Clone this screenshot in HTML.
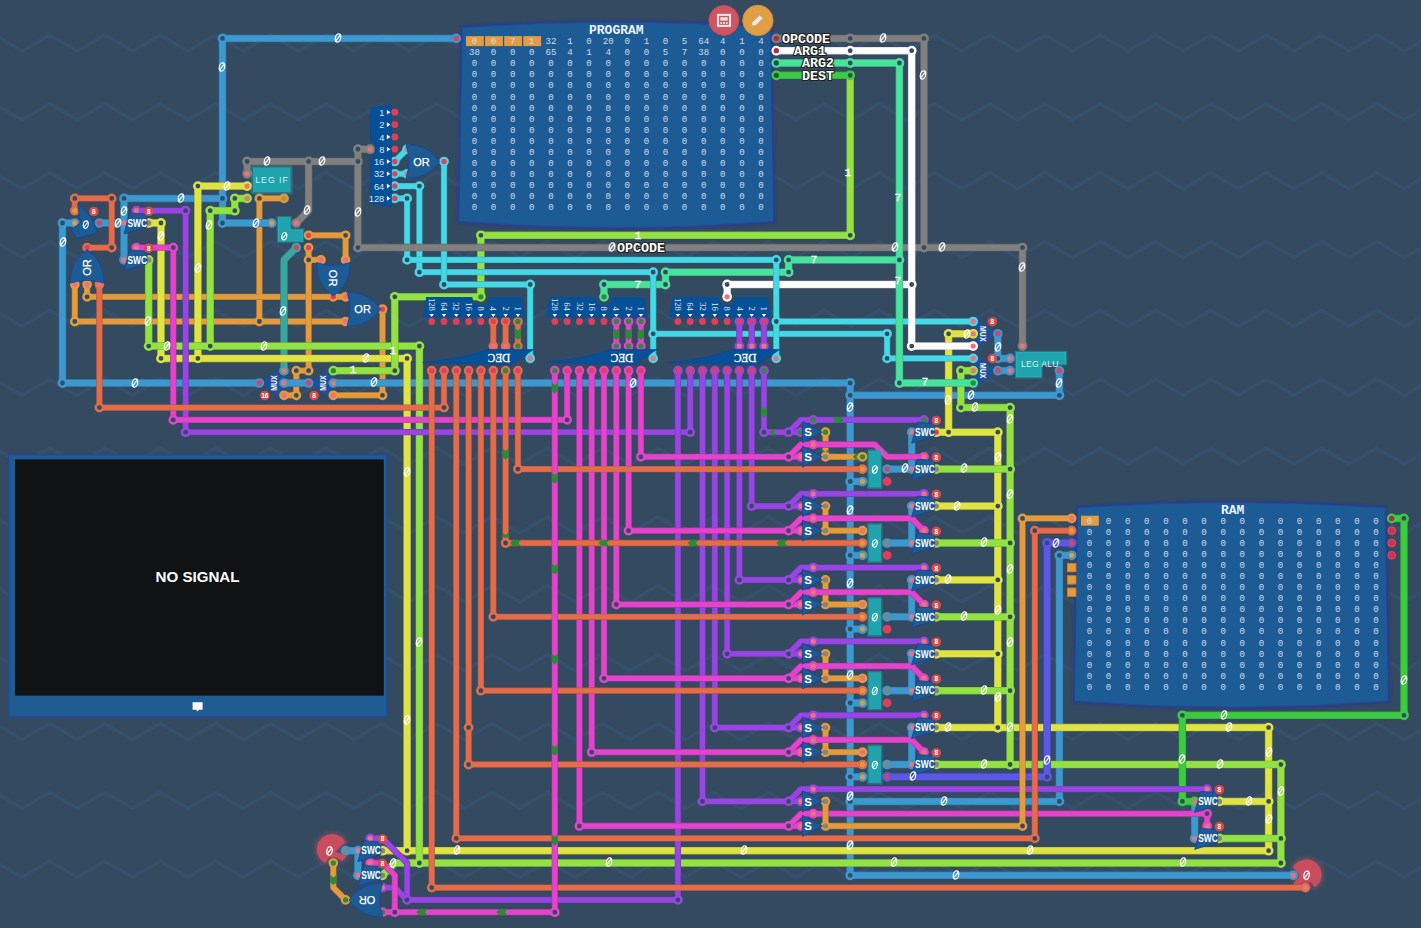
<!DOCTYPE html><html><head><meta charset="utf-8"><title>Turing Complete</title><style>html,body{margin:0;padding:0;background:#344a61;overflow:hidden}svg{display:block}</style></head><body>
<svg font-family="Liberation Sans, sans-serif" width="1421" height="928" viewBox="0 0 1421 928">
<defs><filter id="bl" x="-30%" y="-30%" width="160%" height="160%"><feGaussianBlur stdDeviation="2"/></filter><filter id="bl1" x="-5%" y="-5%" width="110%" height="110%"><feGaussianBlur stdDeviation="1.3"/></filter></defs>
<rect width="1421" height="928" fill="#344a61"/>
<polyline points="-61.0,35.0 -33.3,51.0 -5.7,35.0 22.0,51.0 49.6,35.0 77.2,51.0 104.9,35.0 132.6,51.0 160.2,35.0 187.8,51.0 215.5,35.0 243.2,51.0 270.8,35.0 298.4,51.0 326.1,35.0 353.8,51.0 381.4,35.0 409.1,51.0 436.7,35.0 464.4,51.0 492.0,35.0 519.7,51.0 547.3,35.0 575.0,51.0 602.6,35.0 630.2,51.0 657.9,35.0 685.5,51.0 713.2,35.0 740.8,51.0 768.5,35.0 796.1,51.0 823.8,35.0 851.4,51.0 879.1,35.0 906.7,51.0 934.4,35.0 962.0,51.0 989.7,35.0 1017.3,51.0 1045.0,35.0 1072.6,51.0 1100.3,35.0 1127.9,51.0 1155.6,35.0 1183.2,51.0 1210.9,35.0 1238.5,51.0 1266.2,35.0 1293.8,51.0 1321.5,35.0 1349.1,51.0 1376.8,35.0 1404.4,51.0 1432.1,35.0 1459.7,51.0" fill="none" stroke="#36506c" stroke-width="3.6" stroke-linejoin="miter"/>
<polyline points="-61.0,103.8 -33.3,119.8 -5.7,103.8 22.0,119.8 49.6,103.8 77.2,119.8 104.9,103.8 132.6,119.8 160.2,103.8 187.8,119.8 215.5,103.8 243.2,119.8 270.8,103.8 298.4,119.8 326.1,103.8 353.8,119.8 381.4,103.8 409.1,119.8 436.7,103.8 464.4,119.8 492.0,103.8 519.7,119.8 547.3,103.8 575.0,119.8 602.6,103.8 630.2,119.8 657.9,103.8 685.5,119.8 713.2,103.8 740.8,119.8 768.5,103.8 796.1,119.8 823.8,103.8 851.4,119.8 879.1,103.8 906.7,119.8 934.4,103.8 962.0,119.8 989.7,103.8 1017.3,119.8 1045.0,103.8 1072.6,119.8 1100.3,103.8 1127.9,119.8 1155.6,103.8 1183.2,119.8 1210.9,103.8 1238.5,119.8 1266.2,103.8 1293.8,119.8 1321.5,103.8 1349.1,119.8 1376.8,103.8 1404.4,119.8 1432.1,103.8 1459.7,119.8" fill="none" stroke="#36506c" stroke-width="3.6" stroke-linejoin="miter"/>
<polyline points="-61.0,172.7 -33.3,188.7 -5.7,172.7 22.0,188.7 49.6,172.7 77.2,188.7 104.9,172.7 132.6,188.7 160.2,172.7 187.8,188.7 215.5,172.7 243.2,188.7 270.8,172.7 298.4,188.7 326.1,172.7 353.8,188.7 381.4,172.7 409.1,188.7 436.7,172.7 464.4,188.7 492.0,172.7 519.7,188.7 547.3,172.7 575.0,188.7 602.6,172.7 630.2,188.7 657.9,172.7 685.5,188.7 713.2,172.7 740.8,188.7 768.5,172.7 796.1,188.7 823.8,172.7 851.4,188.7 879.1,172.7 906.7,188.7 934.4,172.7 962.0,188.7 989.7,172.7 1017.3,188.7 1045.0,172.7 1072.6,188.7 1100.3,172.7 1127.9,188.7 1155.6,172.7 1183.2,188.7 1210.9,172.7 1238.5,188.7 1266.2,172.7 1293.8,188.7 1321.5,172.7 1349.1,188.7 1376.8,172.7 1404.4,188.7 1432.1,172.7 1459.7,188.7" fill="none" stroke="#36506c" stroke-width="3.6" stroke-linejoin="miter"/>
<polyline points="-61.0,241.5 -33.3,257.5 -5.7,241.5 22.0,257.5 49.6,241.5 77.2,257.5 104.9,241.5 132.6,257.5 160.2,241.5 187.8,257.5 215.5,241.5 243.2,257.5 270.8,241.5 298.4,257.5 326.1,241.5 353.8,257.5 381.4,241.5 409.1,257.5 436.7,241.5 464.4,257.5 492.0,241.5 519.7,257.5 547.3,241.5 575.0,257.5 602.6,241.5 630.2,257.5 657.9,241.5 685.5,257.5 713.2,241.5 740.8,257.5 768.5,241.5 796.1,257.5 823.8,241.5 851.4,257.5 879.1,241.5 906.7,257.5 934.4,241.5 962.0,257.5 989.7,241.5 1017.3,257.5 1045.0,241.5 1072.6,257.5 1100.3,241.5 1127.9,257.5 1155.6,241.5 1183.2,257.5 1210.9,241.5 1238.5,257.5 1266.2,241.5 1293.8,257.5 1321.5,241.5 1349.1,257.5 1376.8,241.5 1404.4,257.5 1432.1,241.5 1459.7,257.5" fill="none" stroke="#36506c" stroke-width="3.6" stroke-linejoin="miter"/>
<polyline points="-61.0,310.4 -33.3,326.4 -5.7,310.4 22.0,326.4 49.6,310.4 77.2,326.4 104.9,310.4 132.6,326.4 160.2,310.4 187.8,326.4 215.5,310.4 243.2,326.4 270.8,310.4 298.4,326.4 326.1,310.4 353.8,326.4 381.4,310.4 409.1,326.4 436.7,310.4 464.4,326.4 492.0,310.4 519.7,326.4 547.3,310.4 575.0,326.4 602.6,310.4 630.2,326.4 657.9,310.4 685.5,326.4 713.2,310.4 740.8,326.4 768.5,310.4 796.1,326.4 823.8,310.4 851.4,326.4 879.1,310.4 906.7,326.4 934.4,310.4 962.0,326.4 989.7,310.4 1017.3,326.4 1045.0,310.4 1072.6,326.4 1100.3,310.4 1127.9,326.4 1155.6,310.4 1183.2,326.4 1210.9,310.4 1238.5,326.4 1266.2,310.4 1293.8,326.4 1321.5,310.4 1349.1,326.4 1376.8,310.4 1404.4,326.4 1432.1,310.4 1459.7,326.4" fill="none" stroke="#36506c" stroke-width="3.6" stroke-linejoin="miter"/>
<polyline points="-61.0,379.2 -33.3,395.2 -5.7,379.2 22.0,395.2 49.6,379.2 77.2,395.2 104.9,379.2 132.6,395.2 160.2,379.2 187.8,395.2 215.5,379.2 243.2,395.2 270.8,379.2 298.4,395.2 326.1,379.2 353.8,395.2 381.4,379.2 409.1,395.2 436.7,379.2 464.4,395.2 492.0,379.2 519.7,395.2 547.3,379.2 575.0,395.2 602.6,379.2 630.2,395.2 657.9,379.2 685.5,395.2 713.2,379.2 740.8,395.2 768.5,379.2 796.1,395.2 823.8,379.2 851.4,395.2 879.1,379.2 906.7,395.2 934.4,379.2 962.0,395.2 989.7,379.2 1017.3,395.2 1045.0,379.2 1072.6,395.2 1100.3,379.2 1127.9,395.2 1155.6,379.2 1183.2,395.2 1210.9,379.2 1238.5,395.2 1266.2,379.2 1293.8,395.2 1321.5,379.2 1349.1,395.2 1376.8,379.2 1404.4,395.2 1432.1,379.2 1459.7,395.2" fill="none" stroke="#36506c" stroke-width="3.6" stroke-linejoin="miter"/>
<polyline points="-61.0,448.1 -33.3,464.1 -5.7,448.1 22.0,464.1 49.6,448.1 77.2,464.1 104.9,448.1 132.6,464.1 160.2,448.1 187.8,464.1 215.5,448.1 243.2,464.1 270.8,448.1 298.4,464.1 326.1,448.1 353.8,464.1 381.4,448.1 409.1,464.1 436.7,448.1 464.4,464.1 492.0,448.1 519.7,464.1 547.3,448.1 575.0,464.1 602.6,448.1 630.2,464.1 657.9,448.1 685.5,464.1 713.2,448.1 740.8,464.1 768.5,448.1 796.1,464.1 823.8,448.1 851.4,464.1 879.1,448.1 906.7,464.1 934.4,448.1 962.0,464.1 989.7,448.1 1017.3,464.1 1045.0,448.1 1072.6,464.1 1100.3,448.1 1127.9,464.1 1155.6,448.1 1183.2,464.1 1210.9,448.1 1238.5,464.1 1266.2,448.1 1293.8,464.1 1321.5,448.1 1349.1,464.1 1376.8,448.1 1404.4,464.1 1432.1,448.1 1459.7,464.1" fill="none" stroke="#36506c" stroke-width="3.6" stroke-linejoin="miter"/>
<polyline points="-61.0,516.9 -33.3,532.9 -5.7,516.9 22.0,532.9 49.6,516.9 77.2,532.9 104.9,516.9 132.6,532.9 160.2,516.9 187.8,532.9 215.5,516.9 243.2,532.9 270.8,516.9 298.4,532.9 326.1,516.9 353.8,532.9 381.4,516.9 409.1,532.9 436.7,516.9 464.4,532.9 492.0,516.9 519.7,532.9 547.3,516.9 575.0,532.9 602.6,516.9 630.2,532.9 657.9,516.9 685.5,532.9 713.2,516.9 740.8,532.9 768.5,516.9 796.1,532.9 823.8,516.9 851.4,532.9 879.1,516.9 906.7,532.9 934.4,516.9 962.0,532.9 989.7,516.9 1017.3,532.9 1045.0,516.9 1072.6,532.9 1100.3,516.9 1127.9,532.9 1155.6,516.9 1183.2,532.9 1210.9,516.9 1238.5,532.9 1266.2,516.9 1293.8,532.9 1321.5,516.9 1349.1,532.9 1376.8,516.9 1404.4,532.9 1432.1,516.9 1459.7,532.9" fill="none" stroke="#36506c" stroke-width="3.6" stroke-linejoin="miter"/>
<polyline points="-61.0,585.8 -33.3,601.8 -5.7,585.8 22.0,601.8 49.6,585.8 77.2,601.8 104.9,585.8 132.6,601.8 160.2,585.8 187.8,601.8 215.5,585.8 243.2,601.8 270.8,585.8 298.4,601.8 326.1,585.8 353.8,601.8 381.4,585.8 409.1,601.8 436.7,585.8 464.4,601.8 492.0,585.8 519.7,601.8 547.3,585.8 575.0,601.8 602.6,585.8 630.2,601.8 657.9,585.8 685.5,601.8 713.2,585.8 740.8,601.8 768.5,585.8 796.1,601.8 823.8,585.8 851.4,601.8 879.1,585.8 906.7,601.8 934.4,585.8 962.0,601.8 989.7,585.8 1017.3,601.8 1045.0,585.8 1072.6,601.8 1100.3,585.8 1127.9,601.8 1155.6,585.8 1183.2,601.8 1210.9,585.8 1238.5,601.8 1266.2,585.8 1293.8,601.8 1321.5,585.8 1349.1,601.8 1376.8,585.8 1404.4,601.8 1432.1,585.8 1459.7,601.8" fill="none" stroke="#36506c" stroke-width="3.6" stroke-linejoin="miter"/>
<polyline points="-61.0,654.6 -33.3,670.6 -5.7,654.6 22.0,670.6 49.6,654.6 77.2,670.6 104.9,654.6 132.6,670.6 160.2,654.6 187.8,670.6 215.5,654.6 243.2,670.6 270.8,654.6 298.4,670.6 326.1,654.6 353.8,670.6 381.4,654.6 409.1,670.6 436.7,654.6 464.4,670.6 492.0,654.6 519.7,670.6 547.3,654.6 575.0,670.6 602.6,654.6 630.2,670.6 657.9,654.6 685.5,670.6 713.2,654.6 740.8,670.6 768.5,654.6 796.1,670.6 823.8,654.6 851.4,670.6 879.1,654.6 906.7,670.6 934.4,654.6 962.0,670.6 989.7,654.6 1017.3,670.6 1045.0,654.6 1072.6,670.6 1100.3,654.6 1127.9,670.6 1155.6,654.6 1183.2,670.6 1210.9,654.6 1238.5,670.6 1266.2,654.6 1293.8,670.6 1321.5,654.6 1349.1,670.6 1376.8,654.6 1404.4,670.6 1432.1,654.6 1459.7,670.6" fill="none" stroke="#36506c" stroke-width="3.6" stroke-linejoin="miter"/>
<polyline points="-61.0,723.5 -33.3,739.5 -5.7,723.5 22.0,739.5 49.6,723.5 77.2,739.5 104.9,723.5 132.6,739.5 160.2,723.5 187.8,739.5 215.5,723.5 243.2,739.5 270.8,723.5 298.4,739.5 326.1,723.5 353.8,739.5 381.4,723.5 409.1,739.5 436.7,723.5 464.4,739.5 492.0,723.5 519.7,739.5 547.3,723.5 575.0,739.5 602.6,723.5 630.2,739.5 657.9,723.5 685.5,739.5 713.2,723.5 740.8,739.5 768.5,723.5 796.1,739.5 823.8,723.5 851.4,739.5 879.1,723.5 906.7,739.5 934.4,723.5 962.0,739.5 989.7,723.5 1017.3,739.5 1045.0,723.5 1072.6,739.5 1100.3,723.5 1127.9,739.5 1155.6,723.5 1183.2,739.5 1210.9,723.5 1238.5,739.5 1266.2,723.5 1293.8,739.5 1321.5,723.5 1349.1,739.5 1376.8,723.5 1404.4,739.5 1432.1,723.5 1459.7,739.5" fill="none" stroke="#36506c" stroke-width="3.6" stroke-linejoin="miter"/>
<polyline points="-61.0,792.3 -33.3,808.3 -5.7,792.3 22.0,808.3 49.6,792.3 77.2,808.3 104.9,792.3 132.6,808.3 160.2,792.3 187.8,808.3 215.5,792.3 243.2,808.3 270.8,792.3 298.4,808.3 326.1,792.3 353.8,808.3 381.4,792.3 409.1,808.3 436.7,792.3 464.4,808.3 492.0,792.3 519.7,808.3 547.3,792.3 575.0,808.3 602.6,792.3 630.2,808.3 657.9,792.3 685.5,808.3 713.2,792.3 740.8,808.3 768.5,792.3 796.1,808.3 823.8,792.3 851.4,808.3 879.1,792.3 906.7,808.3 934.4,792.3 962.0,808.3 989.7,792.3 1017.3,808.3 1045.0,792.3 1072.6,808.3 1100.3,792.3 1127.9,808.3 1155.6,792.3 1183.2,808.3 1210.9,792.3 1238.5,808.3 1266.2,792.3 1293.8,808.3 1321.5,792.3 1349.1,808.3 1376.8,792.3 1404.4,808.3 1432.1,792.3 1459.7,808.3" fill="none" stroke="#36506c" stroke-width="3.6" stroke-linejoin="miter"/>
<polyline points="-61.0,861.2 -33.3,877.2 -5.7,861.2 22.0,877.2 49.6,861.2 77.2,877.2 104.9,861.2 132.6,877.2 160.2,861.2 187.8,877.2 215.5,861.2 243.2,877.2 270.8,861.2 298.4,877.2 326.1,861.2 353.8,877.2 381.4,861.2 409.1,877.2 436.7,861.2 464.4,877.2 492.0,861.2 519.7,877.2 547.3,861.2 575.0,877.2 602.6,861.2 630.2,877.2 657.9,861.2 685.5,877.2 713.2,861.2 740.8,877.2 768.5,861.2 796.1,877.2 823.8,861.2 851.4,877.2 879.1,861.2 906.7,877.2 934.4,861.2 962.0,877.2 989.7,861.2 1017.3,877.2 1045.0,861.2 1072.6,877.2 1100.3,861.2 1127.9,877.2 1155.6,861.2 1183.2,877.2 1210.9,861.2 1238.5,877.2 1266.2,861.2 1293.8,877.2 1321.5,861.2 1349.1,877.2 1376.8,861.2 1404.4,877.2 1432.1,861.2 1459.7,877.2" fill="none" stroke="#36506c" stroke-width="3.6" stroke-linejoin="miter"/>
<polyline points="-61.0,930.0 -33.3,946.0 -5.7,930.0 22.0,946.0 49.6,930.0 77.2,946.0 104.9,930.0 132.6,946.0 160.2,930.0 187.8,946.0 215.5,930.0 243.2,946.0 270.8,930.0 298.4,946.0 326.1,930.0 353.8,946.0 381.4,930.0 409.1,946.0 436.7,930.0 464.4,946.0 492.0,930.0 519.7,946.0 547.3,930.0 575.0,946.0 602.6,930.0 630.2,946.0 657.9,930.0 685.5,946.0 713.2,930.0 740.8,946.0 768.5,930.0 796.1,946.0 823.8,930.0 851.4,946.0 879.1,930.0 906.7,946.0 934.4,930.0 962.0,946.0 989.7,930.0 1017.3,946.0 1045.0,930.0 1072.6,946.0 1100.3,930.0 1127.9,946.0 1155.6,930.0 1183.2,946.0 1210.9,930.0 1238.5,946.0 1266.2,930.0 1293.8,946.0 1321.5,930.0 1349.1,946.0 1376.8,930.0 1404.4,946.0 1432.1,930.0 1459.7,946.0" fill="none" stroke="#36506c" stroke-width="3.6" stroke-linejoin="miter"/>
<path d="M335.1,851.4 L345.3,842.0 A15.2,15.2 0 1 0 325.1,862.9 L329.1,857.4 L336.1,857.4 L342.1,860.7 L346.7,856.4 Z" fill="#e8546a" opacity="0.35" stroke="#e8546a" stroke-width="4" stroke-linejoin="round" filter="url(#bl)"/><path d="M335.1,851.4 L345.3,842.0 A15.2,15.2 0 1 0 325.1,862.9 L329.1,857.4 L336.1,857.4 L342.1,860.7 L346.7,856.4 Z" fill="#c94d5e"/><g transform="translate(329.5,851.0) skewX(-8) scale(1.05)" fill="none" stroke="#fff" stroke-width="1.2"><ellipse rx="2.6" ry="3.9"/><path d="M-1.8,2.8 L1.8,-2.8"/></g>
<path d="M1299.9,875.2 L1293.0,867.5 A15.2,15.2 0 1 1 1314.9,887.3 L1310.9,882.3 L1302.9,882.7 L1296.8,887.5 L1293.4,883.7 Z" fill="#e8546a" opacity="0.35" stroke="#e8546a" stroke-width="4" stroke-linejoin="round" filter="url(#bl)"/><path d="M1299.9,875.2 L1293.0,867.5 A15.2,15.2 0 1 1 1314.9,887.3 L1310.9,882.3 L1302.9,882.7 L1296.8,887.5 L1293.4,883.7 Z" fill="#c94d5e"/><g transform="translate(1306.6,875.3) skewX(-8) scale(1.05)" fill="none" stroke="#fff" stroke-width="1.2"><ellipse rx="2.6" ry="3.9"/><path d="M-1.8,2.8 L1.8,-2.8"/></g>
<path d="M462.2,27.5 Q616.3,17.0 770.4,27.5 L773.6,221.5 Q616.3,234.0 459.0,221.5 Z" fill="#2a3d86" stroke="#2a3d86" stroke-width="4.5" stroke-linejoin="round" filter="url(#bl1)" opacity="0.9"/><path d="M462.2,27.5 Q616.3,17.0 770.4,27.5 L773.6,221.5 Q616.3,234.0 459.0,221.5 Z" fill="#1d5b94" stroke="#24459c" stroke-width="0.8" stroke-linejoin="round"/><text x="616.3" y="34.2" font-family="Liberation Mono" font-size="13" font-weight="bold" fill="#eef3fa" text-anchor="middle" >PROGRAM</text><rect x="466.0" y="36.1" width="17.8" height="10" fill="#e39c41"/><rect x="485.1" y="36.1" width="17.8" height="10" fill="#e39c41"/><rect x="504.2" y="36.1" width="17.8" height="10" fill="#e39c41"/><rect x="523.3" y="36.1" width="17.8" height="10" fill="#e39c41"/><text transform="translate(474.5,44.1) scale(1.1,1)" font-family="Liberation Mono" font-size="8.3" fill="#cfdcee" text-anchor="middle">0</text><text transform="translate(493.6,44.1) scale(1.1,1)" font-family="Liberation Mono" font-size="8.3" fill="#cfdcee" text-anchor="middle">0</text><text transform="translate(512.7,44.1) scale(1.1,1)" font-family="Liberation Mono" font-size="8.3" fill="#cfdcee" text-anchor="middle">7</text><text transform="translate(531.8,44.1) scale(1.1,1)" font-family="Liberation Mono" font-size="8.3" fill="#cfdcee" text-anchor="middle">1</text><text transform="translate(550.9,44.1) scale(1.1,1)" font-family="Liberation Mono" font-size="8.3" fill="#cfdcee" text-anchor="middle">32</text><text transform="translate(570.0,44.1) scale(1.1,1)" font-family="Liberation Mono" font-size="8.3" fill="#cfdcee" text-anchor="middle">1</text><text transform="translate(589.1,44.1) scale(1.1,1)" font-family="Liberation Mono" font-size="8.3" fill="#cfdcee" text-anchor="middle">0</text><text transform="translate(608.2,44.1) scale(1.1,1)" font-family="Liberation Mono" font-size="8.3" fill="#cfdcee" text-anchor="middle">20</text><text transform="translate(627.3,44.1) scale(1.1,1)" font-family="Liberation Mono" font-size="8.3" fill="#cfdcee" text-anchor="middle">0</text><text transform="translate(646.4,44.1) scale(1.1,1)" font-family="Liberation Mono" font-size="8.3" fill="#cfdcee" text-anchor="middle">1</text><text transform="translate(665.5,44.1) scale(1.1,1)" font-family="Liberation Mono" font-size="8.3" fill="#cfdcee" text-anchor="middle">0</text><text transform="translate(684.6,44.1) scale(1.1,1)" font-family="Liberation Mono" font-size="8.3" fill="#cfdcee" text-anchor="middle">5</text><text transform="translate(703.7,44.1) scale(1.1,1)" font-family="Liberation Mono" font-size="8.3" fill="#cfdcee" text-anchor="middle">64</text><text transform="translate(722.8,44.1) scale(1.1,1)" font-family="Liberation Mono" font-size="8.3" fill="#cfdcee" text-anchor="middle">4</text><text transform="translate(741.9,44.1) scale(1.1,1)" font-family="Liberation Mono" font-size="8.3" fill="#cfdcee" text-anchor="middle">1</text><text transform="translate(761.0,44.1) scale(1.1,1)" font-family="Liberation Mono" font-size="8.3" fill="#cfdcee" text-anchor="middle">4</text><text transform="translate(474.5,55.2) scale(1.1,1)" font-family="Liberation Mono" font-size="8.3" fill="#cfdcee" text-anchor="middle">38</text><text transform="translate(493.6,55.2) scale(1.1,1)" font-family="Liberation Mono" font-size="8.3" fill="#cfdcee" text-anchor="middle">0</text><text transform="translate(512.7,55.2) scale(1.1,1)" font-family="Liberation Mono" font-size="8.3" fill="#cfdcee" text-anchor="middle">0</text><text transform="translate(531.8,55.2) scale(1.1,1)" font-family="Liberation Mono" font-size="8.3" fill="#cfdcee" text-anchor="middle">0</text><text transform="translate(550.9,55.2) scale(1.1,1)" font-family="Liberation Mono" font-size="8.3" fill="#cfdcee" text-anchor="middle">65</text><text transform="translate(570.0,55.2) scale(1.1,1)" font-family="Liberation Mono" font-size="8.3" fill="#cfdcee" text-anchor="middle">4</text><text transform="translate(589.1,55.2) scale(1.1,1)" font-family="Liberation Mono" font-size="8.3" fill="#cfdcee" text-anchor="middle">1</text><text transform="translate(608.2,55.2) scale(1.1,1)" font-family="Liberation Mono" font-size="8.3" fill="#cfdcee" text-anchor="middle">4</text><text transform="translate(627.3,55.2) scale(1.1,1)" font-family="Liberation Mono" font-size="8.3" fill="#cfdcee" text-anchor="middle">0</text><text transform="translate(646.4,55.2) scale(1.1,1)" font-family="Liberation Mono" font-size="8.3" fill="#cfdcee" text-anchor="middle">0</text><text transform="translate(665.5,55.2) scale(1.1,1)" font-family="Liberation Mono" font-size="8.3" fill="#cfdcee" text-anchor="middle">5</text><text transform="translate(684.6,55.2) scale(1.1,1)" font-family="Liberation Mono" font-size="8.3" fill="#cfdcee" text-anchor="middle">7</text><text transform="translate(703.7,55.2) scale(1.1,1)" font-family="Liberation Mono" font-size="8.3" fill="#cfdcee" text-anchor="middle">38</text><text transform="translate(722.8,55.2) scale(1.1,1)" font-family="Liberation Mono" font-size="8.3" fill="#cfdcee" text-anchor="middle">0</text><text transform="translate(741.9,55.2) scale(1.1,1)" font-family="Liberation Mono" font-size="8.3" fill="#cfdcee" text-anchor="middle">0</text><text transform="translate(761.0,55.2) scale(1.1,1)" font-family="Liberation Mono" font-size="8.3" fill="#cfdcee" text-anchor="middle">0</text><text transform="translate(474.5,66.2) scale(1.1,1)" font-family="Liberation Mono" font-size="8.3" fill="#cfdcee" text-anchor="middle">0</text><text transform="translate(493.6,66.2) scale(1.1,1)" font-family="Liberation Mono" font-size="8.3" fill="#cfdcee" text-anchor="middle">0</text><text transform="translate(512.7,66.2) scale(1.1,1)" font-family="Liberation Mono" font-size="8.3" fill="#cfdcee" text-anchor="middle">0</text><text transform="translate(531.8,66.2) scale(1.1,1)" font-family="Liberation Mono" font-size="8.3" fill="#cfdcee" text-anchor="middle">0</text><text transform="translate(550.9,66.2) scale(1.1,1)" font-family="Liberation Mono" font-size="8.3" fill="#cfdcee" text-anchor="middle">0</text><text transform="translate(570.0,66.2) scale(1.1,1)" font-family="Liberation Mono" font-size="8.3" fill="#cfdcee" text-anchor="middle">0</text><text transform="translate(589.1,66.2) scale(1.1,1)" font-family="Liberation Mono" font-size="8.3" fill="#cfdcee" text-anchor="middle">0</text><text transform="translate(608.2,66.2) scale(1.1,1)" font-family="Liberation Mono" font-size="8.3" fill="#cfdcee" text-anchor="middle">0</text><text transform="translate(627.3,66.2) scale(1.1,1)" font-family="Liberation Mono" font-size="8.3" fill="#cfdcee" text-anchor="middle">0</text><text transform="translate(646.4,66.2) scale(1.1,1)" font-family="Liberation Mono" font-size="8.3" fill="#cfdcee" text-anchor="middle">0</text><text transform="translate(665.5,66.2) scale(1.1,1)" font-family="Liberation Mono" font-size="8.3" fill="#cfdcee" text-anchor="middle">0</text><text transform="translate(684.6,66.2) scale(1.1,1)" font-family="Liberation Mono" font-size="8.3" fill="#cfdcee" text-anchor="middle">0</text><text transform="translate(703.7,66.2) scale(1.1,1)" font-family="Liberation Mono" font-size="8.3" fill="#cfdcee" text-anchor="middle">0</text><text transform="translate(722.8,66.2) scale(1.1,1)" font-family="Liberation Mono" font-size="8.3" fill="#cfdcee" text-anchor="middle">0</text><text transform="translate(741.9,66.2) scale(1.1,1)" font-family="Liberation Mono" font-size="8.3" fill="#cfdcee" text-anchor="middle">0</text><text transform="translate(761.0,66.2) scale(1.1,1)" font-family="Liberation Mono" font-size="8.3" fill="#cfdcee" text-anchor="middle">0</text><text transform="translate(474.5,77.3) scale(1.1,1)" font-family="Liberation Mono" font-size="8.3" fill="#cfdcee" text-anchor="middle">0</text><text transform="translate(493.6,77.3) scale(1.1,1)" font-family="Liberation Mono" font-size="8.3" fill="#cfdcee" text-anchor="middle">0</text><text transform="translate(512.7,77.3) scale(1.1,1)" font-family="Liberation Mono" font-size="8.3" fill="#cfdcee" text-anchor="middle">0</text><text transform="translate(531.8,77.3) scale(1.1,1)" font-family="Liberation Mono" font-size="8.3" fill="#cfdcee" text-anchor="middle">0</text><text transform="translate(550.9,77.3) scale(1.1,1)" font-family="Liberation Mono" font-size="8.3" fill="#cfdcee" text-anchor="middle">0</text><text transform="translate(570.0,77.3) scale(1.1,1)" font-family="Liberation Mono" font-size="8.3" fill="#cfdcee" text-anchor="middle">0</text><text transform="translate(589.1,77.3) scale(1.1,1)" font-family="Liberation Mono" font-size="8.3" fill="#cfdcee" text-anchor="middle">0</text><text transform="translate(608.2,77.3) scale(1.1,1)" font-family="Liberation Mono" font-size="8.3" fill="#cfdcee" text-anchor="middle">0</text><text transform="translate(627.3,77.3) scale(1.1,1)" font-family="Liberation Mono" font-size="8.3" fill="#cfdcee" text-anchor="middle">0</text><text transform="translate(646.4,77.3) scale(1.1,1)" font-family="Liberation Mono" font-size="8.3" fill="#cfdcee" text-anchor="middle">0</text><text transform="translate(665.5,77.3) scale(1.1,1)" font-family="Liberation Mono" font-size="8.3" fill="#cfdcee" text-anchor="middle">0</text><text transform="translate(684.6,77.3) scale(1.1,1)" font-family="Liberation Mono" font-size="8.3" fill="#cfdcee" text-anchor="middle">0</text><text transform="translate(703.7,77.3) scale(1.1,1)" font-family="Liberation Mono" font-size="8.3" fill="#cfdcee" text-anchor="middle">0</text><text transform="translate(722.8,77.3) scale(1.1,1)" font-family="Liberation Mono" font-size="8.3" fill="#cfdcee" text-anchor="middle">0</text><text transform="translate(741.9,77.3) scale(1.1,1)" font-family="Liberation Mono" font-size="8.3" fill="#cfdcee" text-anchor="middle">0</text><text transform="translate(761.0,77.3) scale(1.1,1)" font-family="Liberation Mono" font-size="8.3" fill="#cfdcee" text-anchor="middle">0</text><text transform="translate(474.5,88.4) scale(1.1,1)" font-family="Liberation Mono" font-size="8.3" fill="#cfdcee" text-anchor="middle">0</text><text transform="translate(493.6,88.4) scale(1.1,1)" font-family="Liberation Mono" font-size="8.3" fill="#cfdcee" text-anchor="middle">0</text><text transform="translate(512.7,88.4) scale(1.1,1)" font-family="Liberation Mono" font-size="8.3" fill="#cfdcee" text-anchor="middle">0</text><text transform="translate(531.8,88.4) scale(1.1,1)" font-family="Liberation Mono" font-size="8.3" fill="#cfdcee" text-anchor="middle">0</text><text transform="translate(550.9,88.4) scale(1.1,1)" font-family="Liberation Mono" font-size="8.3" fill="#cfdcee" text-anchor="middle">0</text><text transform="translate(570.0,88.4) scale(1.1,1)" font-family="Liberation Mono" font-size="8.3" fill="#cfdcee" text-anchor="middle">0</text><text transform="translate(589.1,88.4) scale(1.1,1)" font-family="Liberation Mono" font-size="8.3" fill="#cfdcee" text-anchor="middle">0</text><text transform="translate(608.2,88.4) scale(1.1,1)" font-family="Liberation Mono" font-size="8.3" fill="#cfdcee" text-anchor="middle">0</text><text transform="translate(627.3,88.4) scale(1.1,1)" font-family="Liberation Mono" font-size="8.3" fill="#cfdcee" text-anchor="middle">0</text><text transform="translate(646.4,88.4) scale(1.1,1)" font-family="Liberation Mono" font-size="8.3" fill="#cfdcee" text-anchor="middle">0</text><text transform="translate(665.5,88.4) scale(1.1,1)" font-family="Liberation Mono" font-size="8.3" fill="#cfdcee" text-anchor="middle">0</text><text transform="translate(684.6,88.4) scale(1.1,1)" font-family="Liberation Mono" font-size="8.3" fill="#cfdcee" text-anchor="middle">0</text><text transform="translate(703.7,88.4) scale(1.1,1)" font-family="Liberation Mono" font-size="8.3" fill="#cfdcee" text-anchor="middle">0</text><text transform="translate(722.8,88.4) scale(1.1,1)" font-family="Liberation Mono" font-size="8.3" fill="#cfdcee" text-anchor="middle">0</text><text transform="translate(741.9,88.4) scale(1.1,1)" font-family="Liberation Mono" font-size="8.3" fill="#cfdcee" text-anchor="middle">0</text><text transform="translate(761.0,88.4) scale(1.1,1)" font-family="Liberation Mono" font-size="8.3" fill="#cfdcee" text-anchor="middle">0</text><text transform="translate(474.5,99.5) scale(1.1,1)" font-family="Liberation Mono" font-size="8.3" fill="#cfdcee" text-anchor="middle">0</text><text transform="translate(493.6,99.5) scale(1.1,1)" font-family="Liberation Mono" font-size="8.3" fill="#cfdcee" text-anchor="middle">0</text><text transform="translate(512.7,99.5) scale(1.1,1)" font-family="Liberation Mono" font-size="8.3" fill="#cfdcee" text-anchor="middle">0</text><text transform="translate(531.8,99.5) scale(1.1,1)" font-family="Liberation Mono" font-size="8.3" fill="#cfdcee" text-anchor="middle">0</text><text transform="translate(550.9,99.5) scale(1.1,1)" font-family="Liberation Mono" font-size="8.3" fill="#cfdcee" text-anchor="middle">0</text><text transform="translate(570.0,99.5) scale(1.1,1)" font-family="Liberation Mono" font-size="8.3" fill="#cfdcee" text-anchor="middle">0</text><text transform="translate(589.1,99.5) scale(1.1,1)" font-family="Liberation Mono" font-size="8.3" fill="#cfdcee" text-anchor="middle">0</text><text transform="translate(608.2,99.5) scale(1.1,1)" font-family="Liberation Mono" font-size="8.3" fill="#cfdcee" text-anchor="middle">0</text><text transform="translate(627.3,99.5) scale(1.1,1)" font-family="Liberation Mono" font-size="8.3" fill="#cfdcee" text-anchor="middle">0</text><text transform="translate(646.4,99.5) scale(1.1,1)" font-family="Liberation Mono" font-size="8.3" fill="#cfdcee" text-anchor="middle">0</text><text transform="translate(665.5,99.5) scale(1.1,1)" font-family="Liberation Mono" font-size="8.3" fill="#cfdcee" text-anchor="middle">0</text><text transform="translate(684.6,99.5) scale(1.1,1)" font-family="Liberation Mono" font-size="8.3" fill="#cfdcee" text-anchor="middle">0</text><text transform="translate(703.7,99.5) scale(1.1,1)" font-family="Liberation Mono" font-size="8.3" fill="#cfdcee" text-anchor="middle">0</text><text transform="translate(722.8,99.5) scale(1.1,1)" font-family="Liberation Mono" font-size="8.3" fill="#cfdcee" text-anchor="middle">0</text><text transform="translate(741.9,99.5) scale(1.1,1)" font-family="Liberation Mono" font-size="8.3" fill="#cfdcee" text-anchor="middle">0</text><text transform="translate(761.0,99.5) scale(1.1,1)" font-family="Liberation Mono" font-size="8.3" fill="#cfdcee" text-anchor="middle">0</text><text transform="translate(474.5,110.5) scale(1.1,1)" font-family="Liberation Mono" font-size="8.3" fill="#cfdcee" text-anchor="middle">0</text><text transform="translate(493.6,110.5) scale(1.1,1)" font-family="Liberation Mono" font-size="8.3" fill="#cfdcee" text-anchor="middle">0</text><text transform="translate(512.7,110.5) scale(1.1,1)" font-family="Liberation Mono" font-size="8.3" fill="#cfdcee" text-anchor="middle">0</text><text transform="translate(531.8,110.5) scale(1.1,1)" font-family="Liberation Mono" font-size="8.3" fill="#cfdcee" text-anchor="middle">0</text><text transform="translate(550.9,110.5) scale(1.1,1)" font-family="Liberation Mono" font-size="8.3" fill="#cfdcee" text-anchor="middle">0</text><text transform="translate(570.0,110.5) scale(1.1,1)" font-family="Liberation Mono" font-size="8.3" fill="#cfdcee" text-anchor="middle">0</text><text transform="translate(589.1,110.5) scale(1.1,1)" font-family="Liberation Mono" font-size="8.3" fill="#cfdcee" text-anchor="middle">0</text><text transform="translate(608.2,110.5) scale(1.1,1)" font-family="Liberation Mono" font-size="8.3" fill="#cfdcee" text-anchor="middle">0</text><text transform="translate(627.3,110.5) scale(1.1,1)" font-family="Liberation Mono" font-size="8.3" fill="#cfdcee" text-anchor="middle">0</text><text transform="translate(646.4,110.5) scale(1.1,1)" font-family="Liberation Mono" font-size="8.3" fill="#cfdcee" text-anchor="middle">0</text><text transform="translate(665.5,110.5) scale(1.1,1)" font-family="Liberation Mono" font-size="8.3" fill="#cfdcee" text-anchor="middle">0</text><text transform="translate(684.6,110.5) scale(1.1,1)" font-family="Liberation Mono" font-size="8.3" fill="#cfdcee" text-anchor="middle">0</text><text transform="translate(703.7,110.5) scale(1.1,1)" font-family="Liberation Mono" font-size="8.3" fill="#cfdcee" text-anchor="middle">0</text><text transform="translate(722.8,110.5) scale(1.1,1)" font-family="Liberation Mono" font-size="8.3" fill="#cfdcee" text-anchor="middle">0</text><text transform="translate(741.9,110.5) scale(1.1,1)" font-family="Liberation Mono" font-size="8.3" fill="#cfdcee" text-anchor="middle">0</text><text transform="translate(761.0,110.5) scale(1.1,1)" font-family="Liberation Mono" font-size="8.3" fill="#cfdcee" text-anchor="middle">0</text><text transform="translate(474.5,121.6) scale(1.1,1)" font-family="Liberation Mono" font-size="8.3" fill="#cfdcee" text-anchor="middle">0</text><text transform="translate(493.6,121.6) scale(1.1,1)" font-family="Liberation Mono" font-size="8.3" fill="#cfdcee" text-anchor="middle">0</text><text transform="translate(512.7,121.6) scale(1.1,1)" font-family="Liberation Mono" font-size="8.3" fill="#cfdcee" text-anchor="middle">0</text><text transform="translate(531.8,121.6) scale(1.1,1)" font-family="Liberation Mono" font-size="8.3" fill="#cfdcee" text-anchor="middle">0</text><text transform="translate(550.9,121.6) scale(1.1,1)" font-family="Liberation Mono" font-size="8.3" fill="#cfdcee" text-anchor="middle">0</text><text transform="translate(570.0,121.6) scale(1.1,1)" font-family="Liberation Mono" font-size="8.3" fill="#cfdcee" text-anchor="middle">0</text><text transform="translate(589.1,121.6) scale(1.1,1)" font-family="Liberation Mono" font-size="8.3" fill="#cfdcee" text-anchor="middle">0</text><text transform="translate(608.2,121.6) scale(1.1,1)" font-family="Liberation Mono" font-size="8.3" fill="#cfdcee" text-anchor="middle">0</text><text transform="translate(627.3,121.6) scale(1.1,1)" font-family="Liberation Mono" font-size="8.3" fill="#cfdcee" text-anchor="middle">0</text><text transform="translate(646.4,121.6) scale(1.1,1)" font-family="Liberation Mono" font-size="8.3" fill="#cfdcee" text-anchor="middle">0</text><text transform="translate(665.5,121.6) scale(1.1,1)" font-family="Liberation Mono" font-size="8.3" fill="#cfdcee" text-anchor="middle">0</text><text transform="translate(684.6,121.6) scale(1.1,1)" font-family="Liberation Mono" font-size="8.3" fill="#cfdcee" text-anchor="middle">0</text><text transform="translate(703.7,121.6) scale(1.1,1)" font-family="Liberation Mono" font-size="8.3" fill="#cfdcee" text-anchor="middle">0</text><text transform="translate(722.8,121.6) scale(1.1,1)" font-family="Liberation Mono" font-size="8.3" fill="#cfdcee" text-anchor="middle">0</text><text transform="translate(741.9,121.6) scale(1.1,1)" font-family="Liberation Mono" font-size="8.3" fill="#cfdcee" text-anchor="middle">0</text><text transform="translate(761.0,121.6) scale(1.1,1)" font-family="Liberation Mono" font-size="8.3" fill="#cfdcee" text-anchor="middle">0</text><text transform="translate(474.5,132.7) scale(1.1,1)" font-family="Liberation Mono" font-size="8.3" fill="#cfdcee" text-anchor="middle">0</text><text transform="translate(493.6,132.7) scale(1.1,1)" font-family="Liberation Mono" font-size="8.3" fill="#cfdcee" text-anchor="middle">0</text><text transform="translate(512.7,132.7) scale(1.1,1)" font-family="Liberation Mono" font-size="8.3" fill="#cfdcee" text-anchor="middle">0</text><text transform="translate(531.8,132.7) scale(1.1,1)" font-family="Liberation Mono" font-size="8.3" fill="#cfdcee" text-anchor="middle">0</text><text transform="translate(550.9,132.7) scale(1.1,1)" font-family="Liberation Mono" font-size="8.3" fill="#cfdcee" text-anchor="middle">0</text><text transform="translate(570.0,132.7) scale(1.1,1)" font-family="Liberation Mono" font-size="8.3" fill="#cfdcee" text-anchor="middle">0</text><text transform="translate(589.1,132.7) scale(1.1,1)" font-family="Liberation Mono" font-size="8.3" fill="#cfdcee" text-anchor="middle">0</text><text transform="translate(608.2,132.7) scale(1.1,1)" font-family="Liberation Mono" font-size="8.3" fill="#cfdcee" text-anchor="middle">0</text><text transform="translate(627.3,132.7) scale(1.1,1)" font-family="Liberation Mono" font-size="8.3" fill="#cfdcee" text-anchor="middle">0</text><text transform="translate(646.4,132.7) scale(1.1,1)" font-family="Liberation Mono" font-size="8.3" fill="#cfdcee" text-anchor="middle">0</text><text transform="translate(665.5,132.7) scale(1.1,1)" font-family="Liberation Mono" font-size="8.3" fill="#cfdcee" text-anchor="middle">0</text><text transform="translate(684.6,132.7) scale(1.1,1)" font-family="Liberation Mono" font-size="8.3" fill="#cfdcee" text-anchor="middle">0</text><text transform="translate(703.7,132.7) scale(1.1,1)" font-family="Liberation Mono" font-size="8.3" fill="#cfdcee" text-anchor="middle">0</text><text transform="translate(722.8,132.7) scale(1.1,1)" font-family="Liberation Mono" font-size="8.3" fill="#cfdcee" text-anchor="middle">0</text><text transform="translate(741.9,132.7) scale(1.1,1)" font-family="Liberation Mono" font-size="8.3" fill="#cfdcee" text-anchor="middle">0</text><text transform="translate(761.0,132.7) scale(1.1,1)" font-family="Liberation Mono" font-size="8.3" fill="#cfdcee" text-anchor="middle">0</text><text transform="translate(474.5,143.7) scale(1.1,1)" font-family="Liberation Mono" font-size="8.3" fill="#cfdcee" text-anchor="middle">0</text><text transform="translate(493.6,143.7) scale(1.1,1)" font-family="Liberation Mono" font-size="8.3" fill="#cfdcee" text-anchor="middle">0</text><text transform="translate(512.7,143.7) scale(1.1,1)" font-family="Liberation Mono" font-size="8.3" fill="#cfdcee" text-anchor="middle">0</text><text transform="translate(531.8,143.7) scale(1.1,1)" font-family="Liberation Mono" font-size="8.3" fill="#cfdcee" text-anchor="middle">0</text><text transform="translate(550.9,143.7) scale(1.1,1)" font-family="Liberation Mono" font-size="8.3" fill="#cfdcee" text-anchor="middle">0</text><text transform="translate(570.0,143.7) scale(1.1,1)" font-family="Liberation Mono" font-size="8.3" fill="#cfdcee" text-anchor="middle">0</text><text transform="translate(589.1,143.7) scale(1.1,1)" font-family="Liberation Mono" font-size="8.3" fill="#cfdcee" text-anchor="middle">0</text><text transform="translate(608.2,143.7) scale(1.1,1)" font-family="Liberation Mono" font-size="8.3" fill="#cfdcee" text-anchor="middle">0</text><text transform="translate(627.3,143.7) scale(1.1,1)" font-family="Liberation Mono" font-size="8.3" fill="#cfdcee" text-anchor="middle">0</text><text transform="translate(646.4,143.7) scale(1.1,1)" font-family="Liberation Mono" font-size="8.3" fill="#cfdcee" text-anchor="middle">0</text><text transform="translate(665.5,143.7) scale(1.1,1)" font-family="Liberation Mono" font-size="8.3" fill="#cfdcee" text-anchor="middle">0</text><text transform="translate(684.6,143.7) scale(1.1,1)" font-family="Liberation Mono" font-size="8.3" fill="#cfdcee" text-anchor="middle">0</text><text transform="translate(703.7,143.7) scale(1.1,1)" font-family="Liberation Mono" font-size="8.3" fill="#cfdcee" text-anchor="middle">0</text><text transform="translate(722.8,143.7) scale(1.1,1)" font-family="Liberation Mono" font-size="8.3" fill="#cfdcee" text-anchor="middle">0</text><text transform="translate(741.9,143.7) scale(1.1,1)" font-family="Liberation Mono" font-size="8.3" fill="#cfdcee" text-anchor="middle">0</text><text transform="translate(761.0,143.7) scale(1.1,1)" font-family="Liberation Mono" font-size="8.3" fill="#cfdcee" text-anchor="middle">0</text><text transform="translate(474.5,154.8) scale(1.1,1)" font-family="Liberation Mono" font-size="8.3" fill="#cfdcee" text-anchor="middle">0</text><text transform="translate(493.6,154.8) scale(1.1,1)" font-family="Liberation Mono" font-size="8.3" fill="#cfdcee" text-anchor="middle">0</text><text transform="translate(512.7,154.8) scale(1.1,1)" font-family="Liberation Mono" font-size="8.3" fill="#cfdcee" text-anchor="middle">0</text><text transform="translate(531.8,154.8) scale(1.1,1)" font-family="Liberation Mono" font-size="8.3" fill="#cfdcee" text-anchor="middle">0</text><text transform="translate(550.9,154.8) scale(1.1,1)" font-family="Liberation Mono" font-size="8.3" fill="#cfdcee" text-anchor="middle">0</text><text transform="translate(570.0,154.8) scale(1.1,1)" font-family="Liberation Mono" font-size="8.3" fill="#cfdcee" text-anchor="middle">0</text><text transform="translate(589.1,154.8) scale(1.1,1)" font-family="Liberation Mono" font-size="8.3" fill="#cfdcee" text-anchor="middle">0</text><text transform="translate(608.2,154.8) scale(1.1,1)" font-family="Liberation Mono" font-size="8.3" fill="#cfdcee" text-anchor="middle">0</text><text transform="translate(627.3,154.8) scale(1.1,1)" font-family="Liberation Mono" font-size="8.3" fill="#cfdcee" text-anchor="middle">0</text><text transform="translate(646.4,154.8) scale(1.1,1)" font-family="Liberation Mono" font-size="8.3" fill="#cfdcee" text-anchor="middle">0</text><text transform="translate(665.5,154.8) scale(1.1,1)" font-family="Liberation Mono" font-size="8.3" fill="#cfdcee" text-anchor="middle">0</text><text transform="translate(684.6,154.8) scale(1.1,1)" font-family="Liberation Mono" font-size="8.3" fill="#cfdcee" text-anchor="middle">0</text><text transform="translate(703.7,154.8) scale(1.1,1)" font-family="Liberation Mono" font-size="8.3" fill="#cfdcee" text-anchor="middle">0</text><text transform="translate(722.8,154.8) scale(1.1,1)" font-family="Liberation Mono" font-size="8.3" fill="#cfdcee" text-anchor="middle">0</text><text transform="translate(741.9,154.8) scale(1.1,1)" font-family="Liberation Mono" font-size="8.3" fill="#cfdcee" text-anchor="middle">0</text><text transform="translate(761.0,154.8) scale(1.1,1)" font-family="Liberation Mono" font-size="8.3" fill="#cfdcee" text-anchor="middle">0</text><text transform="translate(474.5,165.9) scale(1.1,1)" font-family="Liberation Mono" font-size="8.3" fill="#cfdcee" text-anchor="middle">0</text><text transform="translate(493.6,165.9) scale(1.1,1)" font-family="Liberation Mono" font-size="8.3" fill="#cfdcee" text-anchor="middle">0</text><text transform="translate(512.7,165.9) scale(1.1,1)" font-family="Liberation Mono" font-size="8.3" fill="#cfdcee" text-anchor="middle">0</text><text transform="translate(531.8,165.9) scale(1.1,1)" font-family="Liberation Mono" font-size="8.3" fill="#cfdcee" text-anchor="middle">0</text><text transform="translate(550.9,165.9) scale(1.1,1)" font-family="Liberation Mono" font-size="8.3" fill="#cfdcee" text-anchor="middle">0</text><text transform="translate(570.0,165.9) scale(1.1,1)" font-family="Liberation Mono" font-size="8.3" fill="#cfdcee" text-anchor="middle">0</text><text transform="translate(589.1,165.9) scale(1.1,1)" font-family="Liberation Mono" font-size="8.3" fill="#cfdcee" text-anchor="middle">0</text><text transform="translate(608.2,165.9) scale(1.1,1)" font-family="Liberation Mono" font-size="8.3" fill="#cfdcee" text-anchor="middle">0</text><text transform="translate(627.3,165.9) scale(1.1,1)" font-family="Liberation Mono" font-size="8.3" fill="#cfdcee" text-anchor="middle">0</text><text transform="translate(646.4,165.9) scale(1.1,1)" font-family="Liberation Mono" font-size="8.3" fill="#cfdcee" text-anchor="middle">0</text><text transform="translate(665.5,165.9) scale(1.1,1)" font-family="Liberation Mono" font-size="8.3" fill="#cfdcee" text-anchor="middle">0</text><text transform="translate(684.6,165.9) scale(1.1,1)" font-family="Liberation Mono" font-size="8.3" fill="#cfdcee" text-anchor="middle">0</text><text transform="translate(703.7,165.9) scale(1.1,1)" font-family="Liberation Mono" font-size="8.3" fill="#cfdcee" text-anchor="middle">0</text><text transform="translate(722.8,165.9) scale(1.1,1)" font-family="Liberation Mono" font-size="8.3" fill="#cfdcee" text-anchor="middle">0</text><text transform="translate(741.9,165.9) scale(1.1,1)" font-family="Liberation Mono" font-size="8.3" fill="#cfdcee" text-anchor="middle">0</text><text transform="translate(761.0,165.9) scale(1.1,1)" font-family="Liberation Mono" font-size="8.3" fill="#cfdcee" text-anchor="middle">0</text><text transform="translate(474.5,176.9) scale(1.1,1)" font-family="Liberation Mono" font-size="8.3" fill="#cfdcee" text-anchor="middle">0</text><text transform="translate(493.6,176.9) scale(1.1,1)" font-family="Liberation Mono" font-size="8.3" fill="#cfdcee" text-anchor="middle">0</text><text transform="translate(512.7,176.9) scale(1.1,1)" font-family="Liberation Mono" font-size="8.3" fill="#cfdcee" text-anchor="middle">0</text><text transform="translate(531.8,176.9) scale(1.1,1)" font-family="Liberation Mono" font-size="8.3" fill="#cfdcee" text-anchor="middle">0</text><text transform="translate(550.9,176.9) scale(1.1,1)" font-family="Liberation Mono" font-size="8.3" fill="#cfdcee" text-anchor="middle">0</text><text transform="translate(570.0,176.9) scale(1.1,1)" font-family="Liberation Mono" font-size="8.3" fill="#cfdcee" text-anchor="middle">0</text><text transform="translate(589.1,176.9) scale(1.1,1)" font-family="Liberation Mono" font-size="8.3" fill="#cfdcee" text-anchor="middle">0</text><text transform="translate(608.2,176.9) scale(1.1,1)" font-family="Liberation Mono" font-size="8.3" fill="#cfdcee" text-anchor="middle">0</text><text transform="translate(627.3,176.9) scale(1.1,1)" font-family="Liberation Mono" font-size="8.3" fill="#cfdcee" text-anchor="middle">0</text><text transform="translate(646.4,176.9) scale(1.1,1)" font-family="Liberation Mono" font-size="8.3" fill="#cfdcee" text-anchor="middle">0</text><text transform="translate(665.5,176.9) scale(1.1,1)" font-family="Liberation Mono" font-size="8.3" fill="#cfdcee" text-anchor="middle">0</text><text transform="translate(684.6,176.9) scale(1.1,1)" font-family="Liberation Mono" font-size="8.3" fill="#cfdcee" text-anchor="middle">0</text><text transform="translate(703.7,176.9) scale(1.1,1)" font-family="Liberation Mono" font-size="8.3" fill="#cfdcee" text-anchor="middle">0</text><text transform="translate(722.8,176.9) scale(1.1,1)" font-family="Liberation Mono" font-size="8.3" fill="#cfdcee" text-anchor="middle">0</text><text transform="translate(741.9,176.9) scale(1.1,1)" font-family="Liberation Mono" font-size="8.3" fill="#cfdcee" text-anchor="middle">0</text><text transform="translate(761.0,176.9) scale(1.1,1)" font-family="Liberation Mono" font-size="8.3" fill="#cfdcee" text-anchor="middle">0</text><text transform="translate(474.5,188.0) scale(1.1,1)" font-family="Liberation Mono" font-size="8.3" fill="#cfdcee" text-anchor="middle">0</text><text transform="translate(493.6,188.0) scale(1.1,1)" font-family="Liberation Mono" font-size="8.3" fill="#cfdcee" text-anchor="middle">0</text><text transform="translate(512.7,188.0) scale(1.1,1)" font-family="Liberation Mono" font-size="8.3" fill="#cfdcee" text-anchor="middle">0</text><text transform="translate(531.8,188.0) scale(1.1,1)" font-family="Liberation Mono" font-size="8.3" fill="#cfdcee" text-anchor="middle">0</text><text transform="translate(550.9,188.0) scale(1.1,1)" font-family="Liberation Mono" font-size="8.3" fill="#cfdcee" text-anchor="middle">0</text><text transform="translate(570.0,188.0) scale(1.1,1)" font-family="Liberation Mono" font-size="8.3" fill="#cfdcee" text-anchor="middle">0</text><text transform="translate(589.1,188.0) scale(1.1,1)" font-family="Liberation Mono" font-size="8.3" fill="#cfdcee" text-anchor="middle">0</text><text transform="translate(608.2,188.0) scale(1.1,1)" font-family="Liberation Mono" font-size="8.3" fill="#cfdcee" text-anchor="middle">0</text><text transform="translate(627.3,188.0) scale(1.1,1)" font-family="Liberation Mono" font-size="8.3" fill="#cfdcee" text-anchor="middle">0</text><text transform="translate(646.4,188.0) scale(1.1,1)" font-family="Liberation Mono" font-size="8.3" fill="#cfdcee" text-anchor="middle">0</text><text transform="translate(665.5,188.0) scale(1.1,1)" font-family="Liberation Mono" font-size="8.3" fill="#cfdcee" text-anchor="middle">0</text><text transform="translate(684.6,188.0) scale(1.1,1)" font-family="Liberation Mono" font-size="8.3" fill="#cfdcee" text-anchor="middle">0</text><text transform="translate(703.7,188.0) scale(1.1,1)" font-family="Liberation Mono" font-size="8.3" fill="#cfdcee" text-anchor="middle">0</text><text transform="translate(722.8,188.0) scale(1.1,1)" font-family="Liberation Mono" font-size="8.3" fill="#cfdcee" text-anchor="middle">0</text><text transform="translate(741.9,188.0) scale(1.1,1)" font-family="Liberation Mono" font-size="8.3" fill="#cfdcee" text-anchor="middle">0</text><text transform="translate(761.0,188.0) scale(1.1,1)" font-family="Liberation Mono" font-size="8.3" fill="#cfdcee" text-anchor="middle">0</text><text transform="translate(474.5,199.1) scale(1.1,1)" font-family="Liberation Mono" font-size="8.3" fill="#cfdcee" text-anchor="middle">0</text><text transform="translate(493.6,199.1) scale(1.1,1)" font-family="Liberation Mono" font-size="8.3" fill="#cfdcee" text-anchor="middle">0</text><text transform="translate(512.7,199.1) scale(1.1,1)" font-family="Liberation Mono" font-size="8.3" fill="#cfdcee" text-anchor="middle">0</text><text transform="translate(531.8,199.1) scale(1.1,1)" font-family="Liberation Mono" font-size="8.3" fill="#cfdcee" text-anchor="middle">0</text><text transform="translate(550.9,199.1) scale(1.1,1)" font-family="Liberation Mono" font-size="8.3" fill="#cfdcee" text-anchor="middle">0</text><text transform="translate(570.0,199.1) scale(1.1,1)" font-family="Liberation Mono" font-size="8.3" fill="#cfdcee" text-anchor="middle">0</text><text transform="translate(589.1,199.1) scale(1.1,1)" font-family="Liberation Mono" font-size="8.3" fill="#cfdcee" text-anchor="middle">0</text><text transform="translate(608.2,199.1) scale(1.1,1)" font-family="Liberation Mono" font-size="8.3" fill="#cfdcee" text-anchor="middle">0</text><text transform="translate(627.3,199.1) scale(1.1,1)" font-family="Liberation Mono" font-size="8.3" fill="#cfdcee" text-anchor="middle">0</text><text transform="translate(646.4,199.1) scale(1.1,1)" font-family="Liberation Mono" font-size="8.3" fill="#cfdcee" text-anchor="middle">0</text><text transform="translate(665.5,199.1) scale(1.1,1)" font-family="Liberation Mono" font-size="8.3" fill="#cfdcee" text-anchor="middle">0</text><text transform="translate(684.6,199.1) scale(1.1,1)" font-family="Liberation Mono" font-size="8.3" fill="#cfdcee" text-anchor="middle">0</text><text transform="translate(703.7,199.1) scale(1.1,1)" font-family="Liberation Mono" font-size="8.3" fill="#cfdcee" text-anchor="middle">0</text><text transform="translate(722.8,199.1) scale(1.1,1)" font-family="Liberation Mono" font-size="8.3" fill="#cfdcee" text-anchor="middle">0</text><text transform="translate(741.9,199.1) scale(1.1,1)" font-family="Liberation Mono" font-size="8.3" fill="#cfdcee" text-anchor="middle">0</text><text transform="translate(761.0,199.1) scale(1.1,1)" font-family="Liberation Mono" font-size="8.3" fill="#cfdcee" text-anchor="middle">0</text><text transform="translate(474.5,210.2) scale(1.1,1)" font-family="Liberation Mono" font-size="8.3" fill="#cfdcee" text-anchor="middle">0</text><text transform="translate(493.6,210.2) scale(1.1,1)" font-family="Liberation Mono" font-size="8.3" fill="#cfdcee" text-anchor="middle">0</text><text transform="translate(512.7,210.2) scale(1.1,1)" font-family="Liberation Mono" font-size="8.3" fill="#cfdcee" text-anchor="middle">0</text><text transform="translate(531.8,210.2) scale(1.1,1)" font-family="Liberation Mono" font-size="8.3" fill="#cfdcee" text-anchor="middle">0</text><text transform="translate(550.9,210.2) scale(1.1,1)" font-family="Liberation Mono" font-size="8.3" fill="#cfdcee" text-anchor="middle">0</text><text transform="translate(570.0,210.2) scale(1.1,1)" font-family="Liberation Mono" font-size="8.3" fill="#cfdcee" text-anchor="middle">0</text><text transform="translate(589.1,210.2) scale(1.1,1)" font-family="Liberation Mono" font-size="8.3" fill="#cfdcee" text-anchor="middle">0</text><text transform="translate(608.2,210.2) scale(1.1,1)" font-family="Liberation Mono" font-size="8.3" fill="#cfdcee" text-anchor="middle">0</text><text transform="translate(627.3,210.2) scale(1.1,1)" font-family="Liberation Mono" font-size="8.3" fill="#cfdcee" text-anchor="middle">0</text><text transform="translate(646.4,210.2) scale(1.1,1)" font-family="Liberation Mono" font-size="8.3" fill="#cfdcee" text-anchor="middle">0</text><text transform="translate(665.5,210.2) scale(1.1,1)" font-family="Liberation Mono" font-size="8.3" fill="#cfdcee" text-anchor="middle">0</text><text transform="translate(684.6,210.2) scale(1.1,1)" font-family="Liberation Mono" font-size="8.3" fill="#cfdcee" text-anchor="middle">0</text><text transform="translate(703.7,210.2) scale(1.1,1)" font-family="Liberation Mono" font-size="8.3" fill="#cfdcee" text-anchor="middle">0</text><text transform="translate(722.8,210.2) scale(1.1,1)" font-family="Liberation Mono" font-size="8.3" fill="#cfdcee" text-anchor="middle">0</text><text transform="translate(741.9,210.2) scale(1.1,1)" font-family="Liberation Mono" font-size="8.3" fill="#cfdcee" text-anchor="middle">0</text><text transform="translate(761.0,210.2) scale(1.1,1)" font-family="Liberation Mono" font-size="8.3" fill="#cfdcee" text-anchor="middle">0</text>
<path d="M1077.6,507.8 Q1231.4,497.3 1385.2,507.8 L1388.4,701.0 Q1231.4,713.5 1074.4,701.0 Z" fill="#2a3d86" stroke="#2a3d86" stroke-width="4.5" stroke-linejoin="round" filter="url(#bl1)" opacity="0.9"/><path d="M1077.6,507.8 Q1231.4,497.3 1385.2,507.8 L1388.4,701.0 Q1231.4,713.5 1074.4,701.0 Z" fill="#1d5b94" stroke="#24459c" stroke-width="0.8" stroke-linejoin="round"/><text x="1232.6" y="514.2" font-family="Liberation Mono" font-size="13" font-weight="bold" fill="#eef3fa" text-anchor="middle" >RAM</text><rect x="1081.0" y="515.7" width="17.8" height="10" fill="#e39c41"/><text transform="translate(1089.5,523.7) scale(1.1,1)" font-family="Liberation Mono" font-size="8.3" fill="#cfdcee" text-anchor="middle">0</text><text transform="translate(1108.6,523.7) scale(1.1,1)" font-family="Liberation Mono" font-size="8.3" fill="#cfdcee" text-anchor="middle">0</text><text transform="translate(1127.7,523.7) scale(1.1,1)" font-family="Liberation Mono" font-size="8.3" fill="#cfdcee" text-anchor="middle">0</text><text transform="translate(1146.8,523.7) scale(1.1,1)" font-family="Liberation Mono" font-size="8.3" fill="#cfdcee" text-anchor="middle">0</text><text transform="translate(1165.9,523.7) scale(1.1,1)" font-family="Liberation Mono" font-size="8.3" fill="#cfdcee" text-anchor="middle">0</text><text transform="translate(1185.0,523.7) scale(1.1,1)" font-family="Liberation Mono" font-size="8.3" fill="#cfdcee" text-anchor="middle">0</text><text transform="translate(1204.1,523.7) scale(1.1,1)" font-family="Liberation Mono" font-size="8.3" fill="#cfdcee" text-anchor="middle">0</text><text transform="translate(1223.2,523.7) scale(1.1,1)" font-family="Liberation Mono" font-size="8.3" fill="#cfdcee" text-anchor="middle">0</text><text transform="translate(1242.3,523.7) scale(1.1,1)" font-family="Liberation Mono" font-size="8.3" fill="#cfdcee" text-anchor="middle">0</text><text transform="translate(1261.4,523.7) scale(1.1,1)" font-family="Liberation Mono" font-size="8.3" fill="#cfdcee" text-anchor="middle">0</text><text transform="translate(1280.5,523.7) scale(1.1,1)" font-family="Liberation Mono" font-size="8.3" fill="#cfdcee" text-anchor="middle">0</text><text transform="translate(1299.6,523.7) scale(1.1,1)" font-family="Liberation Mono" font-size="8.3" fill="#cfdcee" text-anchor="middle">0</text><text transform="translate(1318.7,523.7) scale(1.1,1)" font-family="Liberation Mono" font-size="8.3" fill="#cfdcee" text-anchor="middle">0</text><text transform="translate(1337.8,523.7) scale(1.1,1)" font-family="Liberation Mono" font-size="8.3" fill="#cfdcee" text-anchor="middle">0</text><text transform="translate(1356.9,523.7) scale(1.1,1)" font-family="Liberation Mono" font-size="8.3" fill="#cfdcee" text-anchor="middle">0</text><text transform="translate(1376.0,523.7) scale(1.1,1)" font-family="Liberation Mono" font-size="8.3" fill="#cfdcee" text-anchor="middle">0</text><text transform="translate(1089.5,534.8) scale(1.1,1)" font-family="Liberation Mono" font-size="8.3" fill="#cfdcee" text-anchor="middle">0</text><text transform="translate(1108.6,534.8) scale(1.1,1)" font-family="Liberation Mono" font-size="8.3" fill="#cfdcee" text-anchor="middle">0</text><text transform="translate(1127.7,534.8) scale(1.1,1)" font-family="Liberation Mono" font-size="8.3" fill="#cfdcee" text-anchor="middle">0</text><text transform="translate(1146.8,534.8) scale(1.1,1)" font-family="Liberation Mono" font-size="8.3" fill="#cfdcee" text-anchor="middle">0</text><text transform="translate(1165.9,534.8) scale(1.1,1)" font-family="Liberation Mono" font-size="8.3" fill="#cfdcee" text-anchor="middle">0</text><text transform="translate(1185.0,534.8) scale(1.1,1)" font-family="Liberation Mono" font-size="8.3" fill="#cfdcee" text-anchor="middle">0</text><text transform="translate(1204.1,534.8) scale(1.1,1)" font-family="Liberation Mono" font-size="8.3" fill="#cfdcee" text-anchor="middle">0</text><text transform="translate(1223.2,534.8) scale(1.1,1)" font-family="Liberation Mono" font-size="8.3" fill="#cfdcee" text-anchor="middle">0</text><text transform="translate(1242.3,534.8) scale(1.1,1)" font-family="Liberation Mono" font-size="8.3" fill="#cfdcee" text-anchor="middle">0</text><text transform="translate(1261.4,534.8) scale(1.1,1)" font-family="Liberation Mono" font-size="8.3" fill="#cfdcee" text-anchor="middle">0</text><text transform="translate(1280.5,534.8) scale(1.1,1)" font-family="Liberation Mono" font-size="8.3" fill="#cfdcee" text-anchor="middle">0</text><text transform="translate(1299.6,534.8) scale(1.1,1)" font-family="Liberation Mono" font-size="8.3" fill="#cfdcee" text-anchor="middle">0</text><text transform="translate(1318.7,534.8) scale(1.1,1)" font-family="Liberation Mono" font-size="8.3" fill="#cfdcee" text-anchor="middle">0</text><text transform="translate(1337.8,534.8) scale(1.1,1)" font-family="Liberation Mono" font-size="8.3" fill="#cfdcee" text-anchor="middle">0</text><text transform="translate(1356.9,534.8) scale(1.1,1)" font-family="Liberation Mono" font-size="8.3" fill="#cfdcee" text-anchor="middle">0</text><text transform="translate(1376.0,534.8) scale(1.1,1)" font-family="Liberation Mono" font-size="8.3" fill="#cfdcee" text-anchor="middle">0</text><text transform="translate(1089.5,545.8) scale(1.1,1)" font-family="Liberation Mono" font-size="8.3" fill="#cfdcee" text-anchor="middle">0</text><text transform="translate(1108.6,545.8) scale(1.1,1)" font-family="Liberation Mono" font-size="8.3" fill="#cfdcee" text-anchor="middle">0</text><text transform="translate(1127.7,545.8) scale(1.1,1)" font-family="Liberation Mono" font-size="8.3" fill="#cfdcee" text-anchor="middle">0</text><text transform="translate(1146.8,545.8) scale(1.1,1)" font-family="Liberation Mono" font-size="8.3" fill="#cfdcee" text-anchor="middle">0</text><text transform="translate(1165.9,545.8) scale(1.1,1)" font-family="Liberation Mono" font-size="8.3" fill="#cfdcee" text-anchor="middle">0</text><text transform="translate(1185.0,545.8) scale(1.1,1)" font-family="Liberation Mono" font-size="8.3" fill="#cfdcee" text-anchor="middle">0</text><text transform="translate(1204.1,545.8) scale(1.1,1)" font-family="Liberation Mono" font-size="8.3" fill="#cfdcee" text-anchor="middle">0</text><text transform="translate(1223.2,545.8) scale(1.1,1)" font-family="Liberation Mono" font-size="8.3" fill="#cfdcee" text-anchor="middle">0</text><text transform="translate(1242.3,545.8) scale(1.1,1)" font-family="Liberation Mono" font-size="8.3" fill="#cfdcee" text-anchor="middle">0</text><text transform="translate(1261.4,545.8) scale(1.1,1)" font-family="Liberation Mono" font-size="8.3" fill="#cfdcee" text-anchor="middle">0</text><text transform="translate(1280.5,545.8) scale(1.1,1)" font-family="Liberation Mono" font-size="8.3" fill="#cfdcee" text-anchor="middle">0</text><text transform="translate(1299.6,545.8) scale(1.1,1)" font-family="Liberation Mono" font-size="8.3" fill="#cfdcee" text-anchor="middle">0</text><text transform="translate(1318.7,545.8) scale(1.1,1)" font-family="Liberation Mono" font-size="8.3" fill="#cfdcee" text-anchor="middle">0</text><text transform="translate(1337.8,545.8) scale(1.1,1)" font-family="Liberation Mono" font-size="8.3" fill="#cfdcee" text-anchor="middle">0</text><text transform="translate(1356.9,545.8) scale(1.1,1)" font-family="Liberation Mono" font-size="8.3" fill="#cfdcee" text-anchor="middle">0</text><text transform="translate(1376.0,545.8) scale(1.1,1)" font-family="Liberation Mono" font-size="8.3" fill="#cfdcee" text-anchor="middle">0</text><text transform="translate(1089.5,556.9) scale(1.1,1)" font-family="Liberation Mono" font-size="8.3" fill="#cfdcee" text-anchor="middle">0</text><text transform="translate(1108.6,556.9) scale(1.1,1)" font-family="Liberation Mono" font-size="8.3" fill="#cfdcee" text-anchor="middle">0</text><text transform="translate(1127.7,556.9) scale(1.1,1)" font-family="Liberation Mono" font-size="8.3" fill="#cfdcee" text-anchor="middle">0</text><text transform="translate(1146.8,556.9) scale(1.1,1)" font-family="Liberation Mono" font-size="8.3" fill="#cfdcee" text-anchor="middle">0</text><text transform="translate(1165.9,556.9) scale(1.1,1)" font-family="Liberation Mono" font-size="8.3" fill="#cfdcee" text-anchor="middle">0</text><text transform="translate(1185.0,556.9) scale(1.1,1)" font-family="Liberation Mono" font-size="8.3" fill="#cfdcee" text-anchor="middle">0</text><text transform="translate(1204.1,556.9) scale(1.1,1)" font-family="Liberation Mono" font-size="8.3" fill="#cfdcee" text-anchor="middle">0</text><text transform="translate(1223.2,556.9) scale(1.1,1)" font-family="Liberation Mono" font-size="8.3" fill="#cfdcee" text-anchor="middle">0</text><text transform="translate(1242.3,556.9) scale(1.1,1)" font-family="Liberation Mono" font-size="8.3" fill="#cfdcee" text-anchor="middle">0</text><text transform="translate(1261.4,556.9) scale(1.1,1)" font-family="Liberation Mono" font-size="8.3" fill="#cfdcee" text-anchor="middle">0</text><text transform="translate(1280.5,556.9) scale(1.1,1)" font-family="Liberation Mono" font-size="8.3" fill="#cfdcee" text-anchor="middle">0</text><text transform="translate(1299.6,556.9) scale(1.1,1)" font-family="Liberation Mono" font-size="8.3" fill="#cfdcee" text-anchor="middle">0</text><text transform="translate(1318.7,556.9) scale(1.1,1)" font-family="Liberation Mono" font-size="8.3" fill="#cfdcee" text-anchor="middle">0</text><text transform="translate(1337.8,556.9) scale(1.1,1)" font-family="Liberation Mono" font-size="8.3" fill="#cfdcee" text-anchor="middle">0</text><text transform="translate(1356.9,556.9) scale(1.1,1)" font-family="Liberation Mono" font-size="8.3" fill="#cfdcee" text-anchor="middle">0</text><text transform="translate(1376.0,556.9) scale(1.1,1)" font-family="Liberation Mono" font-size="8.3" fill="#cfdcee" text-anchor="middle">0</text><text transform="translate(1089.5,568.0) scale(1.1,1)" font-family="Liberation Mono" font-size="8.3" fill="#cfdcee" text-anchor="middle">0</text><text transform="translate(1108.6,568.0) scale(1.1,1)" font-family="Liberation Mono" font-size="8.3" fill="#cfdcee" text-anchor="middle">0</text><text transform="translate(1127.7,568.0) scale(1.1,1)" font-family="Liberation Mono" font-size="8.3" fill="#cfdcee" text-anchor="middle">0</text><text transform="translate(1146.8,568.0) scale(1.1,1)" font-family="Liberation Mono" font-size="8.3" fill="#cfdcee" text-anchor="middle">0</text><text transform="translate(1165.9,568.0) scale(1.1,1)" font-family="Liberation Mono" font-size="8.3" fill="#cfdcee" text-anchor="middle">0</text><text transform="translate(1185.0,568.0) scale(1.1,1)" font-family="Liberation Mono" font-size="8.3" fill="#cfdcee" text-anchor="middle">0</text><text transform="translate(1204.1,568.0) scale(1.1,1)" font-family="Liberation Mono" font-size="8.3" fill="#cfdcee" text-anchor="middle">0</text><text transform="translate(1223.2,568.0) scale(1.1,1)" font-family="Liberation Mono" font-size="8.3" fill="#cfdcee" text-anchor="middle">0</text><text transform="translate(1242.3,568.0) scale(1.1,1)" font-family="Liberation Mono" font-size="8.3" fill="#cfdcee" text-anchor="middle">0</text><text transform="translate(1261.4,568.0) scale(1.1,1)" font-family="Liberation Mono" font-size="8.3" fill="#cfdcee" text-anchor="middle">0</text><text transform="translate(1280.5,568.0) scale(1.1,1)" font-family="Liberation Mono" font-size="8.3" fill="#cfdcee" text-anchor="middle">0</text><text transform="translate(1299.6,568.0) scale(1.1,1)" font-family="Liberation Mono" font-size="8.3" fill="#cfdcee" text-anchor="middle">0</text><text transform="translate(1318.7,568.0) scale(1.1,1)" font-family="Liberation Mono" font-size="8.3" fill="#cfdcee" text-anchor="middle">0</text><text transform="translate(1337.8,568.0) scale(1.1,1)" font-family="Liberation Mono" font-size="8.3" fill="#cfdcee" text-anchor="middle">0</text><text transform="translate(1356.9,568.0) scale(1.1,1)" font-family="Liberation Mono" font-size="8.3" fill="#cfdcee" text-anchor="middle">0</text><text transform="translate(1376.0,568.0) scale(1.1,1)" font-family="Liberation Mono" font-size="8.3" fill="#cfdcee" text-anchor="middle">0</text><text transform="translate(1089.5,579.0) scale(1.1,1)" font-family="Liberation Mono" font-size="8.3" fill="#cfdcee" text-anchor="middle">0</text><text transform="translate(1108.6,579.0) scale(1.1,1)" font-family="Liberation Mono" font-size="8.3" fill="#cfdcee" text-anchor="middle">0</text><text transform="translate(1127.7,579.0) scale(1.1,1)" font-family="Liberation Mono" font-size="8.3" fill="#cfdcee" text-anchor="middle">0</text><text transform="translate(1146.8,579.0) scale(1.1,1)" font-family="Liberation Mono" font-size="8.3" fill="#cfdcee" text-anchor="middle">0</text><text transform="translate(1165.9,579.0) scale(1.1,1)" font-family="Liberation Mono" font-size="8.3" fill="#cfdcee" text-anchor="middle">0</text><text transform="translate(1185.0,579.0) scale(1.1,1)" font-family="Liberation Mono" font-size="8.3" fill="#cfdcee" text-anchor="middle">0</text><text transform="translate(1204.1,579.0) scale(1.1,1)" font-family="Liberation Mono" font-size="8.3" fill="#cfdcee" text-anchor="middle">0</text><text transform="translate(1223.2,579.0) scale(1.1,1)" font-family="Liberation Mono" font-size="8.3" fill="#cfdcee" text-anchor="middle">0</text><text transform="translate(1242.3,579.0) scale(1.1,1)" font-family="Liberation Mono" font-size="8.3" fill="#cfdcee" text-anchor="middle">0</text><text transform="translate(1261.4,579.0) scale(1.1,1)" font-family="Liberation Mono" font-size="8.3" fill="#cfdcee" text-anchor="middle">0</text><text transform="translate(1280.5,579.0) scale(1.1,1)" font-family="Liberation Mono" font-size="8.3" fill="#cfdcee" text-anchor="middle">0</text><text transform="translate(1299.6,579.0) scale(1.1,1)" font-family="Liberation Mono" font-size="8.3" fill="#cfdcee" text-anchor="middle">0</text><text transform="translate(1318.7,579.0) scale(1.1,1)" font-family="Liberation Mono" font-size="8.3" fill="#cfdcee" text-anchor="middle">0</text><text transform="translate(1337.8,579.0) scale(1.1,1)" font-family="Liberation Mono" font-size="8.3" fill="#cfdcee" text-anchor="middle">0</text><text transform="translate(1356.9,579.0) scale(1.1,1)" font-family="Liberation Mono" font-size="8.3" fill="#cfdcee" text-anchor="middle">0</text><text transform="translate(1376.0,579.0) scale(1.1,1)" font-family="Liberation Mono" font-size="8.3" fill="#cfdcee" text-anchor="middle">0</text><text transform="translate(1089.5,590.1) scale(1.1,1)" font-family="Liberation Mono" font-size="8.3" fill="#cfdcee" text-anchor="middle">0</text><text transform="translate(1108.6,590.1) scale(1.1,1)" font-family="Liberation Mono" font-size="8.3" fill="#cfdcee" text-anchor="middle">0</text><text transform="translate(1127.7,590.1) scale(1.1,1)" font-family="Liberation Mono" font-size="8.3" fill="#cfdcee" text-anchor="middle">0</text><text transform="translate(1146.8,590.1) scale(1.1,1)" font-family="Liberation Mono" font-size="8.3" fill="#cfdcee" text-anchor="middle">0</text><text transform="translate(1165.9,590.1) scale(1.1,1)" font-family="Liberation Mono" font-size="8.3" fill="#cfdcee" text-anchor="middle">0</text><text transform="translate(1185.0,590.1) scale(1.1,1)" font-family="Liberation Mono" font-size="8.3" fill="#cfdcee" text-anchor="middle">0</text><text transform="translate(1204.1,590.1) scale(1.1,1)" font-family="Liberation Mono" font-size="8.3" fill="#cfdcee" text-anchor="middle">0</text><text transform="translate(1223.2,590.1) scale(1.1,1)" font-family="Liberation Mono" font-size="8.3" fill="#cfdcee" text-anchor="middle">0</text><text transform="translate(1242.3,590.1) scale(1.1,1)" font-family="Liberation Mono" font-size="8.3" fill="#cfdcee" text-anchor="middle">0</text><text transform="translate(1261.4,590.1) scale(1.1,1)" font-family="Liberation Mono" font-size="8.3" fill="#cfdcee" text-anchor="middle">0</text><text transform="translate(1280.5,590.1) scale(1.1,1)" font-family="Liberation Mono" font-size="8.3" fill="#cfdcee" text-anchor="middle">0</text><text transform="translate(1299.6,590.1) scale(1.1,1)" font-family="Liberation Mono" font-size="8.3" fill="#cfdcee" text-anchor="middle">0</text><text transform="translate(1318.7,590.1) scale(1.1,1)" font-family="Liberation Mono" font-size="8.3" fill="#cfdcee" text-anchor="middle">0</text><text transform="translate(1337.8,590.1) scale(1.1,1)" font-family="Liberation Mono" font-size="8.3" fill="#cfdcee" text-anchor="middle">0</text><text transform="translate(1356.9,590.1) scale(1.1,1)" font-family="Liberation Mono" font-size="8.3" fill="#cfdcee" text-anchor="middle">0</text><text transform="translate(1376.0,590.1) scale(1.1,1)" font-family="Liberation Mono" font-size="8.3" fill="#cfdcee" text-anchor="middle">0</text><text transform="translate(1089.5,601.2) scale(1.1,1)" font-family="Liberation Mono" font-size="8.3" fill="#cfdcee" text-anchor="middle">0</text><text transform="translate(1108.6,601.2) scale(1.1,1)" font-family="Liberation Mono" font-size="8.3" fill="#cfdcee" text-anchor="middle">0</text><text transform="translate(1127.7,601.2) scale(1.1,1)" font-family="Liberation Mono" font-size="8.3" fill="#cfdcee" text-anchor="middle">0</text><text transform="translate(1146.8,601.2) scale(1.1,1)" font-family="Liberation Mono" font-size="8.3" fill="#cfdcee" text-anchor="middle">0</text><text transform="translate(1165.9,601.2) scale(1.1,1)" font-family="Liberation Mono" font-size="8.3" fill="#cfdcee" text-anchor="middle">0</text><text transform="translate(1185.0,601.2) scale(1.1,1)" font-family="Liberation Mono" font-size="8.3" fill="#cfdcee" text-anchor="middle">0</text><text transform="translate(1204.1,601.2) scale(1.1,1)" font-family="Liberation Mono" font-size="8.3" fill="#cfdcee" text-anchor="middle">0</text><text transform="translate(1223.2,601.2) scale(1.1,1)" font-family="Liberation Mono" font-size="8.3" fill="#cfdcee" text-anchor="middle">0</text><text transform="translate(1242.3,601.2) scale(1.1,1)" font-family="Liberation Mono" font-size="8.3" fill="#cfdcee" text-anchor="middle">0</text><text transform="translate(1261.4,601.2) scale(1.1,1)" font-family="Liberation Mono" font-size="8.3" fill="#cfdcee" text-anchor="middle">0</text><text transform="translate(1280.5,601.2) scale(1.1,1)" font-family="Liberation Mono" font-size="8.3" fill="#cfdcee" text-anchor="middle">0</text><text transform="translate(1299.6,601.2) scale(1.1,1)" font-family="Liberation Mono" font-size="8.3" fill="#cfdcee" text-anchor="middle">0</text><text transform="translate(1318.7,601.2) scale(1.1,1)" font-family="Liberation Mono" font-size="8.3" fill="#cfdcee" text-anchor="middle">0</text><text transform="translate(1337.8,601.2) scale(1.1,1)" font-family="Liberation Mono" font-size="8.3" fill="#cfdcee" text-anchor="middle">0</text><text transform="translate(1356.9,601.2) scale(1.1,1)" font-family="Liberation Mono" font-size="8.3" fill="#cfdcee" text-anchor="middle">0</text><text transform="translate(1376.0,601.2) scale(1.1,1)" font-family="Liberation Mono" font-size="8.3" fill="#cfdcee" text-anchor="middle">0</text><text transform="translate(1089.5,612.3) scale(1.1,1)" font-family="Liberation Mono" font-size="8.3" fill="#cfdcee" text-anchor="middle">0</text><text transform="translate(1108.6,612.3) scale(1.1,1)" font-family="Liberation Mono" font-size="8.3" fill="#cfdcee" text-anchor="middle">0</text><text transform="translate(1127.7,612.3) scale(1.1,1)" font-family="Liberation Mono" font-size="8.3" fill="#cfdcee" text-anchor="middle">0</text><text transform="translate(1146.8,612.3) scale(1.1,1)" font-family="Liberation Mono" font-size="8.3" fill="#cfdcee" text-anchor="middle">0</text><text transform="translate(1165.9,612.3) scale(1.1,1)" font-family="Liberation Mono" font-size="8.3" fill="#cfdcee" text-anchor="middle">0</text><text transform="translate(1185.0,612.3) scale(1.1,1)" font-family="Liberation Mono" font-size="8.3" fill="#cfdcee" text-anchor="middle">0</text><text transform="translate(1204.1,612.3) scale(1.1,1)" font-family="Liberation Mono" font-size="8.3" fill="#cfdcee" text-anchor="middle">0</text><text transform="translate(1223.2,612.3) scale(1.1,1)" font-family="Liberation Mono" font-size="8.3" fill="#cfdcee" text-anchor="middle">0</text><text transform="translate(1242.3,612.3) scale(1.1,1)" font-family="Liberation Mono" font-size="8.3" fill="#cfdcee" text-anchor="middle">0</text><text transform="translate(1261.4,612.3) scale(1.1,1)" font-family="Liberation Mono" font-size="8.3" fill="#cfdcee" text-anchor="middle">0</text><text transform="translate(1280.5,612.3) scale(1.1,1)" font-family="Liberation Mono" font-size="8.3" fill="#cfdcee" text-anchor="middle">0</text><text transform="translate(1299.6,612.3) scale(1.1,1)" font-family="Liberation Mono" font-size="8.3" fill="#cfdcee" text-anchor="middle">0</text><text transform="translate(1318.7,612.3) scale(1.1,1)" font-family="Liberation Mono" font-size="8.3" fill="#cfdcee" text-anchor="middle">0</text><text transform="translate(1337.8,612.3) scale(1.1,1)" font-family="Liberation Mono" font-size="8.3" fill="#cfdcee" text-anchor="middle">0</text><text transform="translate(1356.9,612.3) scale(1.1,1)" font-family="Liberation Mono" font-size="8.3" fill="#cfdcee" text-anchor="middle">0</text><text transform="translate(1376.0,612.3) scale(1.1,1)" font-family="Liberation Mono" font-size="8.3" fill="#cfdcee" text-anchor="middle">0</text><text transform="translate(1089.5,623.3) scale(1.1,1)" font-family="Liberation Mono" font-size="8.3" fill="#cfdcee" text-anchor="middle">0</text><text transform="translate(1108.6,623.3) scale(1.1,1)" font-family="Liberation Mono" font-size="8.3" fill="#cfdcee" text-anchor="middle">0</text><text transform="translate(1127.7,623.3) scale(1.1,1)" font-family="Liberation Mono" font-size="8.3" fill="#cfdcee" text-anchor="middle">0</text><text transform="translate(1146.8,623.3) scale(1.1,1)" font-family="Liberation Mono" font-size="8.3" fill="#cfdcee" text-anchor="middle">0</text><text transform="translate(1165.9,623.3) scale(1.1,1)" font-family="Liberation Mono" font-size="8.3" fill="#cfdcee" text-anchor="middle">0</text><text transform="translate(1185.0,623.3) scale(1.1,1)" font-family="Liberation Mono" font-size="8.3" fill="#cfdcee" text-anchor="middle">0</text><text transform="translate(1204.1,623.3) scale(1.1,1)" font-family="Liberation Mono" font-size="8.3" fill="#cfdcee" text-anchor="middle">0</text><text transform="translate(1223.2,623.3) scale(1.1,1)" font-family="Liberation Mono" font-size="8.3" fill="#cfdcee" text-anchor="middle">0</text><text transform="translate(1242.3,623.3) scale(1.1,1)" font-family="Liberation Mono" font-size="8.3" fill="#cfdcee" text-anchor="middle">0</text><text transform="translate(1261.4,623.3) scale(1.1,1)" font-family="Liberation Mono" font-size="8.3" fill="#cfdcee" text-anchor="middle">0</text><text transform="translate(1280.5,623.3) scale(1.1,1)" font-family="Liberation Mono" font-size="8.3" fill="#cfdcee" text-anchor="middle">0</text><text transform="translate(1299.6,623.3) scale(1.1,1)" font-family="Liberation Mono" font-size="8.3" fill="#cfdcee" text-anchor="middle">0</text><text transform="translate(1318.7,623.3) scale(1.1,1)" font-family="Liberation Mono" font-size="8.3" fill="#cfdcee" text-anchor="middle">0</text><text transform="translate(1337.8,623.3) scale(1.1,1)" font-family="Liberation Mono" font-size="8.3" fill="#cfdcee" text-anchor="middle">0</text><text transform="translate(1356.9,623.3) scale(1.1,1)" font-family="Liberation Mono" font-size="8.3" fill="#cfdcee" text-anchor="middle">0</text><text transform="translate(1376.0,623.3) scale(1.1,1)" font-family="Liberation Mono" font-size="8.3" fill="#cfdcee" text-anchor="middle">0</text><text transform="translate(1089.5,634.4) scale(1.1,1)" font-family="Liberation Mono" font-size="8.3" fill="#cfdcee" text-anchor="middle">0</text><text transform="translate(1108.6,634.4) scale(1.1,1)" font-family="Liberation Mono" font-size="8.3" fill="#cfdcee" text-anchor="middle">0</text><text transform="translate(1127.7,634.4) scale(1.1,1)" font-family="Liberation Mono" font-size="8.3" fill="#cfdcee" text-anchor="middle">0</text><text transform="translate(1146.8,634.4) scale(1.1,1)" font-family="Liberation Mono" font-size="8.3" fill="#cfdcee" text-anchor="middle">0</text><text transform="translate(1165.9,634.4) scale(1.1,1)" font-family="Liberation Mono" font-size="8.3" fill="#cfdcee" text-anchor="middle">0</text><text transform="translate(1185.0,634.4) scale(1.1,1)" font-family="Liberation Mono" font-size="8.3" fill="#cfdcee" text-anchor="middle">0</text><text transform="translate(1204.1,634.4) scale(1.1,1)" font-family="Liberation Mono" font-size="8.3" fill="#cfdcee" text-anchor="middle">0</text><text transform="translate(1223.2,634.4) scale(1.1,1)" font-family="Liberation Mono" font-size="8.3" fill="#cfdcee" text-anchor="middle">0</text><text transform="translate(1242.3,634.4) scale(1.1,1)" font-family="Liberation Mono" font-size="8.3" fill="#cfdcee" text-anchor="middle">0</text><text transform="translate(1261.4,634.4) scale(1.1,1)" font-family="Liberation Mono" font-size="8.3" fill="#cfdcee" text-anchor="middle">0</text><text transform="translate(1280.5,634.4) scale(1.1,1)" font-family="Liberation Mono" font-size="8.3" fill="#cfdcee" text-anchor="middle">0</text><text transform="translate(1299.6,634.4) scale(1.1,1)" font-family="Liberation Mono" font-size="8.3" fill="#cfdcee" text-anchor="middle">0</text><text transform="translate(1318.7,634.4) scale(1.1,1)" font-family="Liberation Mono" font-size="8.3" fill="#cfdcee" text-anchor="middle">0</text><text transform="translate(1337.8,634.4) scale(1.1,1)" font-family="Liberation Mono" font-size="8.3" fill="#cfdcee" text-anchor="middle">0</text><text transform="translate(1356.9,634.4) scale(1.1,1)" font-family="Liberation Mono" font-size="8.3" fill="#cfdcee" text-anchor="middle">0</text><text transform="translate(1376.0,634.4) scale(1.1,1)" font-family="Liberation Mono" font-size="8.3" fill="#cfdcee" text-anchor="middle">0</text><text transform="translate(1089.5,645.5) scale(1.1,1)" font-family="Liberation Mono" font-size="8.3" fill="#cfdcee" text-anchor="middle">0</text><text transform="translate(1108.6,645.5) scale(1.1,1)" font-family="Liberation Mono" font-size="8.3" fill="#cfdcee" text-anchor="middle">0</text><text transform="translate(1127.7,645.5) scale(1.1,1)" font-family="Liberation Mono" font-size="8.3" fill="#cfdcee" text-anchor="middle">0</text><text transform="translate(1146.8,645.5) scale(1.1,1)" font-family="Liberation Mono" font-size="8.3" fill="#cfdcee" text-anchor="middle">0</text><text transform="translate(1165.9,645.5) scale(1.1,1)" font-family="Liberation Mono" font-size="8.3" fill="#cfdcee" text-anchor="middle">0</text><text transform="translate(1185.0,645.5) scale(1.1,1)" font-family="Liberation Mono" font-size="8.3" fill="#cfdcee" text-anchor="middle">0</text><text transform="translate(1204.1,645.5) scale(1.1,1)" font-family="Liberation Mono" font-size="8.3" fill="#cfdcee" text-anchor="middle">0</text><text transform="translate(1223.2,645.5) scale(1.1,1)" font-family="Liberation Mono" font-size="8.3" fill="#cfdcee" text-anchor="middle">0</text><text transform="translate(1242.3,645.5) scale(1.1,1)" font-family="Liberation Mono" font-size="8.3" fill="#cfdcee" text-anchor="middle">0</text><text transform="translate(1261.4,645.5) scale(1.1,1)" font-family="Liberation Mono" font-size="8.3" fill="#cfdcee" text-anchor="middle">0</text><text transform="translate(1280.5,645.5) scale(1.1,1)" font-family="Liberation Mono" font-size="8.3" fill="#cfdcee" text-anchor="middle">0</text><text transform="translate(1299.6,645.5) scale(1.1,1)" font-family="Liberation Mono" font-size="8.3" fill="#cfdcee" text-anchor="middle">0</text><text transform="translate(1318.7,645.5) scale(1.1,1)" font-family="Liberation Mono" font-size="8.3" fill="#cfdcee" text-anchor="middle">0</text><text transform="translate(1337.8,645.5) scale(1.1,1)" font-family="Liberation Mono" font-size="8.3" fill="#cfdcee" text-anchor="middle">0</text><text transform="translate(1356.9,645.5) scale(1.1,1)" font-family="Liberation Mono" font-size="8.3" fill="#cfdcee" text-anchor="middle">0</text><text transform="translate(1376.0,645.5) scale(1.1,1)" font-family="Liberation Mono" font-size="8.3" fill="#cfdcee" text-anchor="middle">0</text><text transform="translate(1089.5,656.5) scale(1.1,1)" font-family="Liberation Mono" font-size="8.3" fill="#cfdcee" text-anchor="middle">0</text><text transform="translate(1108.6,656.5) scale(1.1,1)" font-family="Liberation Mono" font-size="8.3" fill="#cfdcee" text-anchor="middle">0</text><text transform="translate(1127.7,656.5) scale(1.1,1)" font-family="Liberation Mono" font-size="8.3" fill="#cfdcee" text-anchor="middle">0</text><text transform="translate(1146.8,656.5) scale(1.1,1)" font-family="Liberation Mono" font-size="8.3" fill="#cfdcee" text-anchor="middle">0</text><text transform="translate(1165.9,656.5) scale(1.1,1)" font-family="Liberation Mono" font-size="8.3" fill="#cfdcee" text-anchor="middle">0</text><text transform="translate(1185.0,656.5) scale(1.1,1)" font-family="Liberation Mono" font-size="8.3" fill="#cfdcee" text-anchor="middle">0</text><text transform="translate(1204.1,656.5) scale(1.1,1)" font-family="Liberation Mono" font-size="8.3" fill="#cfdcee" text-anchor="middle">0</text><text transform="translate(1223.2,656.5) scale(1.1,1)" font-family="Liberation Mono" font-size="8.3" fill="#cfdcee" text-anchor="middle">0</text><text transform="translate(1242.3,656.5) scale(1.1,1)" font-family="Liberation Mono" font-size="8.3" fill="#cfdcee" text-anchor="middle">0</text><text transform="translate(1261.4,656.5) scale(1.1,1)" font-family="Liberation Mono" font-size="8.3" fill="#cfdcee" text-anchor="middle">0</text><text transform="translate(1280.5,656.5) scale(1.1,1)" font-family="Liberation Mono" font-size="8.3" fill="#cfdcee" text-anchor="middle">0</text><text transform="translate(1299.6,656.5) scale(1.1,1)" font-family="Liberation Mono" font-size="8.3" fill="#cfdcee" text-anchor="middle">0</text><text transform="translate(1318.7,656.5) scale(1.1,1)" font-family="Liberation Mono" font-size="8.3" fill="#cfdcee" text-anchor="middle">0</text><text transform="translate(1337.8,656.5) scale(1.1,1)" font-family="Liberation Mono" font-size="8.3" fill="#cfdcee" text-anchor="middle">0</text><text transform="translate(1356.9,656.5) scale(1.1,1)" font-family="Liberation Mono" font-size="8.3" fill="#cfdcee" text-anchor="middle">0</text><text transform="translate(1376.0,656.5) scale(1.1,1)" font-family="Liberation Mono" font-size="8.3" fill="#cfdcee" text-anchor="middle">0</text><text transform="translate(1089.5,667.6) scale(1.1,1)" font-family="Liberation Mono" font-size="8.3" fill="#cfdcee" text-anchor="middle">0</text><text transform="translate(1108.6,667.6) scale(1.1,1)" font-family="Liberation Mono" font-size="8.3" fill="#cfdcee" text-anchor="middle">0</text><text transform="translate(1127.7,667.6) scale(1.1,1)" font-family="Liberation Mono" font-size="8.3" fill="#cfdcee" text-anchor="middle">0</text><text transform="translate(1146.8,667.6) scale(1.1,1)" font-family="Liberation Mono" font-size="8.3" fill="#cfdcee" text-anchor="middle">0</text><text transform="translate(1165.9,667.6) scale(1.1,1)" font-family="Liberation Mono" font-size="8.3" fill="#cfdcee" text-anchor="middle">0</text><text transform="translate(1185.0,667.6) scale(1.1,1)" font-family="Liberation Mono" font-size="8.3" fill="#cfdcee" text-anchor="middle">0</text><text transform="translate(1204.1,667.6) scale(1.1,1)" font-family="Liberation Mono" font-size="8.3" fill="#cfdcee" text-anchor="middle">0</text><text transform="translate(1223.2,667.6) scale(1.1,1)" font-family="Liberation Mono" font-size="8.3" fill="#cfdcee" text-anchor="middle">0</text><text transform="translate(1242.3,667.6) scale(1.1,1)" font-family="Liberation Mono" font-size="8.3" fill="#cfdcee" text-anchor="middle">0</text><text transform="translate(1261.4,667.6) scale(1.1,1)" font-family="Liberation Mono" font-size="8.3" fill="#cfdcee" text-anchor="middle">0</text><text transform="translate(1280.5,667.6) scale(1.1,1)" font-family="Liberation Mono" font-size="8.3" fill="#cfdcee" text-anchor="middle">0</text><text transform="translate(1299.6,667.6) scale(1.1,1)" font-family="Liberation Mono" font-size="8.3" fill="#cfdcee" text-anchor="middle">0</text><text transform="translate(1318.7,667.6) scale(1.1,1)" font-family="Liberation Mono" font-size="8.3" fill="#cfdcee" text-anchor="middle">0</text><text transform="translate(1337.8,667.6) scale(1.1,1)" font-family="Liberation Mono" font-size="8.3" fill="#cfdcee" text-anchor="middle">0</text><text transform="translate(1356.9,667.6) scale(1.1,1)" font-family="Liberation Mono" font-size="8.3" fill="#cfdcee" text-anchor="middle">0</text><text transform="translate(1376.0,667.6) scale(1.1,1)" font-family="Liberation Mono" font-size="8.3" fill="#cfdcee" text-anchor="middle">0</text><text transform="translate(1089.5,678.7) scale(1.1,1)" font-family="Liberation Mono" font-size="8.3" fill="#cfdcee" text-anchor="middle">0</text><text transform="translate(1108.6,678.7) scale(1.1,1)" font-family="Liberation Mono" font-size="8.3" fill="#cfdcee" text-anchor="middle">0</text><text transform="translate(1127.7,678.7) scale(1.1,1)" font-family="Liberation Mono" font-size="8.3" fill="#cfdcee" text-anchor="middle">0</text><text transform="translate(1146.8,678.7) scale(1.1,1)" font-family="Liberation Mono" font-size="8.3" fill="#cfdcee" text-anchor="middle">0</text><text transform="translate(1165.9,678.7) scale(1.1,1)" font-family="Liberation Mono" font-size="8.3" fill="#cfdcee" text-anchor="middle">0</text><text transform="translate(1185.0,678.7) scale(1.1,1)" font-family="Liberation Mono" font-size="8.3" fill="#cfdcee" text-anchor="middle">0</text><text transform="translate(1204.1,678.7) scale(1.1,1)" font-family="Liberation Mono" font-size="8.3" fill="#cfdcee" text-anchor="middle">0</text><text transform="translate(1223.2,678.7) scale(1.1,1)" font-family="Liberation Mono" font-size="8.3" fill="#cfdcee" text-anchor="middle">0</text><text transform="translate(1242.3,678.7) scale(1.1,1)" font-family="Liberation Mono" font-size="8.3" fill="#cfdcee" text-anchor="middle">0</text><text transform="translate(1261.4,678.7) scale(1.1,1)" font-family="Liberation Mono" font-size="8.3" fill="#cfdcee" text-anchor="middle">0</text><text transform="translate(1280.5,678.7) scale(1.1,1)" font-family="Liberation Mono" font-size="8.3" fill="#cfdcee" text-anchor="middle">0</text><text transform="translate(1299.6,678.7) scale(1.1,1)" font-family="Liberation Mono" font-size="8.3" fill="#cfdcee" text-anchor="middle">0</text><text transform="translate(1318.7,678.7) scale(1.1,1)" font-family="Liberation Mono" font-size="8.3" fill="#cfdcee" text-anchor="middle">0</text><text transform="translate(1337.8,678.7) scale(1.1,1)" font-family="Liberation Mono" font-size="8.3" fill="#cfdcee" text-anchor="middle">0</text><text transform="translate(1356.9,678.7) scale(1.1,1)" font-family="Liberation Mono" font-size="8.3" fill="#cfdcee" text-anchor="middle">0</text><text transform="translate(1376.0,678.7) scale(1.1,1)" font-family="Liberation Mono" font-size="8.3" fill="#cfdcee" text-anchor="middle">0</text><text transform="translate(1089.5,689.7) scale(1.1,1)" font-family="Liberation Mono" font-size="8.3" fill="#cfdcee" text-anchor="middle">0</text><text transform="translate(1108.6,689.7) scale(1.1,1)" font-family="Liberation Mono" font-size="8.3" fill="#cfdcee" text-anchor="middle">0</text><text transform="translate(1127.7,689.7) scale(1.1,1)" font-family="Liberation Mono" font-size="8.3" fill="#cfdcee" text-anchor="middle">0</text><text transform="translate(1146.8,689.7) scale(1.1,1)" font-family="Liberation Mono" font-size="8.3" fill="#cfdcee" text-anchor="middle">0</text><text transform="translate(1165.9,689.7) scale(1.1,1)" font-family="Liberation Mono" font-size="8.3" fill="#cfdcee" text-anchor="middle">0</text><text transform="translate(1185.0,689.7) scale(1.1,1)" font-family="Liberation Mono" font-size="8.3" fill="#cfdcee" text-anchor="middle">0</text><text transform="translate(1204.1,689.7) scale(1.1,1)" font-family="Liberation Mono" font-size="8.3" fill="#cfdcee" text-anchor="middle">0</text><text transform="translate(1223.2,689.7) scale(1.1,1)" font-family="Liberation Mono" font-size="8.3" fill="#cfdcee" text-anchor="middle">0</text><text transform="translate(1242.3,689.7) scale(1.1,1)" font-family="Liberation Mono" font-size="8.3" fill="#cfdcee" text-anchor="middle">0</text><text transform="translate(1261.4,689.7) scale(1.1,1)" font-family="Liberation Mono" font-size="8.3" fill="#cfdcee" text-anchor="middle">0</text><text transform="translate(1280.5,689.7) scale(1.1,1)" font-family="Liberation Mono" font-size="8.3" fill="#cfdcee" text-anchor="middle">0</text><text transform="translate(1299.6,689.7) scale(1.1,1)" font-family="Liberation Mono" font-size="8.3" fill="#cfdcee" text-anchor="middle">0</text><text transform="translate(1318.7,689.7) scale(1.1,1)" font-family="Liberation Mono" font-size="8.3" fill="#cfdcee" text-anchor="middle">0</text><text transform="translate(1337.8,689.7) scale(1.1,1)" font-family="Liberation Mono" font-size="8.3" fill="#cfdcee" text-anchor="middle">0</text><text transform="translate(1356.9,689.7) scale(1.1,1)" font-family="Liberation Mono" font-size="8.3" fill="#cfdcee" text-anchor="middle">0</text><text transform="translate(1376.0,689.7) scale(1.1,1)" font-family="Liberation Mono" font-size="8.3" fill="#cfdcee" text-anchor="middle">0</text>
<rect x="1067.4" y="563.4" width="8.6" height="8.4" fill="#e49b3d" stroke="#c9812a" stroke-width="0.8"/>
<rect x="1067.4" y="575.7" width="8.6" height="8.4" fill="#e49b3d" stroke="#c9812a" stroke-width="0.8"/>
<rect x="1067.4" y="588.0" width="8.6" height="8.4" fill="#e49b3d" stroke="#c9812a" stroke-width="0.8"/>
<rect x="8.8" y="454.7" width="378.4" height="262" fill="#1f5c94" stroke="#24479a" stroke-width="1.4"/><rect x="15" y="459.4" width="368.8" height="236.2" fill="#111214"/><text x="197.5" y="582.3" font-family="Liberation Sans" font-size="15" font-weight="bold" fill="#fff" text-anchor="middle" textLength="84" lengthAdjust="spacingAndGlyphs">NO SIGNAL</text><path d="M192.6,702.2 h10 v7.6 h-3.6 l-1.4,1.6 l-1.4,-1.6 h-3.6 Z" fill="#fff"/>
<polyline points="259.4,198.4 284.0,198.4" fill="none" stroke="#b67c30" stroke-width="6.3" stroke-linejoin="round" stroke-linecap="round"/>
<polyline points="259.4,198.4 284.0,198.4" fill="none" stroke="#e49b3d" stroke-width="5.1" stroke-linejoin="round" stroke-linecap="round"/>
<polyline points="259.4,198.4 259.4,321.5" fill="none" stroke="#b67c30" stroke-width="6.3" stroke-linejoin="round" stroke-linecap="round"/>
<polyline points="259.4,198.4 259.4,321.5" fill="none" stroke="#e49b3d" stroke-width="5.1" stroke-linejoin="round" stroke-linecap="round"/>
<polyline points="74.8,284.5 74.8,321.5 345.6,321.5" fill="none" stroke="#b67c30" stroke-width="6.3" stroke-linejoin="round" stroke-linecap="round"/>
<polyline points="74.8,284.5 74.8,321.5 345.6,321.5" fill="none" stroke="#e49b3d" stroke-width="5.1" stroke-linejoin="round" stroke-linecap="round"/>
<polyline points="87.1,284.5 87.1,296.8 333.3,296.8 345.6,296.8" fill="none" stroke="#b67c30" stroke-width="6.3" stroke-linejoin="round" stroke-linecap="round"/>
<polyline points="87.1,284.5 87.1,296.8 333.3,296.8 345.6,296.8" fill="none" stroke="#e49b3d" stroke-width="5.1" stroke-linejoin="round" stroke-linecap="round"/>
<polyline points="308.6,235.3 345.6,235.3 345.6,259.9" fill="none" stroke="#b67c30" stroke-width="6.3" stroke-linejoin="round" stroke-linecap="round"/>
<polyline points="308.6,235.3 345.6,235.3 345.6,259.9" fill="none" stroke="#e49b3d" stroke-width="5.1" stroke-linejoin="round" stroke-linecap="round"/>
<polyline points="308.6,247.6 308.6,259.9 321.0,259.9" fill="none" stroke="#b67c30" stroke-width="6.3" stroke-linejoin="round" stroke-linecap="round"/>
<polyline points="308.6,247.6 308.6,259.9 321.0,259.9" fill="none" stroke="#e49b3d" stroke-width="5.1" stroke-linejoin="round" stroke-linecap="round"/>
<polyline points="308.6,259.9 308.6,370.7 296.3,370.7 296.3,395.3 284.0,395.3" fill="none" stroke="#b67c30" stroke-width="6.3" stroke-linejoin="round" stroke-linecap="round"/>
<polyline points="308.6,259.9 308.6,370.7 296.3,370.7 296.3,395.3 284.0,395.3" fill="none" stroke="#e49b3d" stroke-width="5.1" stroke-linejoin="round" stroke-linecap="round"/>
<polyline points="382.5,309.2 382.5,395.3 333.3,395.3" fill="none" stroke="#b67c30" stroke-width="6.3" stroke-linejoin="round" stroke-linecap="round"/>
<polyline points="382.5,309.2 382.5,395.3 333.3,395.3" fill="none" stroke="#e49b3d" stroke-width="5.1" stroke-linejoin="round" stroke-linecap="round"/>
<polyline points="296.3,247.6 284.0,259.9 284.0,370.7" fill="none" stroke="#2e8480" stroke-width="7.5" stroke-linejoin="round" stroke-linecap="round"/>
<polyline points="296.3,247.6 284.0,259.9 284.0,370.7" fill="none" stroke="#3aa6a0" stroke-width="6.3" stroke-linejoin="round" stroke-linecap="round"/>
<polyline points="456.3,38.4 222.5,38.4 222.5,198.4 222.5,223.0 271.7,223.0" fill="none" stroke="#3079a6" stroke-width="7.5" stroke-linejoin="round" stroke-linecap="round"/>
<polyline points="456.3,38.4 222.5,38.4 222.5,198.4 222.5,223.0 271.7,223.0" fill="none" stroke="#3d98d0" stroke-width="6.3" stroke-linejoin="round" stroke-linecap="round"/>
<polyline points="222.5,198.4 124.0,198.4 124.0,223.0 124.0,259.9" fill="none" stroke="#3079a6" stroke-width="7.5" stroke-linejoin="round" stroke-linecap="round"/>
<polyline points="222.5,198.4 124.0,198.4 124.0,223.0 124.0,259.9" fill="none" stroke="#3d98d0" stroke-width="6.3" stroke-linejoin="round" stroke-linecap="round"/>
<polyline points="74.8,223.0 62.5,223.0 62.5,383.0 259.4,383.0" fill="none" stroke="#3079a6" stroke-width="7.5" stroke-linejoin="round" stroke-linecap="round"/>
<polyline points="74.8,223.0 62.5,223.0 62.5,383.0 259.4,383.0" fill="none" stroke="#3d98d0" stroke-width="6.3" stroke-linejoin="round" stroke-linecap="round"/>
<polyline points="99.4,223.0 124.0,223.0" fill="none" stroke="#3079a6" stroke-width="7.5" stroke-linejoin="round" stroke-linecap="round"/>
<polyline points="99.4,223.0 124.0,223.0" fill="none" stroke="#3d98d0" stroke-width="6.3" stroke-linejoin="round" stroke-linecap="round"/>
<polyline points="284.0,383.0 308.6,383.0" fill="none" stroke="#3079a6" stroke-width="7.5" stroke-linejoin="round" stroke-linecap="round"/>
<polyline points="284.0,383.0 308.6,383.0" fill="none" stroke="#3d98d0" stroke-width="6.3" stroke-linejoin="round" stroke-linecap="round"/>
<polyline points="333.3,383.0 850.2,383.0 850.2,395.3 1059.4,395.3 1059.4,370.7" fill="none" stroke="#3079a6" stroke-width="7.5" stroke-linejoin="round" stroke-linecap="round"/>
<polyline points="333.3,383.0 850.2,383.0 850.2,395.3 1059.4,395.3 1059.4,370.7" fill="none" stroke="#3d98d0" stroke-width="6.3" stroke-linejoin="round" stroke-linecap="round"/>
<polyline points="850.2,395.3 850.2,875.3 1293.2,875.3" fill="none" stroke="#3079a6" stroke-width="7.5" stroke-linejoin="round" stroke-linecap="round"/>
<polyline points="850.2,395.3 850.2,875.3 1293.2,875.3" fill="none" stroke="#3d98d0" stroke-width="6.3" stroke-linejoin="round" stroke-linecap="round"/>
<polyline points="850.2,801.4 1059.4,801.4 1059.4,555.3 1071.7,555.3" fill="none" stroke="#3079a6" stroke-width="7.5" stroke-linejoin="round" stroke-linecap="round"/>
<polyline points="850.2,801.4 1059.4,801.4 1059.4,555.3 1071.7,555.3" fill="none" stroke="#3d98d0" stroke-width="6.3" stroke-linejoin="round" stroke-linecap="round"/>
<polyline points="997.8,333.8 997.8,358.4 1010.1,358.4" fill="none" stroke="#3079a6" stroke-width="7.5" stroke-linejoin="round" stroke-linecap="round"/>
<polyline points="997.8,333.8 997.8,358.4 1010.1,358.4" fill="none" stroke="#3d98d0" stroke-width="6.3" stroke-linejoin="round" stroke-linecap="round"/>
<polyline points="997.8,370.7 1010.1,370.7" fill="none" stroke="#3079a6" stroke-width="7.5" stroke-linejoin="round" stroke-linecap="round"/>
<polyline points="997.8,370.7 1010.1,370.7" fill="none" stroke="#3d98d0" stroke-width="6.3" stroke-linejoin="round" stroke-linecap="round"/>
<polyline points="345.6,850.7 357.9,850.7 357.9,875.3" fill="none" stroke="#3079a6" stroke-width="7.5" stroke-linejoin="round" stroke-linecap="round"/>
<polyline points="345.6,850.7 357.9,850.7 357.9,875.3" fill="none" stroke="#3d98d0" stroke-width="6.3" stroke-linejoin="round" stroke-linecap="round"/>
<polyline points="1194.7,801.4 1194.7,838.4" fill="none" stroke="#3079a6" stroke-width="7.5" stroke-linejoin="round" stroke-linecap="round"/>
<polyline points="1194.7,801.4 1194.7,838.4" fill="none" stroke="#3d98d0" stroke-width="6.3" stroke-linejoin="round" stroke-linecap="round"/>
<polyline points="148.7,223.0 161.0,223.0 161.0,358.4 407.1,358.4 407.1,850.7" fill="none" stroke="#b2b535" stroke-width="7.5" stroke-linejoin="round" stroke-linecap="round"/>
<polyline points="148.7,223.0 161.0,223.0 161.0,358.4 407.1,358.4 407.1,850.7" fill="none" stroke="#dfe343" stroke-width="6.3" stroke-linejoin="round" stroke-linecap="round"/>
<polyline points="247.1,186.1 197.9,186.1 197.9,358.4" fill="none" stroke="#b2b535" stroke-width="7.5" stroke-linejoin="round" stroke-linecap="round"/>
<polyline points="247.1,186.1 197.9,186.1 197.9,358.4" fill="none" stroke="#dfe343" stroke-width="6.3" stroke-linejoin="round" stroke-linecap="round"/>
<polyline points="382.5,850.7 407.1,850.7 1268.6,850.7 1268.6,727.6 997.8,727.6 997.8,432.2 948.6,432.2 948.6,333.8 973.2,333.8" fill="none" stroke="#b2b535" stroke-width="7.5" stroke-linejoin="round" stroke-linecap="round"/>
<polyline points="382.5,850.7 407.1,850.7 1268.6,850.7 1268.6,727.6 997.8,727.6 997.8,432.2 948.6,432.2 948.6,333.8 973.2,333.8" fill="none" stroke="#dfe343" stroke-width="6.3" stroke-linejoin="round" stroke-linecap="round"/>
<polyline points="936.3,432.2 948.6,432.2" fill="none" stroke="#b2b535" stroke-width="7.5" stroke-linejoin="round" stroke-linecap="round"/>
<polyline points="936.3,432.2 948.6,432.2" fill="none" stroke="#dfe343" stroke-width="6.3" stroke-linejoin="round" stroke-linecap="round"/>
<polyline points="1219.4,801.4 1268.6,801.4" fill="none" stroke="#b2b535" stroke-width="7.5" stroke-linejoin="round" stroke-linecap="round"/>
<polyline points="1219.4,801.4 1268.6,801.4" fill="none" stroke="#dfe343" stroke-width="6.3" stroke-linejoin="round" stroke-linecap="round"/>
<polyline points="148.7,259.9 148.7,346.1 419.4,346.1 419.4,863.0" fill="none" stroke="#75b435" stroke-width="7.5" stroke-linejoin="round" stroke-linecap="round"/>
<polyline points="148.7,259.9 148.7,346.1 419.4,346.1 419.4,863.0" fill="none" stroke="#93e243" stroke-width="6.3" stroke-linejoin="round" stroke-linecap="round"/>
<polyline points="210.2,346.1 210.2,210.7 234.8,210.7 234.8,198.4 247.1,198.4" fill="none" stroke="#75b435" stroke-width="7.5" stroke-linejoin="round" stroke-linecap="round"/>
<polyline points="210.2,346.1 210.2,210.7 234.8,210.7 234.8,198.4 247.1,198.4" fill="none" stroke="#93e243" stroke-width="6.3" stroke-linejoin="round" stroke-linecap="round"/>
<polyline points="382.5,875.3 394.8,863.0 419.4,863.0 1280.9,863.0 1280.9,764.5 1010.1,764.5 1010.1,407.6 960.9,407.6 960.9,370.7 973.2,370.7" fill="none" stroke="#75b435" stroke-width="7.5" stroke-linejoin="round" stroke-linecap="round"/>
<polyline points="382.5,875.3 394.8,863.0 419.4,863.0 1280.9,863.0 1280.9,764.5 1010.1,764.5 1010.1,407.6 960.9,407.6 960.9,370.7 973.2,370.7" fill="none" stroke="#93e243" stroke-width="6.3" stroke-linejoin="round" stroke-linecap="round"/>
<polyline points="1219.4,838.4 1280.9,838.4" fill="none" stroke="#75b435" stroke-width="7.5" stroke-linejoin="round" stroke-linecap="round"/>
<polyline points="1219.4,838.4 1280.9,838.4" fill="none" stroke="#93e243" stroke-width="6.3" stroke-linejoin="round" stroke-linecap="round"/>
<polyline points="480.9,296.8 480.9,235.3 850.2,235.3 850.2,75.3" fill="none" stroke="#75b435" stroke-width="7.5" stroke-linejoin="round" stroke-linecap="round"/>
<polyline points="480.9,296.8 480.9,235.3 850.2,235.3 850.2,75.3" fill="none" stroke="#93e243" stroke-width="6.3" stroke-linejoin="round" stroke-linecap="round"/>
<polyline points="776.3,75.3 850.2,75.3" fill="none" stroke="#30a334" stroke-width="7.5" stroke-linejoin="round" stroke-linecap="round"/>
<polyline points="776.3,75.3 850.2,75.3" fill="none" stroke="#3dcc41" stroke-width="6.3" stroke-linejoin="round" stroke-linecap="round"/>
<polyline points="1391.7,518.4 1404.0,518.4 1404.0,715.3 1182.4,715.3 1182.4,801.4 1194.7,801.4" fill="none" stroke="#30a334" stroke-width="7.5" stroke-linejoin="round" stroke-linecap="round"/>
<polyline points="1391.7,518.4 1404.0,518.4 1404.0,715.3 1182.4,715.3 1182.4,801.4 1194.7,801.4" fill="none" stroke="#3dcc41" stroke-width="6.3" stroke-linejoin="round" stroke-linecap="round"/>
<polyline points="899.4,259.9 788.6,259.9 788.6,272.2 665.5,272.2 665.5,284.5 604.0,284.5 604.0,296.8" fill="none" stroke="#39b47c" stroke-width="7.5" stroke-linejoin="round" stroke-linecap="round"/>
<polyline points="899.4,259.9 788.6,259.9 788.6,272.2 665.5,272.2 665.5,284.5 604.0,284.5 604.0,296.8" fill="none" stroke="#48e29c" stroke-width="6.3" stroke-linejoin="round" stroke-linecap="round"/>
<polyline points="911.7,284.5 727.1,284.5 727.1,296.8" fill="none" stroke="#cccccc" stroke-width="7.5" stroke-linejoin="round" stroke-linecap="round"/>
<polyline points="911.7,284.5 727.1,284.5 727.1,296.8" fill="none" stroke="#ffffff" stroke-width="6.3" stroke-linejoin="round" stroke-linecap="round"/>
<polyline points="887.1,776.8 1047.1,776.8 1047.1,543.0 1071.7,543.0" fill="none" stroke="#4846b9" stroke-width="7.5" stroke-linejoin="round" stroke-linecap="round"/>
<polyline points="887.1,776.8 1047.1,776.8 1047.1,543.0 1071.7,543.0" fill="none" stroke="#5a58e8" stroke-width="6.3" stroke-linejoin="round" stroke-linecap="round"/>
<polyline points="936.3,469.1 1010.1,469.1" fill="none" stroke="#75b435" stroke-width="7.5" stroke-linejoin="round" stroke-linecap="round"/>
<polyline points="936.3,469.1 1010.1,469.1" fill="none" stroke="#93e243" stroke-width="6.3" stroke-linejoin="round" stroke-linecap="round"/>
<polyline points="887.1,469.1 911.7,469.1 911.7,432.2" fill="none" stroke="#3079a6" stroke-width="7.5" stroke-linejoin="round" stroke-linecap="round"/>
<polyline points="887.1,469.1 911.7,469.1 911.7,432.2" fill="none" stroke="#3d98d0" stroke-width="6.3" stroke-linejoin="round" stroke-linecap="round"/>
<polyline points="850.2,481.5 862.5,481.5" fill="none" stroke="#3079a6" stroke-width="7.5" stroke-linejoin="round" stroke-linecap="round"/>
<polyline points="850.2,481.5 862.5,481.5" fill="none" stroke="#3d98d0" stroke-width="6.3" stroke-linejoin="round" stroke-linecap="round"/>
<polyline points="936.3,506.1 997.8,506.1" fill="none" stroke="#b2b535" stroke-width="7.5" stroke-linejoin="round" stroke-linecap="round"/>
<polyline points="936.3,506.1 997.8,506.1" fill="none" stroke="#dfe343" stroke-width="6.3" stroke-linejoin="round" stroke-linecap="round"/>
<polyline points="936.3,543.0 1010.1,543.0" fill="none" stroke="#75b435" stroke-width="7.5" stroke-linejoin="round" stroke-linecap="round"/>
<polyline points="936.3,543.0 1010.1,543.0" fill="none" stroke="#93e243" stroke-width="6.3" stroke-linejoin="round" stroke-linecap="round"/>
<polyline points="887.1,543.0 911.7,543.0 911.7,506.1" fill="none" stroke="#3079a6" stroke-width="7.5" stroke-linejoin="round" stroke-linecap="round"/>
<polyline points="887.1,543.0 911.7,543.0 911.7,506.1" fill="none" stroke="#3d98d0" stroke-width="6.3" stroke-linejoin="round" stroke-linecap="round"/>
<polyline points="850.2,555.3 862.5,555.3" fill="none" stroke="#3079a6" stroke-width="7.5" stroke-linejoin="round" stroke-linecap="round"/>
<polyline points="850.2,555.3 862.5,555.3" fill="none" stroke="#3d98d0" stroke-width="6.3" stroke-linejoin="round" stroke-linecap="round"/>
<polyline points="936.3,579.9 997.8,579.9" fill="none" stroke="#b2b535" stroke-width="7.5" stroke-linejoin="round" stroke-linecap="round"/>
<polyline points="936.3,579.9 997.8,579.9" fill="none" stroke="#dfe343" stroke-width="6.3" stroke-linejoin="round" stroke-linecap="round"/>
<polyline points="936.3,616.8 1010.1,616.8" fill="none" stroke="#75b435" stroke-width="7.5" stroke-linejoin="round" stroke-linecap="round"/>
<polyline points="936.3,616.8 1010.1,616.8" fill="none" stroke="#93e243" stroke-width="6.3" stroke-linejoin="round" stroke-linecap="round"/>
<polyline points="887.1,616.8 911.7,616.8 911.7,579.9" fill="none" stroke="#3079a6" stroke-width="7.5" stroke-linejoin="round" stroke-linecap="round"/>
<polyline points="887.1,616.8 911.7,616.8 911.7,579.9" fill="none" stroke="#3d98d0" stroke-width="6.3" stroke-linejoin="round" stroke-linecap="round"/>
<polyline points="850.2,629.1 862.5,629.1" fill="none" stroke="#3079a6" stroke-width="7.5" stroke-linejoin="round" stroke-linecap="round"/>
<polyline points="850.2,629.1 862.5,629.1" fill="none" stroke="#3d98d0" stroke-width="6.3" stroke-linejoin="round" stroke-linecap="round"/>
<polyline points="936.3,653.8 997.8,653.8" fill="none" stroke="#b2b535" stroke-width="7.5" stroke-linejoin="round" stroke-linecap="round"/>
<polyline points="936.3,653.8 997.8,653.8" fill="none" stroke="#dfe343" stroke-width="6.3" stroke-linejoin="round" stroke-linecap="round"/>
<polyline points="936.3,690.7 1010.1,690.7" fill="none" stroke="#75b435" stroke-width="7.5" stroke-linejoin="round" stroke-linecap="round"/>
<polyline points="936.3,690.7 1010.1,690.7" fill="none" stroke="#93e243" stroke-width="6.3" stroke-linejoin="round" stroke-linecap="round"/>
<polyline points="887.1,690.7 911.7,690.7 911.7,653.8" fill="none" stroke="#3079a6" stroke-width="7.5" stroke-linejoin="round" stroke-linecap="round"/>
<polyline points="887.1,690.7 911.7,690.7 911.7,653.8" fill="none" stroke="#3d98d0" stroke-width="6.3" stroke-linejoin="round" stroke-linecap="round"/>
<polyline points="850.2,703.0 862.5,703.0" fill="none" stroke="#3079a6" stroke-width="7.5" stroke-linejoin="round" stroke-linecap="round"/>
<polyline points="850.2,703.0 862.5,703.0" fill="none" stroke="#3d98d0" stroke-width="6.3" stroke-linejoin="round" stroke-linecap="round"/>
<polyline points="936.3,727.6 997.8,727.6" fill="none" stroke="#b2b535" stroke-width="7.5" stroke-linejoin="round" stroke-linecap="round"/>
<polyline points="936.3,727.6 997.8,727.6" fill="none" stroke="#dfe343" stroke-width="6.3" stroke-linejoin="round" stroke-linecap="round"/>
<polyline points="936.3,764.5 1010.1,764.5" fill="none" stroke="#75b435" stroke-width="7.5" stroke-linejoin="round" stroke-linecap="round"/>
<polyline points="936.3,764.5 1010.1,764.5" fill="none" stroke="#93e243" stroke-width="6.3" stroke-linejoin="round" stroke-linecap="round"/>
<polyline points="887.1,764.5 911.7,764.5 911.7,727.6" fill="none" stroke="#3079a6" stroke-width="7.5" stroke-linejoin="round" stroke-linecap="round"/>
<polyline points="887.1,764.5 911.7,764.5 911.7,727.6" fill="none" stroke="#3d98d0" stroke-width="6.3" stroke-linejoin="round" stroke-linecap="round"/>
<polyline points="850.2,776.8 862.5,776.8" fill="none" stroke="#3079a6" stroke-width="7.5" stroke-linejoin="round" stroke-linecap="round"/>
<polyline points="850.2,776.8 862.5,776.8" fill="none" stroke="#3d98d0" stroke-width="6.3" stroke-linejoin="round" stroke-linecap="round"/>
<polyline points="333.3,370.7 394.8,370.7 394.8,296.8 480.9,296.8" fill="none" stroke="#75b435" stroke-width="7.5" stroke-linejoin="round" stroke-linecap="round"/>
<polyline points="333.3,370.7 394.8,370.7 394.8,296.8 480.9,296.8" fill="none" stroke="#93e243" stroke-width="6.3" stroke-linejoin="round" stroke-linecap="round"/>
<polyline points="394.8,161.5 407.1,149.2" fill="none" stroke="#37acb8" stroke-width="6.3" stroke-linejoin="round" stroke-linecap="round"/>
<polyline points="394.8,161.5 407.1,149.2" fill="none" stroke="#45d8e6" stroke-width="5.1" stroke-linejoin="round" stroke-linecap="round"/>
<polyline points="394.8,173.8 407.1,173.8" fill="none" stroke="#37acb8" stroke-width="6.3" stroke-linejoin="round" stroke-linecap="round"/>
<polyline points="394.8,173.8 407.1,173.8" fill="none" stroke="#45d8e6" stroke-width="5.1" stroke-linejoin="round" stroke-linecap="round"/>
<polyline points="394.8,186.1 419.4,186.1 419.4,272.2 653.2,272.2 653.2,333.8 887.1,333.8 887.1,358.4 973.2,358.4" fill="none" stroke="#37acb8" stroke-width="6.3" stroke-linejoin="round" stroke-linecap="round"/>
<polyline points="394.8,186.1 419.4,186.1 419.4,272.2 653.2,272.2 653.2,333.8 887.1,333.8 887.1,358.4 973.2,358.4" fill="none" stroke="#45d8e6" stroke-width="5.1" stroke-linejoin="round" stroke-linecap="round"/>
<polyline points="653.2,333.8 653.2,358.4" fill="none" stroke="#37acb8" stroke-width="6.3" stroke-linejoin="round" stroke-linecap="round"/>
<polyline points="653.2,333.8 653.2,358.4" fill="none" stroke="#45d8e6" stroke-width="5.1" stroke-linejoin="round" stroke-linecap="round"/>
<polyline points="394.8,198.4 407.1,198.4 407.1,259.9 776.3,259.9 776.3,321.5 973.2,321.5" fill="none" stroke="#37acb8" stroke-width="6.3" stroke-linejoin="round" stroke-linecap="round"/>
<polyline points="394.8,198.4 407.1,198.4 407.1,259.9 776.3,259.9 776.3,321.5 973.2,321.5" fill="none" stroke="#45d8e6" stroke-width="5.1" stroke-linejoin="round" stroke-linecap="round"/>
<polyline points="776.3,321.5 776.3,358.4" fill="none" stroke="#37acb8" stroke-width="6.3" stroke-linejoin="round" stroke-linecap="round"/>
<polyline points="776.3,321.5 776.3,358.4" fill="none" stroke="#45d8e6" stroke-width="5.1" stroke-linejoin="round" stroke-linecap="round"/>
<polyline points="444.0,161.5 444.0,284.5 530.2,284.5 530.2,358.4" fill="none" stroke="#37acb8" stroke-width="6.3" stroke-linejoin="round" stroke-linecap="round"/>
<polyline points="444.0,161.5 444.0,284.5 530.2,284.5 530.2,358.4" fill="none" stroke="#45d8e6" stroke-width="5.1" stroke-linejoin="round" stroke-linecap="round"/>
<polyline points="247.1,173.8 247.1,161.5 308.6,161.5 357.9,161.5 357.9,149.2 370.2,149.2" fill="none" stroke="#666666" stroke-width="7.5" stroke-linejoin="round" stroke-linecap="round"/>
<polyline points="247.1,173.8 247.1,161.5 308.6,161.5 357.9,161.5 357.9,149.2 370.2,149.2" fill="none" stroke="#808080" stroke-width="6.3" stroke-linejoin="round" stroke-linecap="round"/>
<polyline points="308.6,161.5 308.6,210.7 296.3,223.0" fill="none" stroke="#666666" stroke-width="7.5" stroke-linejoin="round" stroke-linecap="round"/>
<polyline points="308.6,161.5 308.6,210.7 296.3,223.0" fill="none" stroke="#808080" stroke-width="6.3" stroke-linejoin="round" stroke-linecap="round"/>
<polyline points="357.9,161.5 357.9,247.6 1022.5,247.6 1022.5,346.1" fill="none" stroke="#666666" stroke-width="7.5" stroke-linejoin="round" stroke-linecap="round"/>
<polyline points="357.9,161.5 357.9,247.6 1022.5,247.6 1022.5,346.1" fill="none" stroke="#808080" stroke-width="6.3" stroke-linejoin="round" stroke-linecap="round"/>
<polyline points="776.3,38.4 850.2,38.4 924.0,38.4 924.0,247.6" fill="none" stroke="#666666" stroke-width="7.5" stroke-linejoin="round" stroke-linecap="round"/>
<polyline points="776.3,38.4 850.2,38.4 924.0,38.4 924.0,247.6" fill="none" stroke="#808080" stroke-width="6.3" stroke-linejoin="round" stroke-linecap="round"/>
<polyline points="776.3,63.0 850.2,63.0 899.4,63.0 899.4,259.9 899.4,383.0 973.2,383.0" fill="none" stroke="#39b47c" stroke-width="7.5" stroke-linejoin="round" stroke-linecap="round"/>
<polyline points="776.3,63.0 850.2,63.0 899.4,63.0 899.4,259.9 899.4,383.0 973.2,383.0" fill="none" stroke="#48e29c" stroke-width="6.3" stroke-linejoin="round" stroke-linecap="round"/>
<polyline points="776.3,50.7 850.2,50.7 911.7,50.7 911.7,284.5 911.7,346.1 973.2,346.1" fill="none" stroke="#cccccc" stroke-width="7.5" stroke-linejoin="round" stroke-linecap="round"/>
<polyline points="776.3,50.7 850.2,50.7 911.7,50.7 911.7,284.5 911.7,346.1 973.2,346.1" fill="none" stroke="#ffffff" stroke-width="6.3" stroke-linejoin="round" stroke-linecap="round"/>
<polyline points="825.5,432.2 825.5,456.8 862.5,456.8" fill="none" stroke="#b67c30" stroke-width="6.3" stroke-linejoin="round" stroke-linecap="round"/>
<polyline points="825.5,432.2 825.5,456.8 862.5,456.8" fill="none" stroke="#e49b3d" stroke-width="5.1" stroke-linejoin="round" stroke-linecap="round"/>
<polyline points="825.5,506.1 825.5,530.7 862.5,530.7" fill="none" stroke="#b67c30" stroke-width="6.3" stroke-linejoin="round" stroke-linecap="round"/>
<polyline points="825.5,506.1 825.5,530.7 862.5,530.7" fill="none" stroke="#e49b3d" stroke-width="5.1" stroke-linejoin="round" stroke-linecap="round"/>
<polyline points="825.5,579.9 825.5,604.5 862.5,604.5" fill="none" stroke="#b67c30" stroke-width="6.3" stroke-linejoin="round" stroke-linecap="round"/>
<polyline points="825.5,579.9 825.5,604.5 862.5,604.5" fill="none" stroke="#e49b3d" stroke-width="5.1" stroke-linejoin="round" stroke-linecap="round"/>
<polyline points="825.5,653.8 825.5,678.4 862.5,678.4" fill="none" stroke="#b67c30" stroke-width="6.3" stroke-linejoin="round" stroke-linecap="round"/>
<polyline points="825.5,653.8 825.5,678.4 862.5,678.4" fill="none" stroke="#e49b3d" stroke-width="5.1" stroke-linejoin="round" stroke-linecap="round"/>
<polyline points="825.5,727.6 825.5,752.2 862.5,752.2" fill="none" stroke="#b67c30" stroke-width="6.3" stroke-linejoin="round" stroke-linecap="round"/>
<polyline points="825.5,727.6 825.5,752.2 862.5,752.2" fill="none" stroke="#e49b3d" stroke-width="5.1" stroke-linejoin="round" stroke-linecap="round"/>
<polyline points="136.3,210.7 185.6,210.7 185.6,432.2 690.2,432.2 690.2,370.7" fill="none" stroke="#7838b5" stroke-width="6.3" stroke-linejoin="round" stroke-linecap="round"/>
<polyline points="136.3,210.7 185.6,210.7 185.6,432.2 690.2,432.2 690.2,370.7" fill="none" stroke="#9746e3" stroke-width="5.1" stroke-linejoin="round" stroke-linecap="round"/>
<polyline points="739.4,321.5 739.4,346.1" fill="none" stroke="#7838b5" stroke-width="6.3" stroke-linejoin="round" stroke-linecap="round"/>
<polyline points="739.4,321.5 739.4,346.1" fill="none" stroke="#9746e3" stroke-width="5.1" stroke-linejoin="round" stroke-linecap="round"/>
<polyline points="751.7,321.5 751.7,346.1" fill="none" stroke="#7838b5" stroke-width="6.3" stroke-linejoin="round" stroke-linecap="round"/>
<polyline points="751.7,321.5 751.7,346.1" fill="none" stroke="#9746e3" stroke-width="5.1" stroke-linejoin="round" stroke-linecap="round"/>
<polyline points="764.0,321.5 764.0,346.1" fill="none" stroke="#7838b5" stroke-width="6.3" stroke-linejoin="round" stroke-linecap="round"/>
<polyline points="764.0,321.5 764.0,346.1" fill="none" stroke="#9746e3" stroke-width="5.1" stroke-linejoin="round" stroke-linecap="round"/>
<polyline points="764.0,370.7 764.0,432.2 788.6,432.2 800.9,432.2" fill="none" stroke="#7838b5" stroke-width="6.3" stroke-linejoin="round" stroke-linecap="round"/>
<polyline points="764.0,370.7 764.0,432.2 788.6,432.2 800.9,432.2" fill="none" stroke="#9746e3" stroke-width="5.1" stroke-linejoin="round" stroke-linecap="round"/>
<polyline points="788.6,432.2 800.9,419.9 813.2,419.9 924.0,419.9" fill="none" stroke="#7838b5" stroke-width="6.3" stroke-linejoin="round" stroke-linecap="round"/>
<polyline points="788.6,432.2 800.9,419.9 813.2,419.9 924.0,419.9" fill="none" stroke="#9746e3" stroke-width="5.1" stroke-linejoin="round" stroke-linecap="round"/>
<polyline points="751.7,370.7 751.7,506.1 788.6,506.1 800.9,506.1" fill="none" stroke="#7838b5" stroke-width="6.3" stroke-linejoin="round" stroke-linecap="round"/>
<polyline points="751.7,370.7 751.7,506.1 788.6,506.1 800.9,506.1" fill="none" stroke="#9746e3" stroke-width="5.1" stroke-linejoin="round" stroke-linecap="round"/>
<polyline points="788.6,506.1 800.9,493.8 813.2,493.8 924.0,493.8" fill="none" stroke="#7838b5" stroke-width="6.3" stroke-linejoin="round" stroke-linecap="round"/>
<polyline points="788.6,506.1 800.9,493.8 813.2,493.8 924.0,493.8" fill="none" stroke="#9746e3" stroke-width="5.1" stroke-linejoin="round" stroke-linecap="round"/>
<polyline points="739.4,370.7 739.4,579.9 788.6,579.9 800.9,579.9" fill="none" stroke="#7838b5" stroke-width="6.3" stroke-linejoin="round" stroke-linecap="round"/>
<polyline points="739.4,370.7 739.4,579.9 788.6,579.9 800.9,579.9" fill="none" stroke="#9746e3" stroke-width="5.1" stroke-linejoin="round" stroke-linecap="round"/>
<polyline points="788.6,579.9 800.9,567.6 813.2,567.6 924.0,567.6" fill="none" stroke="#7838b5" stroke-width="6.3" stroke-linejoin="round" stroke-linecap="round"/>
<polyline points="788.6,579.9 800.9,567.6 813.2,567.6 924.0,567.6" fill="none" stroke="#9746e3" stroke-width="5.1" stroke-linejoin="round" stroke-linecap="round"/>
<polyline points="727.1,370.7 727.1,653.8 788.6,653.8 800.9,653.8" fill="none" stroke="#7838b5" stroke-width="6.3" stroke-linejoin="round" stroke-linecap="round"/>
<polyline points="727.1,370.7 727.1,653.8 788.6,653.8 800.9,653.8" fill="none" stroke="#9746e3" stroke-width="5.1" stroke-linejoin="round" stroke-linecap="round"/>
<polyline points="788.6,653.8 800.9,641.4 813.2,641.4 924.0,641.4" fill="none" stroke="#7838b5" stroke-width="6.3" stroke-linejoin="round" stroke-linecap="round"/>
<polyline points="788.6,653.8 800.9,641.4 813.2,641.4 924.0,641.4" fill="none" stroke="#9746e3" stroke-width="5.1" stroke-linejoin="round" stroke-linecap="round"/>
<polyline points="714.8,370.7 714.8,727.6 788.6,727.6 800.9,727.6" fill="none" stroke="#7838b5" stroke-width="6.3" stroke-linejoin="round" stroke-linecap="round"/>
<polyline points="714.8,370.7 714.8,727.6 788.6,727.6 800.9,727.6" fill="none" stroke="#9746e3" stroke-width="5.1" stroke-linejoin="round" stroke-linecap="round"/>
<polyline points="788.6,727.6 800.9,715.3 813.2,715.3 924.0,715.3" fill="none" stroke="#7838b5" stroke-width="6.3" stroke-linejoin="round" stroke-linecap="round"/>
<polyline points="788.6,727.6 800.9,715.3 813.2,715.3 924.0,715.3" fill="none" stroke="#9746e3" stroke-width="5.1" stroke-linejoin="round" stroke-linecap="round"/>
<polyline points="702.5,370.7 702.5,801.4 788.6,801.4 800.9,801.4" fill="none" stroke="#7838b5" stroke-width="6.3" stroke-linejoin="round" stroke-linecap="round"/>
<polyline points="702.5,370.7 702.5,801.4 788.6,801.4 800.9,801.4" fill="none" stroke="#9746e3" stroke-width="5.1" stroke-linejoin="round" stroke-linecap="round"/>
<polyline points="788.6,801.4 800.9,789.1 813.2,789.1 1207.1,789.1" fill="none" stroke="#7838b5" stroke-width="6.3" stroke-linejoin="round" stroke-linecap="round"/>
<polyline points="788.6,801.4 800.9,789.1 813.2,789.1 1207.1,789.1" fill="none" stroke="#9746e3" stroke-width="5.1" stroke-linejoin="round" stroke-linecap="round"/>
<polyline points="370.2,838.4 382.5,838.4 407.1,863.0 407.1,899.9 677.9,899.9 677.9,370.7" fill="none" stroke="#7838b5" stroke-width="6.3" stroke-linejoin="round" stroke-linecap="round"/>
<polyline points="370.2,838.4 382.5,838.4 407.1,863.0 407.1,899.9 677.9,899.9 677.9,370.7" fill="none" stroke="#9746e3" stroke-width="5.1" stroke-linejoin="round" stroke-linecap="round"/>
<polyline points="382.5,887.6 394.8,887.6 407.1,899.9" fill="none" stroke="#7838b5" stroke-width="6.3" stroke-linejoin="round" stroke-linecap="round"/>
<polyline points="382.5,887.6 394.8,887.6 407.1,899.9" fill="none" stroke="#9746e3" stroke-width="5.1" stroke-linejoin="round" stroke-linecap="round"/>
<polyline points="136.3,247.6 173.3,247.6 173.3,419.9 567.1,419.9 567.1,370.7" fill="none" stroke="#b536a2" stroke-width="6.3" stroke-linejoin="round" stroke-linecap="round"/>
<polyline points="136.3,247.6 173.3,247.6 173.3,419.9 567.1,419.9 567.1,370.7" fill="none" stroke="#e344cb" stroke-width="5.1" stroke-linejoin="round" stroke-linecap="round"/>
<polyline points="616.3,321.5 616.3,346.1" fill="none" stroke="#b536a2" stroke-width="6.3" stroke-linejoin="round" stroke-linecap="round"/>
<polyline points="616.3,321.5 616.3,346.1" fill="none" stroke="#e344cb" stroke-width="5.1" stroke-linejoin="round" stroke-linecap="round"/>
<polyline points="628.6,321.5 628.6,346.1" fill="none" stroke="#b536a2" stroke-width="6.3" stroke-linejoin="round" stroke-linecap="round"/>
<polyline points="628.6,321.5 628.6,346.1" fill="none" stroke="#e344cb" stroke-width="5.1" stroke-linejoin="round" stroke-linecap="round"/>
<polyline points="640.9,321.5 640.9,346.1" fill="none" stroke="#b536a2" stroke-width="6.3" stroke-linejoin="round" stroke-linecap="round"/>
<polyline points="640.9,321.5 640.9,346.1" fill="none" stroke="#e344cb" stroke-width="5.1" stroke-linejoin="round" stroke-linecap="round"/>
<polyline points="640.9,370.7 640.9,456.8 788.6,456.8 800.9,456.8" fill="none" stroke="#b536a2" stroke-width="6.3" stroke-linejoin="round" stroke-linecap="round"/>
<polyline points="640.9,370.7 640.9,456.8 788.6,456.8 800.9,456.8" fill="none" stroke="#e344cb" stroke-width="5.1" stroke-linejoin="round" stroke-linecap="round"/>
<polyline points="788.6,456.8 800.9,444.5 813.2,444.5 874.8,444.5 887.1,456.8 924.0,456.8" fill="none" stroke="#b536a2" stroke-width="6.3" stroke-linejoin="round" stroke-linecap="round"/>
<polyline points="788.6,456.8 800.9,444.5 813.2,444.5 874.8,444.5 887.1,456.8 924.0,456.8" fill="none" stroke="#e344cb" stroke-width="5.1" stroke-linejoin="round" stroke-linecap="round"/>
<polyline points="628.6,370.7 628.6,530.7 788.6,530.7 800.9,530.7" fill="none" stroke="#b536a2" stroke-width="6.3" stroke-linejoin="round" stroke-linecap="round"/>
<polyline points="628.6,370.7 628.6,530.7 788.6,530.7 800.9,530.7" fill="none" stroke="#e344cb" stroke-width="5.1" stroke-linejoin="round" stroke-linecap="round"/>
<polyline points="788.6,530.7 800.9,518.4 813.2,518.4 911.7,518.4 924.0,530.7" fill="none" stroke="#b536a2" stroke-width="6.3" stroke-linejoin="round" stroke-linecap="round"/>
<polyline points="788.6,530.7 800.9,518.4 813.2,518.4 911.7,518.4 924.0,530.7" fill="none" stroke="#e344cb" stroke-width="5.1" stroke-linejoin="round" stroke-linecap="round"/>
<polyline points="616.3,370.7 616.3,604.5 788.6,604.5 800.9,604.5" fill="none" stroke="#b536a2" stroke-width="6.3" stroke-linejoin="round" stroke-linecap="round"/>
<polyline points="616.3,370.7 616.3,604.5 788.6,604.5 800.9,604.5" fill="none" stroke="#e344cb" stroke-width="5.1" stroke-linejoin="round" stroke-linecap="round"/>
<polyline points="788.6,604.5 800.9,592.2 813.2,592.2 911.7,592.2 924.0,604.5" fill="none" stroke="#b536a2" stroke-width="6.3" stroke-linejoin="round" stroke-linecap="round"/>
<polyline points="788.6,604.5 800.9,592.2 813.2,592.2 911.7,592.2 924.0,604.5" fill="none" stroke="#e344cb" stroke-width="5.1" stroke-linejoin="round" stroke-linecap="round"/>
<polyline points="604.0,370.7 604.0,678.4 788.6,678.4 800.9,678.4" fill="none" stroke="#b536a2" stroke-width="6.3" stroke-linejoin="round" stroke-linecap="round"/>
<polyline points="604.0,370.7 604.0,678.4 788.6,678.4 800.9,678.4" fill="none" stroke="#e344cb" stroke-width="5.1" stroke-linejoin="round" stroke-linecap="round"/>
<polyline points="788.6,678.4 800.9,666.1 813.2,666.1 911.7,666.1 924.0,678.4" fill="none" stroke="#b536a2" stroke-width="6.3" stroke-linejoin="round" stroke-linecap="round"/>
<polyline points="788.6,678.4 800.9,666.1 813.2,666.1 911.7,666.1 924.0,678.4" fill="none" stroke="#e344cb" stroke-width="5.1" stroke-linejoin="round" stroke-linecap="round"/>
<polyline points="591.7,370.7 591.7,752.2 788.6,752.2 800.9,752.2" fill="none" stroke="#b536a2" stroke-width="6.3" stroke-linejoin="round" stroke-linecap="round"/>
<polyline points="591.7,370.7 591.7,752.2 788.6,752.2 800.9,752.2" fill="none" stroke="#e344cb" stroke-width="5.1" stroke-linejoin="round" stroke-linecap="round"/>
<polyline points="788.6,752.2 800.9,739.9 813.2,739.9 911.7,739.9 924.0,752.2" fill="none" stroke="#b536a2" stroke-width="6.3" stroke-linejoin="round" stroke-linecap="round"/>
<polyline points="788.6,752.2 800.9,739.9 813.2,739.9 911.7,739.9 924.0,752.2" fill="none" stroke="#e344cb" stroke-width="5.1" stroke-linejoin="round" stroke-linecap="round"/>
<polyline points="579.4,370.7 579.4,826.0 788.6,826.0 800.9,826.0" fill="none" stroke="#b536a2" stroke-width="6.3" stroke-linejoin="round" stroke-linecap="round"/>
<polyline points="579.4,370.7 579.4,826.0 788.6,826.0 800.9,826.0" fill="none" stroke="#e344cb" stroke-width="5.1" stroke-linejoin="round" stroke-linecap="round"/>
<polyline points="788.6,826.0 800.9,813.7 813.2,813.7 1207.1,813.7 1207.1,826.0" fill="none" stroke="#b536a2" stroke-width="6.3" stroke-linejoin="round" stroke-linecap="round"/>
<polyline points="788.6,826.0 800.9,813.7 813.2,813.7 1207.1,813.7 1207.1,826.0" fill="none" stroke="#e344cb" stroke-width="5.1" stroke-linejoin="round" stroke-linecap="round"/>
<polyline points="382.5,912.2 394.8,912.2" fill="none" stroke="#b536a2" stroke-width="6.3" stroke-linejoin="round" stroke-linecap="round"/>
<polyline points="382.5,912.2 394.8,912.2" fill="none" stroke="#e344cb" stroke-width="5.1" stroke-linejoin="round" stroke-linecap="round"/>
<polyline points="74.8,210.7 74.8,198.4 111.7,198.4 111.7,247.6 87.1,247.6" fill="none" stroke="#b5563c" stroke-width="6.3" stroke-linejoin="round" stroke-linecap="round"/>
<polyline points="74.8,210.7 74.8,198.4 111.7,198.4 111.7,247.6 87.1,247.6" fill="none" stroke="#e36c4b" stroke-width="5.1" stroke-linejoin="round" stroke-linecap="round"/>
<polyline points="99.4,284.5 99.4,407.6 444.0,407.6 444.0,370.7" fill="none" stroke="#b5563c" stroke-width="6.3" stroke-linejoin="round" stroke-linecap="round"/>
<polyline points="99.4,284.5 99.4,407.6 444.0,407.6 444.0,370.7" fill="none" stroke="#e36c4b" stroke-width="5.1" stroke-linejoin="round" stroke-linecap="round"/>
<polyline points="431.7,370.7 431.7,887.6 1305.5,887.6" fill="none" stroke="#b5563c" stroke-width="6.3" stroke-linejoin="round" stroke-linecap="round"/>
<polyline points="431.7,370.7 431.7,887.6 1305.5,887.6" fill="none" stroke="#e36c4b" stroke-width="5.1" stroke-linejoin="round" stroke-linecap="round"/>
<polyline points="456.3,370.7 456.3,838.4 1034.8,838.4 1034.8,530.7 1071.7,530.7" fill="none" stroke="#b5563c" stroke-width="6.3" stroke-linejoin="round" stroke-linecap="round"/>
<polyline points="456.3,370.7 456.3,838.4 1034.8,838.4 1034.8,530.7 1071.7,530.7" fill="none" stroke="#e36c4b" stroke-width="5.1" stroke-linejoin="round" stroke-linecap="round"/>
<polyline points="493.3,321.5 493.3,346.1" fill="none" stroke="#b5563c" stroke-width="6.3" stroke-linejoin="round" stroke-linecap="round"/>
<polyline points="493.3,321.5 493.3,346.1" fill="none" stroke="#e36c4b" stroke-width="5.1" stroke-linejoin="round" stroke-linecap="round"/>
<polyline points="505.6,321.5 505.6,346.1" fill="none" stroke="#b5563c" stroke-width="6.3" stroke-linejoin="round" stroke-linecap="round"/>
<polyline points="505.6,321.5 505.6,346.1" fill="none" stroke="#e36c4b" stroke-width="5.1" stroke-linejoin="round" stroke-linecap="round"/>
<polyline points="517.9,321.5 517.9,346.1" fill="none" stroke="#b5563c" stroke-width="6.3" stroke-linejoin="round" stroke-linecap="round"/>
<polyline points="517.9,321.5 517.9,346.1" fill="none" stroke="#e36c4b" stroke-width="5.1" stroke-linejoin="round" stroke-linecap="round"/>
<polyline points="517.9,370.7 517.9,469.1 862.5,469.1" fill="none" stroke="#b5563c" stroke-width="6.3" stroke-linejoin="round" stroke-linecap="round"/>
<polyline points="517.9,370.7 517.9,469.1 862.5,469.1" fill="none" stroke="#e36c4b" stroke-width="5.1" stroke-linejoin="round" stroke-linecap="round"/>
<polyline points="505.6,370.7 505.6,543.0 862.5,543.0" fill="none" stroke="#b5563c" stroke-width="6.3" stroke-linejoin="round" stroke-linecap="round"/>
<polyline points="505.6,370.7 505.6,543.0 862.5,543.0" fill="none" stroke="#e36c4b" stroke-width="5.1" stroke-linejoin="round" stroke-linecap="round"/>
<polyline points="493.3,370.7 493.3,616.8 862.5,616.8" fill="none" stroke="#b5563c" stroke-width="6.3" stroke-linejoin="round" stroke-linecap="round"/>
<polyline points="493.3,370.7 493.3,616.8 862.5,616.8" fill="none" stroke="#e36c4b" stroke-width="5.1" stroke-linejoin="round" stroke-linecap="round"/>
<polyline points="480.9,370.7 480.9,690.7 862.5,690.7" fill="none" stroke="#b5563c" stroke-width="6.3" stroke-linejoin="round" stroke-linecap="round"/>
<polyline points="480.9,370.7 480.9,690.7 862.5,690.7" fill="none" stroke="#e36c4b" stroke-width="5.1" stroke-linejoin="round" stroke-linecap="round"/>
<polyline points="468.6,370.7 468.6,764.5 862.5,764.5" fill="none" stroke="#b5563c" stroke-width="6.3" stroke-linejoin="round" stroke-linecap="round"/>
<polyline points="468.6,370.7 468.6,764.5 862.5,764.5" fill="none" stroke="#e36c4b" stroke-width="5.1" stroke-linejoin="round" stroke-linecap="round"/>
<polyline points="333.3,863.0 333.3,887.6 345.6,899.9" fill="none" stroke="#b67c30" stroke-width="6.3" stroke-linejoin="round" stroke-linecap="round"/>
<polyline points="333.3,863.0 333.3,887.6 345.6,899.9" fill="none" stroke="#e49b3d" stroke-width="5.1" stroke-linejoin="round" stroke-linecap="round"/>
<polyline points="825.5,801.4 825.5,826.0 1022.5,826.0 1022.5,518.4 1071.7,518.4" fill="none" stroke="#b67c30" stroke-width="6.3" stroke-linejoin="round" stroke-linecap="round"/>
<polyline points="825.5,801.4 825.5,826.0 1022.5,826.0 1022.5,518.4 1071.7,518.4" fill="none" stroke="#e49b3d" stroke-width="5.1" stroke-linejoin="round" stroke-linecap="round"/>
<polyline points="370.2,863.0 382.5,863.0 394.8,875.3 394.8,912.2 554.8,912.2 554.8,370.7" fill="none" stroke="#b536a2" stroke-width="6.3" stroke-linejoin="round" stroke-linecap="round"/>
<polyline points="370.2,863.0 382.5,863.0 394.8,875.3 394.8,912.2 554.8,912.2 554.8,370.7" fill="none" stroke="#e344cb" stroke-width="5.1" stroke-linejoin="round" stroke-linecap="round"/>
<polygon points="-3.0,-5.5 0.0,-2.9 3.0,-5.5 3.0,2.9 0.0,5.5 -3.0,2.9" fill="#2a8b37" transform="translate(554.8,388.0) rotate(0)"/>
<polygon points="-3.0,-5.5 0.0,-2.9 3.0,-5.5 3.0,2.9 0.0,5.5 -3.0,2.9" fill="#2a8b37" transform="translate(554.8,478.0) rotate(0)"/>
<polygon points="-3.0,-5.5 0.0,-2.9 3.0,-5.5 3.0,2.9 0.0,5.5 -3.0,2.9" fill="#2a8b37" transform="translate(554.8,569.0) rotate(0)"/>
<polygon points="-3.0,-5.5 0.0,-2.9 3.0,-5.5 3.0,2.9 0.0,5.5 -3.0,2.9" fill="#2a8b37" transform="translate(554.8,659.0) rotate(0)"/>
<polygon points="-3.0,-5.5 0.0,-2.9 3.0,-5.5 3.0,2.9 0.0,5.5 -3.0,2.9" fill="#2a8b37" transform="translate(554.8,750.0) rotate(0)"/>
<polygon points="-3.0,-5.5 0.0,-2.9 3.0,-5.5 3.0,2.9 0.0,5.5 -3.0,2.9" fill="#2a8b37" transform="translate(554.8,840.0) rotate(0)"/>
<polygon points="-3.0,-5.5 0.0,-2.9 3.0,-5.5 3.0,2.9 0.0,5.5 -3.0,2.9" fill="#2a8b37" transform="translate(505.6,454.0) rotate(0)"/>
<polygon points="-3.0,-3.0 0.0,-0.4 3.0,-3.0 3.0,0.4 0.0,3.0 -3.0,0.4" fill="#2a8b37" transform="translate(505.6,535.5) rotate(0)"/>
<polygon points="-3.0,-5.5 0.0,-2.9 3.0,-5.5 3.0,2.9 0.0,5.5 -3.0,2.9" fill="#2a8b37" transform="translate(764.0,412.0) rotate(0)"/>
<polygon points="-3.0,-6.0 0.0,-3.4 3.0,-6.0 3.0,3.4 0.0,6.0 -3.0,3.4" fill="#2a8b37" transform="translate(517.9,334.0) rotate(0)"/>
<polygon points="-3.0,-6.0 0.0,-3.4 3.0,-6.0 3.0,3.4 0.0,6.0 -3.0,3.4" fill="#2a8b37" transform="translate(616.3,334.0) rotate(0)"/>
<polygon points="-3.0,-6.0 0.0,-3.4 3.0,-6.0 3.0,3.4 0.0,6.0 -3.0,3.4" fill="#2a8b37" transform="translate(628.6,334.0) rotate(0)"/>
<polygon points="-3.0,-6.0 0.0,-3.4 3.0,-6.0 3.0,3.4 0.0,6.0 -3.0,3.4" fill="#2a8b37" transform="translate(640.9,334.0) rotate(0)"/>
<polygon points="-3.0,-3.0 0.0,-0.4 3.0,-3.0 3.0,0.4 0.0,3.0 -3.0,0.4" fill="#2a8b37" transform="translate(825.5,452.5) rotate(0)"/>
<polygon points="-3.0,-5.0 0.0,-2.4 3.0,-5.0 3.0,2.4 0.0,5.0 -3.0,2.4" fill="#2a8b37" transform="translate(333.3,880.0) rotate(0)"/>
<polygon points="-3.0,-5.5 0.0,-2.9 3.0,-5.5 3.0,2.9 0.0,5.5 -3.0,2.9" fill="#2a8b37" transform="translate(515.5,543.0) rotate(90)"/>
<polygon points="-3.0,-5.5 0.0,-2.9 3.0,-5.5 3.0,2.9 0.0,5.5 -3.0,2.9" fill="#2a8b37" transform="translate(604.0,543.0) rotate(90)"/>
<polygon points="-3.0,-5.5 0.0,-2.9 3.0,-5.5 3.0,2.9 0.0,5.5 -3.0,2.9" fill="#2a8b37" transform="translate(693.0,543.0) rotate(90)"/>
<polygon points="-3.0,-5.5 0.0,-2.9 3.0,-5.5 3.0,2.9 0.0,5.5 -3.0,2.9" fill="#2a8b37" transform="translate(782.0,543.0) rotate(90)"/>
<polygon points="-3.0,-5.5 0.0,-2.9 3.0,-5.5 3.0,2.9 0.0,5.5 -3.0,2.9" fill="#2a8b37" transform="translate(422.0,912.2) rotate(90)"/>
<polygon points="-3.0,-5.5 0.0,-2.9 3.0,-5.5 3.0,2.9 0.0,5.5 -3.0,2.9" fill="#2a8b37" transform="translate(502.0,912.2) rotate(90)"/>
<polygon points="-3.0,-5.5 0.0,-2.9 3.0,-5.5 3.0,2.9 0.0,5.5 -3.0,2.9" fill="#2a8b37" transform="translate(838.0,419.9) rotate(-90)"/>
<polygon points="-3.0,-3.5 0.0,-0.9 3.0,-3.5 3.0,0.9 0.0,3.5 -3.0,0.9" fill="#2a8b37" transform="translate(773.0,432.2) rotate(90)"/>
<polygon points="-3.0,-3.0 0.0,-0.4 3.0,-3.0 3.0,0.4 0.0,3.0 -3.0,0.4" fill="#2a8b37" transform="translate(856.0,456.8) rotate(90)"/>
<polygon points="973.7,315.8 973.7,351.8 996.7,333.8" fill="#1d50a0" opacity="0.85"/>
<polygon points="973.7,352.7 973.7,388.7 996.7,370.7" fill="#1d50a0" opacity="0.85"/>
<polygon points="283.5,365.0 283.5,401.0 260.5,383.0" fill="#1d50a0" opacity="0.85"/>
<polygon points="332.8,365.0 332.8,401.0 309.8,383.0" fill="#1d50a0" opacity="0.85"/>
<circle cx="456.3" cy="38.4" r="3.75" fill="#e0405e" stroke="#3d98d0" stroke-width="2.2"/>
<circle cx="222.5" cy="38.4" r="3.65" fill="#344a61" stroke="#3d98d0" stroke-width="2.5"/>
<circle cx="222.5" cy="198.4" r="3.65" fill="#344a61" stroke="#3d98d0" stroke-width="2.5"/>
<circle cx="222.5" cy="223.0" r="3.65" fill="#344a61" stroke="#3d98d0" stroke-width="2.5"/>
<circle cx="271.7" cy="223.0" r="3.75" fill="#e09a40" stroke="#3d98d0" stroke-width="2.2"/>
<circle cx="124.0" cy="198.4" r="3.65" fill="#344a61" stroke="#3d98d0" stroke-width="2.5"/>
<circle cx="124.0" cy="223.0" r="3.75" fill="#e6757c" stroke="#3d98d0" stroke-width="2.2"/>
<circle cx="124.0" cy="259.9" r="3.75" fill="#e6757c" stroke="#3d98d0" stroke-width="2.2"/>
<circle cx="74.8" cy="223.0" r="3.75" fill="#e09a40" stroke="#3d98d0" stroke-width="2.2"/>
<circle cx="62.5" cy="223.0" r="3.65" fill="#344a61" stroke="#3d98d0" stroke-width="2.5"/>
<circle cx="62.5" cy="383.0" r="3.65" fill="#344a61" stroke="#3d98d0" stroke-width="2.5"/>
<circle cx="259.4" cy="383.0" r="3.75" fill="#e0405e" stroke="#3d98d0" stroke-width="2.2"/>
<circle cx="99.4" cy="223.0" r="3.75" fill="#e0405e" stroke="#3d98d0" stroke-width="2.2"/>
<circle cx="284.0" cy="383.0" r="3.75" fill="#e6757c" stroke="#3d98d0" stroke-width="2.2"/>
<circle cx="308.6" cy="383.0" r="3.75" fill="#e0405e" stroke="#3d98d0" stroke-width="2.2"/>
<circle cx="333.3" cy="383.0" r="3.75" fill="#e6757c" stroke="#3d98d0" stroke-width="2.2"/>
<circle cx="850.2" cy="383.0" r="3.65" fill="#344a61" stroke="#3d98d0" stroke-width="2.5"/>
<circle cx="850.2" cy="395.3" r="3.65" fill="#344a61" stroke="#3d98d0" stroke-width="2.5"/>
<circle cx="1059.4" cy="395.3" r="3.65" fill="#344a61" stroke="#3d98d0" stroke-width="2.5"/>
<circle cx="1059.4" cy="370.7" r="3.75" fill="#e0405e" stroke="#3d98d0" stroke-width="2.2"/>
<circle cx="850.2" cy="875.3" r="3.65" fill="#344a61" stroke="#3d98d0" stroke-width="2.5"/>
<circle cx="1293.2" cy="875.3" r="3.75" fill="#e6757c" stroke="#3d98d0" stroke-width="2.2"/>
<circle cx="850.2" cy="801.4" r="3.65" fill="#344a61" stroke="#3d98d0" stroke-width="2.5"/>
<circle cx="1059.4" cy="801.4" r="3.65" fill="#344a61" stroke="#3d98d0" stroke-width="2.5"/>
<circle cx="1059.4" cy="555.3" r="3.65" fill="#344a61" stroke="#3d98d0" stroke-width="2.5"/>
<circle cx="1071.7" cy="555.3" r="3.75" fill="#e09a40" stroke="#3d98d0" stroke-width="2.2"/>
<circle cx="997.8" cy="333.8" r="3.75" fill="#e0405e" stroke="#3d98d0" stroke-width="2.2"/>
<circle cx="997.8" cy="358.4" r="3.65" fill="#344a61" stroke="#3d98d0" stroke-width="2.5"/>
<circle cx="1010.1" cy="358.4" r="3.75" fill="#e6757c" stroke="#3d98d0" stroke-width="2.2"/>
<circle cx="997.8" cy="370.7" r="3.75" fill="#e0405e" stroke="#3d98d0" stroke-width="2.2"/>
<circle cx="1010.1" cy="370.7" r="3.75" fill="#e6757c" stroke="#3d98d0" stroke-width="2.2"/>
<circle cx="345.6" cy="850.7" r="3.75" fill="#8a8478" stroke="#3d98d0" stroke-width="2.2"/>
<circle cx="357.9" cy="850.7" r="3.75" fill="#e6757c" stroke="#3d98d0" stroke-width="2.2"/>
<circle cx="357.9" cy="875.3" r="3.75" fill="#e6757c" stroke="#3d98d0" stroke-width="2.2"/>
<circle cx="1194.7" cy="838.4" r="3.75" fill="#e6757c" stroke="#3d98d0" stroke-width="2.2"/>
<circle cx="148.7" cy="223.0" r="3.75" fill="#8a8478" stroke="#dfe343" stroke-width="2.2"/>
<circle cx="161.0" cy="223.0" r="3.65" fill="#344a61" stroke="#dfe343" stroke-width="2.5"/>
<circle cx="161.0" cy="358.4" r="3.65" fill="#344a61" stroke="#dfe343" stroke-width="2.5"/>
<circle cx="407.1" cy="358.4" r="3.65" fill="#344a61" stroke="#dfe343" stroke-width="2.5"/>
<circle cx="407.1" cy="850.7" r="3.65" fill="#344a61" stroke="#dfe343" stroke-width="2.5"/>
<circle cx="247.1" cy="186.1" r="3.75" fill="#e6757c" stroke="#dfe343" stroke-width="2.2"/>
<circle cx="197.9" cy="186.1" r="3.65" fill="#344a61" stroke="#dfe343" stroke-width="2.5"/>
<circle cx="197.9" cy="358.4" r="3.65" fill="#344a61" stroke="#dfe343" stroke-width="2.5"/>
<circle cx="382.5" cy="850.7" r="3.75" fill="#8a8478" stroke="#dfe343" stroke-width="2.2"/>
<circle cx="1268.6" cy="850.7" r="3.65" fill="#344a61" stroke="#dfe343" stroke-width="2.5"/>
<circle cx="1268.6" cy="727.6" r="3.65" fill="#344a61" stroke="#dfe343" stroke-width="2.5"/>
<circle cx="997.8" cy="727.6" r="3.65" fill="#344a61" stroke="#dfe343" stroke-width="2.5"/>
<circle cx="997.8" cy="432.2" r="3.65" fill="#344a61" stroke="#dfe343" stroke-width="2.5"/>
<circle cx="948.6" cy="432.2" r="3.65" fill="#344a61" stroke="#dfe343" stroke-width="2.5"/>
<circle cx="948.6" cy="333.8" r="3.65" fill="#344a61" stroke="#dfe343" stroke-width="2.5"/>
<circle cx="973.2" cy="333.8" r="3.75" fill="#e6757c" stroke="#dfe343" stroke-width="2.2"/>
<circle cx="936.3" cy="432.2" r="3.75" fill="#e0405e" stroke="#dfe343" stroke-width="2.2"/>
<circle cx="1219.4" cy="801.4" r="3.75" fill="#8a8478" stroke="#dfe343" stroke-width="2.2"/>
<circle cx="1268.6" cy="801.4" r="3.65" fill="#344a61" stroke="#dfe343" stroke-width="2.5"/>
<circle cx="148.7" cy="259.9" r="3.75" fill="#8a8478" stroke="#93e243" stroke-width="2.2"/>
<circle cx="148.7" cy="346.1" r="3.65" fill="#344a61" stroke="#93e243" stroke-width="2.5"/>
<circle cx="419.4" cy="346.1" r="3.65" fill="#344a61" stroke="#93e243" stroke-width="2.5"/>
<circle cx="419.4" cy="863.0" r="3.65" fill="#344a61" stroke="#93e243" stroke-width="2.5"/>
<circle cx="210.2" cy="346.1" r="3.65" fill="#344a61" stroke="#93e243" stroke-width="2.5"/>
<circle cx="210.2" cy="210.7" r="3.65" fill="#344a61" stroke="#93e243" stroke-width="2.5"/>
<circle cx="234.8" cy="210.7" r="3.65" fill="#344a61" stroke="#93e243" stroke-width="2.5"/>
<circle cx="234.8" cy="198.4" r="3.65" fill="#344a61" stroke="#93e243" stroke-width="2.5"/>
<circle cx="247.1" cy="198.4" r="3.75" fill="#e6757c" stroke="#93e243" stroke-width="2.2"/>
<circle cx="382.5" cy="875.3" r="3.75" fill="#8a8478" stroke="#93e243" stroke-width="2.2"/>
<circle cx="1280.9" cy="863.0" r="3.65" fill="#344a61" stroke="#93e243" stroke-width="2.5"/>
<circle cx="1280.9" cy="764.5" r="3.65" fill="#344a61" stroke="#93e243" stroke-width="2.5"/>
<circle cx="1010.1" cy="764.5" r="3.65" fill="#344a61" stroke="#93e243" stroke-width="2.5"/>
<circle cx="1010.1" cy="407.6" r="3.65" fill="#344a61" stroke="#93e243" stroke-width="2.5"/>
<circle cx="960.9" cy="407.6" r="3.65" fill="#344a61" stroke="#93e243" stroke-width="2.5"/>
<circle cx="960.9" cy="370.7" r="3.65" fill="#344a61" stroke="#93e243" stroke-width="2.5"/>
<circle cx="973.2" cy="370.7" r="3.75" fill="#e6757c" stroke="#93e243" stroke-width="2.2"/>
<circle cx="1219.4" cy="838.4" r="3.75" fill="#8a8478" stroke="#93e243" stroke-width="2.2"/>
<circle cx="1280.9" cy="838.4" r="3.65" fill="#344a61" stroke="#93e243" stroke-width="2.5"/>
<circle cx="333.3" cy="370.7" r="3.75" fill="#2c8a38" stroke="#93e243" stroke-width="2.2"/>
<circle cx="394.8" cy="370.7" r="3.65" fill="#344a61" stroke="#93e243" stroke-width="2.5"/>
<circle cx="394.8" cy="296.8" r="3.65" fill="#344a61" stroke="#93e243" stroke-width="2.5"/>
<circle cx="480.9" cy="296.8" r="3.75" fill="#2c8a38" stroke="#93e243" stroke-width="2.2"/>
<circle cx="480.9" cy="235.3" r="3.65" fill="#344a61" stroke="#93e243" stroke-width="2.5"/>
<circle cx="850.2" cy="235.3" r="3.65" fill="#344a61" stroke="#93e243" stroke-width="2.5"/>
<circle cx="776.3" cy="75.3" r="3.75" fill="#1f5a33" stroke="#3dcc41" stroke-width="2.2"/>
<circle cx="850.2" cy="75.3" r="3.65" fill="#344a61" stroke="#3dcc41" stroke-width="2.5"/>
<circle cx="1391.7" cy="518.4" r="3.75" fill="#a82c48" stroke="#3dcc41" stroke-width="2.2"/>
<circle cx="1404.0" cy="518.4" r="3.65" fill="#344a61" stroke="#3dcc41" stroke-width="2.5"/>
<circle cx="1404.0" cy="715.3" r="3.65" fill="#344a61" stroke="#3dcc41" stroke-width="2.5"/>
<circle cx="1182.4" cy="715.3" r="3.65" fill="#344a61" stroke="#3dcc41" stroke-width="2.5"/>
<circle cx="1182.4" cy="801.4" r="3.65" fill="#344a61" stroke="#3dcc41" stroke-width="2.5"/>
<circle cx="1194.7" cy="801.4" r="3.75" fill="#e6757c" stroke="#3dcc41" stroke-width="2.2"/>
<circle cx="776.3" cy="63.0" r="3.75" fill="#1f5a33" stroke="#48e29c" stroke-width="2.2"/>
<circle cx="850.2" cy="63.0" r="3.65" fill="#344a61" stroke="#48e29c" stroke-width="2.5"/>
<circle cx="899.4" cy="63.0" r="3.65" fill="#344a61" stroke="#48e29c" stroke-width="2.5"/>
<circle cx="899.4" cy="259.9" r="3.65" fill="#344a61" stroke="#48e29c" stroke-width="2.5"/>
<circle cx="899.4" cy="383.0" r="3.65" fill="#344a61" stroke="#48e29c" stroke-width="2.5"/>
<circle cx="973.2" cy="383.0" r="3.75" fill="#2c8a38" stroke="#48e29c" stroke-width="2.2"/>
<circle cx="788.6" cy="259.9" r="3.65" fill="#344a61" stroke="#48e29c" stroke-width="2.5"/>
<circle cx="788.6" cy="272.2" r="3.65" fill="#344a61" stroke="#48e29c" stroke-width="2.5"/>
<circle cx="665.5" cy="272.2" r="3.65" fill="#344a61" stroke="#48e29c" stroke-width="2.5"/>
<circle cx="665.5" cy="284.5" r="3.65" fill="#344a61" stroke="#48e29c" stroke-width="2.5"/>
<circle cx="604.0" cy="284.5" r="3.65" fill="#344a61" stroke="#48e29c" stroke-width="2.5"/>
<circle cx="604.0" cy="296.8" r="3.75" fill="#2c8a38" stroke="#48e29c" stroke-width="2.2"/>
<circle cx="776.3" cy="50.7" r="3.75" fill="#a82c48" stroke="#ffffff" stroke-width="2.2"/>
<circle cx="850.2" cy="50.7" r="3.65" fill="#344a61" stroke="#ffffff" stroke-width="2.5"/>
<circle cx="911.7" cy="50.7" r="3.65" fill="#344a61" stroke="#ffffff" stroke-width="2.5"/>
<circle cx="911.7" cy="284.5" r="3.65" fill="#344a61" stroke="#ffffff" stroke-width="2.5"/>
<circle cx="911.7" cy="346.1" r="3.65" fill="#344a61" stroke="#ffffff" stroke-width="2.5"/>
<circle cx="973.2" cy="346.1" r="3.75" fill="#e6757c" stroke="#ffffff" stroke-width="2.2"/>
<circle cx="727.1" cy="284.5" r="3.65" fill="#344a61" stroke="#ffffff" stroke-width="2.5"/>
<circle cx="727.1" cy="296.8" r="3.75" fill="#e6757c" stroke="#ffffff" stroke-width="2.2"/>
<circle cx="887.1" cy="776.8" r="3.75" fill="#e0405e" stroke="#5a58e8" stroke-width="2.2"/>
<circle cx="1047.1" cy="776.8" r="3.65" fill="#344a61" stroke="#5a58e8" stroke-width="2.5"/>
<circle cx="1047.1" cy="543.0" r="3.65" fill="#344a61" stroke="#5a58e8" stroke-width="2.5"/>
<circle cx="1071.7" cy="543.0" r="3.75" fill="#e0405e" stroke="#5a58e8" stroke-width="2.2"/>
<circle cx="936.3" cy="469.1" r="3.75" fill="#8a8478" stroke="#93e243" stroke-width="2.2"/>
<circle cx="1010.1" cy="469.1" r="3.65" fill="#344a61" stroke="#93e243" stroke-width="2.5"/>
<circle cx="887.1" cy="469.1" r="3.75" fill="#e0405e" stroke="#3d98d0" stroke-width="2.2"/>
<circle cx="911.7" cy="469.1" r="3.75" fill="#e6757c" stroke="#3d98d0" stroke-width="2.2"/>
<circle cx="911.7" cy="432.2" r="3.75" fill="#e6757c" stroke="#3d98d0" stroke-width="2.2"/>
<circle cx="850.2" cy="481.5" r="3.65" fill="#344a61" stroke="#3d98d0" stroke-width="2.5"/>
<circle cx="862.5" cy="481.5" r="3.75" fill="#e09a40" stroke="#3d98d0" stroke-width="2.2"/>
<circle cx="936.3" cy="506.1" r="3.75" fill="#8a8478" stroke="#dfe343" stroke-width="2.2"/>
<circle cx="997.8" cy="506.1" r="3.65" fill="#344a61" stroke="#dfe343" stroke-width="2.5"/>
<circle cx="936.3" cy="543.0" r="3.75" fill="#8a8478" stroke="#93e243" stroke-width="2.2"/>
<circle cx="1010.1" cy="543.0" r="3.65" fill="#344a61" stroke="#93e243" stroke-width="2.5"/>
<circle cx="887.1" cy="543.0" r="3.75" fill="#8a8478" stroke="#3d98d0" stroke-width="2.2"/>
<circle cx="911.7" cy="543.0" r="3.75" fill="#e6757c" stroke="#3d98d0" stroke-width="2.2"/>
<circle cx="911.7" cy="506.1" r="3.75" fill="#e6757c" stroke="#3d98d0" stroke-width="2.2"/>
<circle cx="850.2" cy="555.3" r="3.65" fill="#344a61" stroke="#3d98d0" stroke-width="2.5"/>
<circle cx="862.5" cy="555.3" r="3.75" fill="#e09a40" stroke="#3d98d0" stroke-width="2.2"/>
<circle cx="936.3" cy="579.9" r="3.75" fill="#8a8478" stroke="#dfe343" stroke-width="2.2"/>
<circle cx="997.8" cy="579.9" r="3.65" fill="#344a61" stroke="#dfe343" stroke-width="2.5"/>
<circle cx="936.3" cy="616.8" r="3.75" fill="#8a8478" stroke="#93e243" stroke-width="2.2"/>
<circle cx="1010.1" cy="616.8" r="3.65" fill="#344a61" stroke="#93e243" stroke-width="2.5"/>
<circle cx="887.1" cy="616.8" r="3.75" fill="#8a8478" stroke="#3d98d0" stroke-width="2.2"/>
<circle cx="911.7" cy="616.8" r="3.75" fill="#e6757c" stroke="#3d98d0" stroke-width="2.2"/>
<circle cx="911.7" cy="579.9" r="3.75" fill="#e6757c" stroke="#3d98d0" stroke-width="2.2"/>
<circle cx="850.2" cy="629.1" r="3.65" fill="#344a61" stroke="#3d98d0" stroke-width="2.5"/>
<circle cx="862.5" cy="629.1" r="3.75" fill="#e09a40" stroke="#3d98d0" stroke-width="2.2"/>
<circle cx="936.3" cy="653.8" r="3.75" fill="#8a8478" stroke="#dfe343" stroke-width="2.2"/>
<circle cx="997.8" cy="653.8" r="3.65" fill="#344a61" stroke="#dfe343" stroke-width="2.5"/>
<circle cx="936.3" cy="690.7" r="3.75" fill="#8a8478" stroke="#93e243" stroke-width="2.2"/>
<circle cx="1010.1" cy="690.7" r="3.65" fill="#344a61" stroke="#93e243" stroke-width="2.5"/>
<circle cx="887.1" cy="690.7" r="3.75" fill="#8a8478" stroke="#3d98d0" stroke-width="2.2"/>
<circle cx="911.7" cy="690.7" r="3.75" fill="#e6757c" stroke="#3d98d0" stroke-width="2.2"/>
<circle cx="911.7" cy="653.8" r="3.75" fill="#e6757c" stroke="#3d98d0" stroke-width="2.2"/>
<circle cx="850.2" cy="703.0" r="3.65" fill="#344a61" stroke="#3d98d0" stroke-width="2.5"/>
<circle cx="862.5" cy="703.0" r="3.75" fill="#e09a40" stroke="#3d98d0" stroke-width="2.2"/>
<circle cx="936.3" cy="727.6" r="3.75" fill="#8a8478" stroke="#dfe343" stroke-width="2.2"/>
<circle cx="997.8" cy="727.6" r="3.65" fill="#344a61" stroke="#dfe343" stroke-width="2.5"/>
<circle cx="936.3" cy="764.5" r="3.75" fill="#8a8478" stroke="#93e243" stroke-width="2.2"/>
<circle cx="1010.1" cy="764.5" r="3.65" fill="#344a61" stroke="#93e243" stroke-width="2.5"/>
<circle cx="887.1" cy="764.5" r="3.75" fill="#8a8478" stroke="#3d98d0" stroke-width="2.2"/>
<circle cx="911.7" cy="764.5" r="3.75" fill="#e6757c" stroke="#3d98d0" stroke-width="2.2"/>
<circle cx="911.7" cy="727.6" r="3.75" fill="#e6757c" stroke="#3d98d0" stroke-width="2.2"/>
<circle cx="850.2" cy="776.8" r="3.65" fill="#344a61" stroke="#3d98d0" stroke-width="2.5"/>
<circle cx="862.5" cy="776.8" r="3.75" fill="#e09a40" stroke="#3d98d0" stroke-width="2.2"/>
<circle cx="247.1" cy="173.8" r="3.75" fill="#e6757c" stroke="#808080" stroke-width="2.2"/>
<circle cx="247.1" cy="161.5" r="3.65" fill="#344a61" stroke="#808080" stroke-width="2.5"/>
<circle cx="308.6" cy="161.5" r="3.65" fill="#344a61" stroke="#808080" stroke-width="2.5"/>
<circle cx="357.9" cy="161.5" r="3.65" fill="#344a61" stroke="#808080" stroke-width="2.5"/>
<circle cx="357.9" cy="149.2" r="3.65" fill="#344a61" stroke="#808080" stroke-width="2.5"/>
<circle cx="370.2" cy="149.2" r="3.75" fill="#e6757c" stroke="#808080" stroke-width="2.2"/>
<circle cx="296.3" cy="223.0" r="3.75" fill="#e6757c" stroke="#808080" stroke-width="2.2"/>
<circle cx="357.9" cy="247.6" r="3.65" fill="#344a61" stroke="#808080" stroke-width="2.5"/>
<circle cx="1022.5" cy="247.6" r="3.65" fill="#344a61" stroke="#808080" stroke-width="2.5"/>
<circle cx="1022.5" cy="346.1" r="3.75" fill="#e6757c" stroke="#808080" stroke-width="2.2"/>
<circle cx="776.3" cy="38.4" r="3.75" fill="#a82c48" stroke="#808080" stroke-width="2.2"/>
<circle cx="850.2" cy="38.4" r="3.65" fill="#344a61" stroke="#808080" stroke-width="2.5"/>
<circle cx="924.0" cy="38.4" r="3.65" fill="#344a61" stroke="#808080" stroke-width="2.5"/>
<circle cx="924.0" cy="247.6" r="3.65" fill="#344a61" stroke="#808080" stroke-width="2.5"/>
<circle cx="296.3" cy="247.6" r="3.75" fill="#e0405e" stroke="#3aa6a0" stroke-width="2.2"/>
<circle cx="284.0" cy="370.7" r="3.75" fill="#e6757c" stroke="#3aa6a0" stroke-width="2.2"/>
<circle cx="259.4" cy="198.4" r="3.65" fill="#344a61" stroke="#e49b3d" stroke-width="2.5"/>
<circle cx="284.0" cy="198.4" r="3.75" fill="#b0963c" stroke="#e49b3d" stroke-width="2.2"/>
<circle cx="259.4" cy="321.5" r="3.65" fill="#344a61" stroke="#e49b3d" stroke-width="2.5"/>
<circle cx="74.8" cy="284.5" r="3.75" fill="#e6757c" stroke="#e49b3d" stroke-width="2.2"/>
<circle cx="74.8" cy="321.5" r="3.65" fill="#344a61" stroke="#e49b3d" stroke-width="2.5"/>
<circle cx="345.6" cy="321.5" r="3.75" fill="#e6757c" stroke="#e49b3d" stroke-width="2.2"/>
<circle cx="87.1" cy="284.5" r="3.75" fill="#e6757c" stroke="#e49b3d" stroke-width="2.2"/>
<circle cx="87.1" cy="296.8" r="3.65" fill="#344a61" stroke="#e49b3d" stroke-width="2.5"/>
<circle cx="333.3" cy="296.8" r="3.75" fill="#e0405e" stroke="#e49b3d" stroke-width="2.2"/>
<circle cx="345.6" cy="296.8" r="3.75" fill="#e6757c" stroke="#e49b3d" stroke-width="2.2"/>
<circle cx="308.6" cy="235.3" r="3.75" fill="#e0405e" stroke="#e49b3d" stroke-width="2.2"/>
<circle cx="345.6" cy="235.3" r="3.65" fill="#344a61" stroke="#e49b3d" stroke-width="2.5"/>
<circle cx="345.6" cy="259.9" r="3.75" fill="#e6757c" stroke="#e49b3d" stroke-width="2.2"/>
<circle cx="308.6" cy="247.6" r="3.75" fill="#e0405e" stroke="#e49b3d" stroke-width="2.2"/>
<circle cx="308.6" cy="259.9" r="3.65" fill="#344a61" stroke="#e49b3d" stroke-width="2.5"/>
<circle cx="321.0" cy="259.9" r="3.75" fill="#e6757c" stroke="#e49b3d" stroke-width="2.2"/>
<circle cx="308.6" cy="370.7" r="3.65" fill="#344a61" stroke="#e49b3d" stroke-width="2.5"/>
<circle cx="296.3" cy="370.7" r="3.65" fill="#344a61" stroke="#e49b3d" stroke-width="2.5"/>
<circle cx="296.3" cy="395.3" r="3.65" fill="#344a61" stroke="#e49b3d" stroke-width="2.5"/>
<circle cx="284.0" cy="395.3" r="3.75" fill="#e6757c" stroke="#e49b3d" stroke-width="2.2"/>
<circle cx="382.5" cy="309.2" r="3.75" fill="#e0405e" stroke="#e49b3d" stroke-width="2.2"/>
<circle cx="382.5" cy="395.3" r="3.65" fill="#344a61" stroke="#e49b3d" stroke-width="2.5"/>
<circle cx="333.3" cy="395.3" r="3.75" fill="#e6757c" stroke="#e49b3d" stroke-width="2.2"/>
<circle cx="333.3" cy="863.0" r="3.75" fill="#2c8a38" stroke="#e49b3d" stroke-width="2.2"/>
<circle cx="345.6" cy="899.9" r="3.75" fill="#2c8a38" stroke="#e49b3d" stroke-width="2.2"/>
<circle cx="74.8" cy="210.7" r="3.75" fill="#e09a40" stroke="#e36c4b" stroke-width="2.2"/>
<circle cx="74.8" cy="198.4" r="3.65" fill="#344a61" stroke="#e36c4b" stroke-width="2.5"/>
<circle cx="111.7" cy="198.4" r="3.65" fill="#344a61" stroke="#e36c4b" stroke-width="2.5"/>
<circle cx="111.7" cy="247.6" r="3.65" fill="#344a61" stroke="#e36c4b" stroke-width="2.5"/>
<circle cx="87.1" cy="247.6" r="3.75" fill="#e0405e" stroke="#e36c4b" stroke-width="2.2"/>
<circle cx="99.4" cy="284.5" r="3.75" fill="#e6757c" stroke="#e36c4b" stroke-width="2.2"/>
<circle cx="99.4" cy="407.6" r="3.65" fill="#344a61" stroke="#e36c4b" stroke-width="2.5"/>
<circle cx="444.0" cy="407.6" r="3.65" fill="#344a61" stroke="#e36c4b" stroke-width="2.5"/>
<circle cx="444.0" cy="370.7" r="3.75" fill="#e0405e" stroke="#e36c4b" stroke-width="2.2"/>
<circle cx="431.7" cy="370.7" r="3.75" fill="#e0405e" stroke="#e36c4b" stroke-width="2.2"/>
<circle cx="431.7" cy="887.6" r="3.65" fill="#344a61" stroke="#e36c4b" stroke-width="2.5"/>
<circle cx="1305.5" cy="887.6" r="3.75" fill="#e6757c" stroke="#e36c4b" stroke-width="2.2"/>
<circle cx="456.3" cy="370.7" r="3.75" fill="#e0405e" stroke="#e36c4b" stroke-width="2.2"/>
<circle cx="456.3" cy="838.4" r="3.65" fill="#344a61" stroke="#e36c4b" stroke-width="2.5"/>
<circle cx="1034.8" cy="838.4" r="3.65" fill="#344a61" stroke="#e36c4b" stroke-width="2.5"/>
<circle cx="1034.8" cy="530.7" r="3.65" fill="#344a61" stroke="#e36c4b" stroke-width="2.5"/>
<circle cx="1071.7" cy="530.7" r="3.75" fill="#e09a40" stroke="#e36c4b" stroke-width="2.2"/>
<circle cx="825.5" cy="801.4" r="3.75" fill="#8a8478" stroke="#e49b3d" stroke-width="2.2"/>
<circle cx="825.5" cy="826.0" r="3.75" fill="#8a8478" stroke="#e49b3d" stroke-width="2.2"/>
<circle cx="1022.5" cy="826.0" r="3.65" fill="#344a61" stroke="#e49b3d" stroke-width="2.5"/>
<circle cx="1022.5" cy="518.4" r="3.65" fill="#344a61" stroke="#e49b3d" stroke-width="2.5"/>
<circle cx="1071.7" cy="518.4" r="3.75" fill="#e6757c" stroke="#e49b3d" stroke-width="2.2"/>
<circle cx="394.8" cy="161.5" r="3.75" fill="#e0405e" stroke="#45d8e6" stroke-width="2.2"/>
<circle cx="407.1" cy="149.2" r="3.75" fill="#e6757c" stroke="#45d8e6" stroke-width="2.2"/>
<circle cx="394.8" cy="173.8" r="3.75" fill="#e0405e" stroke="#45d8e6" stroke-width="2.2"/>
<circle cx="407.1" cy="173.8" r="3.75" fill="#e6757c" stroke="#45d8e6" stroke-width="2.2"/>
<circle cx="394.8" cy="186.1" r="3.75" fill="#e0405e" stroke="#45d8e6" stroke-width="2.2"/>
<circle cx="419.4" cy="186.1" r="3.65" fill="#344a61" stroke="#45d8e6" stroke-width="2.5"/>
<circle cx="419.4" cy="272.2" r="3.65" fill="#344a61" stroke="#45d8e6" stroke-width="2.5"/>
<circle cx="653.2" cy="272.2" r="3.65" fill="#344a61" stroke="#45d8e6" stroke-width="2.5"/>
<circle cx="653.2" cy="333.8" r="3.65" fill="#344a61" stroke="#45d8e6" stroke-width="2.5"/>
<circle cx="887.1" cy="333.8" r="3.65" fill="#344a61" stroke="#45d8e6" stroke-width="2.5"/>
<circle cx="887.1" cy="358.4" r="3.65" fill="#344a61" stroke="#45d8e6" stroke-width="2.5"/>
<circle cx="973.2" cy="358.4" r="3.75" fill="#e6757c" stroke="#45d8e6" stroke-width="2.2"/>
<circle cx="653.2" cy="358.4" r="3.75" fill="#e6757c" stroke="#45d8e6" stroke-width="2.2"/>
<circle cx="394.8" cy="198.4" r="3.75" fill="#e0405e" stroke="#45d8e6" stroke-width="2.2"/>
<circle cx="407.1" cy="198.4" r="3.65" fill="#344a61" stroke="#45d8e6" stroke-width="2.5"/>
<circle cx="407.1" cy="259.9" r="3.65" fill="#344a61" stroke="#45d8e6" stroke-width="2.5"/>
<circle cx="776.3" cy="259.9" r="3.65" fill="#344a61" stroke="#45d8e6" stroke-width="2.5"/>
<circle cx="776.3" cy="321.5" r="3.65" fill="#344a61" stroke="#45d8e6" stroke-width="2.5"/>
<circle cx="973.2" cy="321.5" r="3.75" fill="#e6757c" stroke="#45d8e6" stroke-width="2.2"/>
<circle cx="776.3" cy="358.4" r="3.75" fill="#e6757c" stroke="#45d8e6" stroke-width="2.2"/>
<circle cx="444.0" cy="161.5" r="3.75" fill="#e0405e" stroke="#45d8e6" stroke-width="2.2"/>
<circle cx="444.0" cy="284.5" r="3.65" fill="#344a61" stroke="#45d8e6" stroke-width="2.5"/>
<circle cx="530.2" cy="284.5" r="3.65" fill="#344a61" stroke="#45d8e6" stroke-width="2.5"/>
<circle cx="530.2" cy="358.4" r="3.75" fill="#e6757c" stroke="#45d8e6" stroke-width="2.2"/>
<circle cx="136.3" cy="210.7" r="3.75" fill="#e6757c" stroke="#9746e3" stroke-width="2.2"/>
<circle cx="185.6" cy="210.7" r="3.65" fill="#344a61" stroke="#9746e3" stroke-width="2.5"/>
<circle cx="185.6" cy="432.2" r="3.65" fill="#344a61" stroke="#9746e3" stroke-width="2.5"/>
<circle cx="690.2" cy="432.2" r="3.65" fill="#344a61" stroke="#9746e3" stroke-width="2.5"/>
<circle cx="690.2" cy="370.7" r="3.75" fill="#e0405e" stroke="#9746e3" stroke-width="2.2"/>
<circle cx="136.3" cy="247.6" r="3.75" fill="#e6757c" stroke="#e344cb" stroke-width="2.2"/>
<circle cx="173.3" cy="247.6" r="3.65" fill="#344a61" stroke="#e344cb" stroke-width="2.5"/>
<circle cx="173.3" cy="419.9" r="3.65" fill="#344a61" stroke="#e344cb" stroke-width="2.5"/>
<circle cx="567.1" cy="419.9" r="3.65" fill="#344a61" stroke="#e344cb" stroke-width="2.5"/>
<circle cx="567.1" cy="370.7" r="3.75" fill="#e0405e" stroke="#e344cb" stroke-width="2.2"/>
<circle cx="493.3" cy="321.5" r="3.75" fill="#e0405e" stroke="#e36c4b" stroke-width="2.2"/>
<circle cx="493.3" cy="346.1" r="3.75" fill="#e6757c" stroke="#e36c4b" stroke-width="2.2"/>
<circle cx="505.6" cy="321.5" r="3.75" fill="#e0405e" stroke="#e36c4b" stroke-width="2.2"/>
<circle cx="505.6" cy="346.1" r="3.75" fill="#e6757c" stroke="#e36c4b" stroke-width="2.2"/>
<circle cx="517.9" cy="321.5" r="3.75" fill="#2c8a38" stroke="#e36c4b" stroke-width="2.2"/>
<circle cx="517.9" cy="346.1" r="3.75" fill="#2c8a38" stroke="#e36c4b" stroke-width="2.2"/>
<circle cx="616.3" cy="321.5" r="3.75" fill="#2c8a38" stroke="#e344cb" stroke-width="2.2"/>
<circle cx="616.3" cy="346.1" r="3.75" fill="#2c8a38" stroke="#e344cb" stroke-width="2.2"/>
<circle cx="628.6" cy="321.5" r="3.75" fill="#2c8a38" stroke="#e344cb" stroke-width="2.2"/>
<circle cx="628.6" cy="346.1" r="3.75" fill="#2c8a38" stroke="#e344cb" stroke-width="2.2"/>
<circle cx="640.9" cy="321.5" r="3.75" fill="#2c8a38" stroke="#e344cb" stroke-width="2.2"/>
<circle cx="640.9" cy="346.1" r="3.75" fill="#2c8a38" stroke="#e344cb" stroke-width="2.2"/>
<circle cx="739.4" cy="321.5" r="3.75" fill="#e0405e" stroke="#9746e3" stroke-width="2.2"/>
<circle cx="739.4" cy="346.1" r="3.75" fill="#e6757c" stroke="#9746e3" stroke-width="2.2"/>
<circle cx="751.7" cy="321.5" r="3.75" fill="#e0405e" stroke="#9746e3" stroke-width="2.2"/>
<circle cx="751.7" cy="346.1" r="3.75" fill="#e6757c" stroke="#9746e3" stroke-width="2.2"/>
<circle cx="764.0" cy="321.5" r="3.75" fill="#e0405e" stroke="#9746e3" stroke-width="2.2"/>
<circle cx="764.0" cy="346.1" r="3.75" fill="#e6757c" stroke="#9746e3" stroke-width="2.2"/>
<circle cx="764.0" cy="370.7" r="3.75" fill="#2c8a38" stroke="#9746e3" stroke-width="2.2"/>
<circle cx="764.0" cy="432.2" r="3.65" fill="#344a61" stroke="#9746e3" stroke-width="2.5"/>
<circle cx="788.6" cy="432.2" r="3.65" fill="#344a61" stroke="#9746e3" stroke-width="2.5"/>
<circle cx="800.9" cy="432.2" r="3.75" fill="#2c8a38" stroke="#9746e3" stroke-width="2.2"/>
<circle cx="813.2" cy="419.9" r="3.75" fill="#2c8a38" stroke="#9746e3" stroke-width="2.2"/>
<circle cx="924.0" cy="419.9" r="3.75" fill="#2c8a38" stroke="#9746e3" stroke-width="2.2"/>
<circle cx="640.9" cy="370.7" r="3.75" fill="#e0405e" stroke="#e344cb" stroke-width="2.2"/>
<circle cx="640.9" cy="456.8" r="3.65" fill="#344a61" stroke="#e344cb" stroke-width="2.5"/>
<circle cx="788.6" cy="456.8" r="3.65" fill="#344a61" stroke="#e344cb" stroke-width="2.5"/>
<circle cx="800.9" cy="456.8" r="3.75" fill="#e6757c" stroke="#e344cb" stroke-width="2.2"/>
<circle cx="813.2" cy="444.5" r="3.75" fill="#e6757c" stroke="#e344cb" stroke-width="2.2"/>
<circle cx="924.0" cy="456.8" r="3.75" fill="#e6757c" stroke="#e344cb" stroke-width="2.2"/>
<circle cx="751.7" cy="370.7" r="3.75" fill="#e0405e" stroke="#9746e3" stroke-width="2.2"/>
<circle cx="751.7" cy="506.1" r="3.65" fill="#344a61" stroke="#9746e3" stroke-width="2.5"/>
<circle cx="788.6" cy="506.1" r="3.65" fill="#344a61" stroke="#9746e3" stroke-width="2.5"/>
<circle cx="800.9" cy="506.1" r="3.75" fill="#e6757c" stroke="#9746e3" stroke-width="2.2"/>
<circle cx="813.2" cy="493.8" r="3.75" fill="#e6757c" stroke="#9746e3" stroke-width="2.2"/>
<circle cx="924.0" cy="493.8" r="3.75" fill="#e6757c" stroke="#9746e3" stroke-width="2.2"/>
<circle cx="628.6" cy="370.7" r="3.75" fill="#e0405e" stroke="#e344cb" stroke-width="2.2"/>
<circle cx="628.6" cy="530.7" r="3.65" fill="#344a61" stroke="#e344cb" stroke-width="2.5"/>
<circle cx="788.6" cy="530.7" r="3.65" fill="#344a61" stroke="#e344cb" stroke-width="2.5"/>
<circle cx="800.9" cy="530.7" r="3.75" fill="#e6757c" stroke="#e344cb" stroke-width="2.2"/>
<circle cx="813.2" cy="518.4" r="3.75" fill="#e6757c" stroke="#e344cb" stroke-width="2.2"/>
<circle cx="924.0" cy="530.7" r="3.75" fill="#e6757c" stroke="#e344cb" stroke-width="2.2"/>
<circle cx="739.4" cy="370.7" r="3.75" fill="#e0405e" stroke="#9746e3" stroke-width="2.2"/>
<circle cx="739.4" cy="579.9" r="3.65" fill="#344a61" stroke="#9746e3" stroke-width="2.5"/>
<circle cx="788.6" cy="579.9" r="3.65" fill="#344a61" stroke="#9746e3" stroke-width="2.5"/>
<circle cx="800.9" cy="579.9" r="3.75" fill="#e6757c" stroke="#9746e3" stroke-width="2.2"/>
<circle cx="813.2" cy="567.6" r="3.75" fill="#e6757c" stroke="#9746e3" stroke-width="2.2"/>
<circle cx="924.0" cy="567.6" r="3.75" fill="#e6757c" stroke="#9746e3" stroke-width="2.2"/>
<circle cx="616.3" cy="370.7" r="3.75" fill="#e0405e" stroke="#e344cb" stroke-width="2.2"/>
<circle cx="616.3" cy="604.5" r="3.65" fill="#344a61" stroke="#e344cb" stroke-width="2.5"/>
<circle cx="788.6" cy="604.5" r="3.65" fill="#344a61" stroke="#e344cb" stroke-width="2.5"/>
<circle cx="800.9" cy="604.5" r="3.75" fill="#e6757c" stroke="#e344cb" stroke-width="2.2"/>
<circle cx="813.2" cy="592.2" r="3.75" fill="#e6757c" stroke="#e344cb" stroke-width="2.2"/>
<circle cx="924.0" cy="604.5" r="3.75" fill="#e6757c" stroke="#e344cb" stroke-width="2.2"/>
<circle cx="727.1" cy="370.7" r="3.75" fill="#e0405e" stroke="#9746e3" stroke-width="2.2"/>
<circle cx="727.1" cy="653.8" r="3.65" fill="#344a61" stroke="#9746e3" stroke-width="2.5"/>
<circle cx="788.6" cy="653.8" r="3.65" fill="#344a61" stroke="#9746e3" stroke-width="2.5"/>
<circle cx="800.9" cy="653.8" r="3.75" fill="#e6757c" stroke="#9746e3" stroke-width="2.2"/>
<circle cx="813.2" cy="641.4" r="3.75" fill="#e6757c" stroke="#9746e3" stroke-width="2.2"/>
<circle cx="924.0" cy="641.4" r="3.75" fill="#e6757c" stroke="#9746e3" stroke-width="2.2"/>
<circle cx="604.0" cy="370.7" r="3.75" fill="#e0405e" stroke="#e344cb" stroke-width="2.2"/>
<circle cx="604.0" cy="678.4" r="3.65" fill="#344a61" stroke="#e344cb" stroke-width="2.5"/>
<circle cx="788.6" cy="678.4" r="3.65" fill="#344a61" stroke="#e344cb" stroke-width="2.5"/>
<circle cx="800.9" cy="678.4" r="3.75" fill="#e6757c" stroke="#e344cb" stroke-width="2.2"/>
<circle cx="813.2" cy="666.1" r="3.75" fill="#e6757c" stroke="#e344cb" stroke-width="2.2"/>
<circle cx="924.0" cy="678.4" r="3.75" fill="#e6757c" stroke="#e344cb" stroke-width="2.2"/>
<circle cx="714.8" cy="370.7" r="3.75" fill="#e0405e" stroke="#9746e3" stroke-width="2.2"/>
<circle cx="714.8" cy="727.6" r="3.65" fill="#344a61" stroke="#9746e3" stroke-width="2.5"/>
<circle cx="788.6" cy="727.6" r="3.65" fill="#344a61" stroke="#9746e3" stroke-width="2.5"/>
<circle cx="800.9" cy="727.6" r="3.75" fill="#e6757c" stroke="#9746e3" stroke-width="2.2"/>
<circle cx="813.2" cy="715.3" r="3.75" fill="#e6757c" stroke="#9746e3" stroke-width="2.2"/>
<circle cx="924.0" cy="715.3" r="3.75" fill="#e6757c" stroke="#9746e3" stroke-width="2.2"/>
<circle cx="591.7" cy="370.7" r="3.75" fill="#e0405e" stroke="#e344cb" stroke-width="2.2"/>
<circle cx="591.7" cy="752.2" r="3.65" fill="#344a61" stroke="#e344cb" stroke-width="2.5"/>
<circle cx="788.6" cy="752.2" r="3.65" fill="#344a61" stroke="#e344cb" stroke-width="2.5"/>
<circle cx="800.9" cy="752.2" r="3.75" fill="#e6757c" stroke="#e344cb" stroke-width="2.2"/>
<circle cx="813.2" cy="739.9" r="3.75" fill="#e6757c" stroke="#e344cb" stroke-width="2.2"/>
<circle cx="924.0" cy="752.2" r="3.75" fill="#e6757c" stroke="#e344cb" stroke-width="2.2"/>
<circle cx="517.9" cy="370.7" r="3.75" fill="#e0405e" stroke="#e36c4b" stroke-width="2.2"/>
<circle cx="517.9" cy="469.1" r="3.65" fill="#344a61" stroke="#e36c4b" stroke-width="2.5"/>
<circle cx="862.5" cy="469.1" r="3.75" fill="#e09a40" stroke="#e36c4b" stroke-width="2.2"/>
<circle cx="825.5" cy="432.2" r="3.75" fill="#2c8a38" stroke="#e49b3d" stroke-width="2.2"/>
<circle cx="825.5" cy="456.8" r="3.75" fill="#8a8478" stroke="#e49b3d" stroke-width="2.2"/>
<circle cx="862.5" cy="456.8" r="3.75" fill="#2c8a38" stroke="#e49b3d" stroke-width="2.2"/>
<circle cx="505.6" cy="370.7" r="3.75" fill="#2c8a38" stroke="#e36c4b" stroke-width="2.2"/>
<circle cx="505.6" cy="543.0" r="3.65" fill="#344a61" stroke="#e36c4b" stroke-width="2.5"/>
<circle cx="862.5" cy="543.0" r="3.75" fill="#e09a40" stroke="#e36c4b" stroke-width="2.2"/>
<circle cx="825.5" cy="506.1" r="3.75" fill="#8a8478" stroke="#e49b3d" stroke-width="2.2"/>
<circle cx="825.5" cy="530.7" r="3.75" fill="#8a8478" stroke="#e49b3d" stroke-width="2.2"/>
<circle cx="862.5" cy="530.7" r="3.75" fill="#e6757c" stroke="#e49b3d" stroke-width="2.2"/>
<circle cx="493.3" cy="370.7" r="3.75" fill="#e0405e" stroke="#e36c4b" stroke-width="2.2"/>
<circle cx="493.3" cy="616.8" r="3.65" fill="#344a61" stroke="#e36c4b" stroke-width="2.5"/>
<circle cx="862.5" cy="616.8" r="3.75" fill="#e09a40" stroke="#e36c4b" stroke-width="2.2"/>
<circle cx="825.5" cy="579.9" r="3.75" fill="#8a8478" stroke="#e49b3d" stroke-width="2.2"/>
<circle cx="825.5" cy="604.5" r="3.75" fill="#8a8478" stroke="#e49b3d" stroke-width="2.2"/>
<circle cx="862.5" cy="604.5" r="3.75" fill="#e6757c" stroke="#e49b3d" stroke-width="2.2"/>
<circle cx="480.9" cy="370.7" r="3.75" fill="#e0405e" stroke="#e36c4b" stroke-width="2.2"/>
<circle cx="480.9" cy="690.7" r="3.65" fill="#344a61" stroke="#e36c4b" stroke-width="2.5"/>
<circle cx="862.5" cy="690.7" r="3.75" fill="#e09a40" stroke="#e36c4b" stroke-width="2.2"/>
<circle cx="825.5" cy="653.8" r="3.75" fill="#8a8478" stroke="#e49b3d" stroke-width="2.2"/>
<circle cx="825.5" cy="678.4" r="3.75" fill="#8a8478" stroke="#e49b3d" stroke-width="2.2"/>
<circle cx="862.5" cy="678.4" r="3.75" fill="#e6757c" stroke="#e49b3d" stroke-width="2.2"/>
<circle cx="468.6" cy="370.7" r="3.75" fill="#e0405e" stroke="#e36c4b" stroke-width="2.2"/>
<circle cx="468.6" cy="764.5" r="3.65" fill="#344a61" stroke="#e36c4b" stroke-width="2.5"/>
<circle cx="862.5" cy="764.5" r="3.75" fill="#e09a40" stroke="#e36c4b" stroke-width="2.2"/>
<circle cx="825.5" cy="727.6" r="3.75" fill="#8a8478" stroke="#e49b3d" stroke-width="2.2"/>
<circle cx="825.5" cy="752.2" r="3.75" fill="#8a8478" stroke="#e49b3d" stroke-width="2.2"/>
<circle cx="862.5" cy="752.2" r="3.75" fill="#e6757c" stroke="#e49b3d" stroke-width="2.2"/>
<circle cx="468.6" cy="727.6" r="3.65" fill="#344a61" stroke="#e36c4b" stroke-width="2.5"/>
<circle cx="702.5" cy="370.7" r="3.75" fill="#e0405e" stroke="#9746e3" stroke-width="2.2"/>
<circle cx="702.5" cy="801.4" r="3.65" fill="#344a61" stroke="#9746e3" stroke-width="2.5"/>
<circle cx="788.6" cy="801.4" r="3.65" fill="#344a61" stroke="#9746e3" stroke-width="2.5"/>
<circle cx="800.9" cy="801.4" r="3.75" fill="#e6757c" stroke="#9746e3" stroke-width="2.2"/>
<circle cx="813.2" cy="789.1" r="3.75" fill="#e6757c" stroke="#9746e3" stroke-width="2.2"/>
<circle cx="1207.1" cy="789.1" r="3.75" fill="#e6757c" stroke="#9746e3" stroke-width="2.2"/>
<circle cx="579.4" cy="370.7" r="3.75" fill="#e0405e" stroke="#e344cb" stroke-width="2.2"/>
<circle cx="579.4" cy="826.0" r="3.65" fill="#344a61" stroke="#e344cb" stroke-width="2.5"/>
<circle cx="788.6" cy="826.0" r="3.65" fill="#344a61" stroke="#e344cb" stroke-width="2.5"/>
<circle cx="800.9" cy="826.0" r="3.75" fill="#e6757c" stroke="#e344cb" stroke-width="2.2"/>
<circle cx="813.2" cy="813.7" r="3.75" fill="#e6757c" stroke="#e344cb" stroke-width="2.2"/>
<circle cx="1207.1" cy="813.7" r="3.65" fill="#344a61" stroke="#e344cb" stroke-width="2.5"/>
<circle cx="1207.1" cy="826.0" r="3.75" fill="#e6757c" stroke="#e344cb" stroke-width="2.2"/>
<circle cx="370.2" cy="838.4" r="3.75" fill="#e6757c" stroke="#9746e3" stroke-width="2.2"/>
<circle cx="407.1" cy="899.9" r="3.65" fill="#344a61" stroke="#9746e3" stroke-width="2.5"/>
<circle cx="677.9" cy="899.9" r="3.65" fill="#344a61" stroke="#9746e3" stroke-width="2.5"/>
<circle cx="677.9" cy="370.7" r="3.75" fill="#e0405e" stroke="#9746e3" stroke-width="2.2"/>
<circle cx="382.5" cy="887.6" r="3.75" fill="#e6757c" stroke="#9746e3" stroke-width="2.2"/>
<circle cx="370.2" cy="863.0" r="3.75" fill="#e6757c" stroke="#e344cb" stroke-width="2.2"/>
<circle cx="394.8" cy="912.2" r="3.65" fill="#344a61" stroke="#e344cb" stroke-width="2.5"/>
<circle cx="554.8" cy="912.2" r="3.65" fill="#344a61" stroke="#e344cb" stroke-width="2.5"/>
<circle cx="554.8" cy="370.7" r="3.75" fill="#2c8a38" stroke="#e344cb" stroke-width="2.2"/>
<circle cx="382.5" cy="912.2" r="3.75" fill="#2c8a38" stroke="#e344cb" stroke-width="2.2"/>
<polygon points="129.8,213.0 146.9,214.4 146.9,226.8 123.9,234.0" fill="#1d5b94" stroke="#1b409a" stroke-width="0.8" stroke-linejoin="round" /><text x="137.2" y="226.7" font-family="Liberation Sans" font-size="10.5" font-weight="bold" fill="#fff" text-anchor="middle" textLength="19.6" lengthAdjust="spacingAndGlyphs">SWC</text><circle cx="148.7" cy="211.3" r="4.8" fill="#d9484b"/><text x="148.7" y="213.7" font-family="Liberation Sans" font-size="6.5" font-weight="bold" fill="#fff" text-anchor="middle" >8</text>
<polygon points="129.8,249.9 146.9,251.3 146.9,263.7 123.9,270.9" fill="#1d5b94" stroke="#1b409a" stroke-width="0.8" stroke-linejoin="round" /><text x="137.2" y="263.6" font-family="Liberation Sans" font-size="10.5" font-weight="bold" fill="#fff" text-anchor="middle" textLength="19.6" lengthAdjust="spacingAndGlyphs">SWC</text><circle cx="148.7" cy="248.2" r="4.8" fill="#d9484b"/><text x="148.7" y="250.6" font-family="Liberation Sans" font-size="6.5" font-weight="bold" fill="#fff" text-anchor="middle" >8</text>
<polygon points="363.7,840.7 380.8,842.1 380.8,854.5 357.8,861.7" fill="#1d5b94" stroke="#1b409a" stroke-width="0.8" stroke-linejoin="round" /><text x="371.1" y="854.4" font-family="Liberation Sans" font-size="10.5" font-weight="bold" fill="#fff" text-anchor="middle" textLength="19.6" lengthAdjust="spacingAndGlyphs">SWC</text><circle cx="382.5" cy="839.0" r="4.8" fill="#d9484b"/><text x="382.5" y="841.4" font-family="Liberation Sans" font-size="6.5" font-weight="bold" fill="#fff" text-anchor="middle" >8</text>
<polygon points="363.7,865.3 380.8,866.7 380.8,879.1 357.8,886.3" fill="#1d5b94" stroke="#1b409a" stroke-width="0.8" stroke-linejoin="round" /><text x="371.1" y="879.0" font-family="Liberation Sans" font-size="10.5" font-weight="bold" fill="#fff" text-anchor="middle" textLength="19.6" lengthAdjust="spacingAndGlyphs">SWC</text><circle cx="382.5" cy="863.6" r="4.8" fill="#d9484b"/><text x="382.5" y="866.0" font-family="Liberation Sans" font-size="6.5" font-weight="bold" fill="#fff" text-anchor="middle" >8</text>
<polygon points="1200.6,791.4 1217.7,792.8 1217.7,805.2 1194.7,812.4" fill="#1d5b94" stroke="#1b409a" stroke-width="0.8" stroke-linejoin="round" /><text x="1208.0" y="805.1" font-family="Liberation Sans" font-size="10.5" font-weight="bold" fill="#fff" text-anchor="middle" textLength="19.6" lengthAdjust="spacingAndGlyphs">SWC</text><circle cx="1219.4" cy="789.7" r="4.8" fill="#d9484b"/><text x="1219.4" y="792.1" font-family="Liberation Sans" font-size="6.5" font-weight="bold" fill="#fff" text-anchor="middle" >8</text>
<polygon points="1200.6,828.4 1217.7,829.8 1217.7,842.2 1194.7,849.4" fill="#1d5b94" stroke="#1b409a" stroke-width="0.8" stroke-linejoin="round" /><text x="1208.0" y="842.1" font-family="Liberation Sans" font-size="10.5" font-weight="bold" fill="#fff" text-anchor="middle" textLength="19.6" lengthAdjust="spacingAndGlyphs">SWC</text><circle cx="1219.4" cy="826.6" r="4.8" fill="#d9484b"/><text x="1219.4" y="829.0" font-family="Liberation Sans" font-size="6.5" font-weight="bold" fill="#fff" text-anchor="middle" >8</text>
<polygon points="917.5,422.2 934.6,423.6 934.6,436.0 911.6,443.2" fill="#1d5b94" stroke="#1b409a" stroke-width="0.8" stroke-linejoin="round" /><text x="924.9" y="435.9" font-family="Liberation Sans" font-size="10.5" font-weight="bold" fill="#fff" text-anchor="middle" textLength="19.6" lengthAdjust="spacingAndGlyphs">SWC</text><circle cx="936.3" cy="420.5" r="4.8" fill="#d9484b"/><text x="936.3" y="422.9" font-family="Liberation Sans" font-size="6.5" font-weight="bold" fill="#fff" text-anchor="middle" >8</text>
<polygon points="917.5,459.1 934.6,460.5 934.6,472.9 911.6,480.1" fill="#1d5b94" stroke="#1b409a" stroke-width="0.8" stroke-linejoin="round" /><text x="924.9" y="472.8" font-family="Liberation Sans" font-size="10.5" font-weight="bold" fill="#fff" text-anchor="middle" textLength="19.6" lengthAdjust="spacingAndGlyphs">SWC</text><circle cx="936.3" cy="457.4" r="4.8" fill="#d9484b"/><text x="936.3" y="459.8" font-family="Liberation Sans" font-size="6.5" font-weight="bold" fill="#fff" text-anchor="middle" >8</text>
<polygon points="802.5,421.6 802.5,442.6 822.3,432.2" fill="#1d5b94" stroke="#1b409a" stroke-width="0.8" stroke-linejoin="round" /><text x="808.1" y="436.3" font-family="Liberation Sans" font-size="11.5" font-weight="bold" fill="#fff" text-anchor="middle" >S</text>
<polygon points="802.5,446.2 802.5,467.2 822.3,456.8" fill="#1d5b94" stroke="#1b409a" stroke-width="0.8" stroke-linejoin="round" /><text x="808.1" y="460.9" font-family="Liberation Sans" font-size="11.5" font-weight="bold" fill="#fff" text-anchor="middle" >S</text>
<rect x="867.1" y="449.2" width="15.4" height="39.8" fill="#27b8c0" opacity="0.35" rx="1.5"/><rect x="868.6" y="450.7" width="12.4" height="36.8" fill="#1fa4ad"/><g transform="translate(874.8,469.5) skewX(-8) scale(0.95)" fill="none" stroke="#fff" stroke-width="1.2"><ellipse rx="2.6" ry="3.9"/><path d="M-1.8,2.8 L1.8,-2.8"/></g>
<circle cx="887.1" cy="481.5" r="4.4" fill="#e03e5c"/>
<polygon points="917.5,496.1 934.6,497.5 934.6,509.9 911.6,517.1" fill="#1d5b94" stroke="#1b409a" stroke-width="0.8" stroke-linejoin="round" /><text x="924.9" y="509.8" font-family="Liberation Sans" font-size="10.5" font-weight="bold" fill="#fff" text-anchor="middle" textLength="19.6" lengthAdjust="spacingAndGlyphs">SWC</text><circle cx="936.3" cy="494.4" r="4.8" fill="#d9484b"/><text x="936.3" y="496.8" font-family="Liberation Sans" font-size="6.5" font-weight="bold" fill="#fff" text-anchor="middle" >8</text>
<polygon points="917.5,533.0 934.6,534.4 934.6,546.8 911.6,554.0" fill="#1d5b94" stroke="#1b409a" stroke-width="0.8" stroke-linejoin="round" /><text x="924.9" y="546.7" font-family="Liberation Sans" font-size="10.5" font-weight="bold" fill="#fff" text-anchor="middle" textLength="19.6" lengthAdjust="spacingAndGlyphs">SWC</text><circle cx="936.3" cy="531.3" r="4.8" fill="#d9484b"/><text x="936.3" y="533.7" font-family="Liberation Sans" font-size="6.5" font-weight="bold" fill="#fff" text-anchor="middle" >8</text>
<polygon points="802.5,495.5 802.5,516.5 822.3,506.1" fill="#1d5b94" stroke="#1b409a" stroke-width="0.8" stroke-linejoin="round" /><text x="808.1" y="510.2" font-family="Liberation Sans" font-size="11.5" font-weight="bold" fill="#fff" text-anchor="middle" >S</text>
<polygon points="802.5,520.1 802.5,541.1 822.3,530.7" fill="#1d5b94" stroke="#1b409a" stroke-width="0.8" stroke-linejoin="round" /><text x="808.1" y="534.8" font-family="Liberation Sans" font-size="11.5" font-weight="bold" fill="#fff" text-anchor="middle" >S</text>
<rect x="867.1" y="523.1" width="15.4" height="39.8" fill="#27b8c0" opacity="0.35" rx="1.5"/><rect x="868.6" y="524.6" width="12.4" height="36.8" fill="#1fa4ad"/><g transform="translate(874.8,543.4) skewX(-8) scale(0.95)" fill="none" stroke="#fff" stroke-width="1.2"><ellipse rx="2.6" ry="3.9"/><path d="M-1.8,2.8 L1.8,-2.8"/></g>
<circle cx="887.1" cy="555.3" r="4.4" fill="#e03e5c"/>
<polygon points="917.5,569.9 934.6,571.3 934.6,583.7 911.6,590.9" fill="#1d5b94" stroke="#1b409a" stroke-width="0.8" stroke-linejoin="round" /><text x="924.9" y="583.6" font-family="Liberation Sans" font-size="10.5" font-weight="bold" fill="#fff" text-anchor="middle" textLength="19.6" lengthAdjust="spacingAndGlyphs">SWC</text><circle cx="936.3" cy="568.2" r="4.8" fill="#d9484b"/><text x="936.3" y="570.6" font-family="Liberation Sans" font-size="6.5" font-weight="bold" fill="#fff" text-anchor="middle" >8</text>
<polygon points="917.5,606.8 934.6,608.2 934.6,620.6 911.6,627.8" fill="#1d5b94" stroke="#1b409a" stroke-width="0.8" stroke-linejoin="round" /><text x="924.9" y="620.5" font-family="Liberation Sans" font-size="10.5" font-weight="bold" fill="#fff" text-anchor="middle" textLength="19.6" lengthAdjust="spacingAndGlyphs">SWC</text><circle cx="936.3" cy="605.1" r="4.8" fill="#d9484b"/><text x="936.3" y="607.5" font-family="Liberation Sans" font-size="6.5" font-weight="bold" fill="#fff" text-anchor="middle" >8</text>
<polygon points="802.5,569.3 802.5,590.3 822.3,579.9" fill="#1d5b94" stroke="#1b409a" stroke-width="0.8" stroke-linejoin="round" /><text x="808.1" y="584.0" font-family="Liberation Sans" font-size="11.5" font-weight="bold" fill="#fff" text-anchor="middle" >S</text>
<polygon points="802.5,593.9 802.5,614.9 822.3,604.5" fill="#1d5b94" stroke="#1b409a" stroke-width="0.8" stroke-linejoin="round" /><text x="808.1" y="608.6" font-family="Liberation Sans" font-size="11.5" font-weight="bold" fill="#fff" text-anchor="middle" >S</text>
<rect x="867.1" y="596.9" width="15.4" height="39.8" fill="#27b8c0" opacity="0.35" rx="1.5"/><rect x="868.6" y="598.4" width="12.4" height="36.8" fill="#1fa4ad"/><g transform="translate(874.8,617.2) skewX(-8) scale(0.95)" fill="none" stroke="#fff" stroke-width="1.2"><ellipse rx="2.6" ry="3.9"/><path d="M-1.8,2.8 L1.8,-2.8"/></g>
<circle cx="887.1" cy="629.1" r="4.4" fill="#e03e5c"/>
<polygon points="917.5,643.8 934.6,645.2 934.6,657.6 911.6,664.8" fill="#1d5b94" stroke="#1b409a" stroke-width="0.8" stroke-linejoin="round" /><text x="924.9" y="657.5" font-family="Liberation Sans" font-size="10.5" font-weight="bold" fill="#fff" text-anchor="middle" textLength="19.6" lengthAdjust="spacingAndGlyphs">SWC</text><circle cx="936.3" cy="642.0" r="4.8" fill="#d9484b"/><text x="936.3" y="644.4" font-family="Liberation Sans" font-size="6.5" font-weight="bold" fill="#fff" text-anchor="middle" >8</text>
<polygon points="917.5,680.7 934.6,682.1 934.6,694.5 911.6,701.7" fill="#1d5b94" stroke="#1b409a" stroke-width="0.8" stroke-linejoin="round" /><text x="924.9" y="694.4" font-family="Liberation Sans" font-size="10.5" font-weight="bold" fill="#fff" text-anchor="middle" textLength="19.6" lengthAdjust="spacingAndGlyphs">SWC</text><circle cx="936.3" cy="679.0" r="4.8" fill="#d9484b"/><text x="936.3" y="681.4" font-family="Liberation Sans" font-size="6.5" font-weight="bold" fill="#fff" text-anchor="middle" >8</text>
<polygon points="802.5,643.2 802.5,664.2 822.3,653.8" fill="#1d5b94" stroke="#1b409a" stroke-width="0.8" stroke-linejoin="round" /><text x="808.1" y="657.9" font-family="Liberation Sans" font-size="11.5" font-weight="bold" fill="#fff" text-anchor="middle" >S</text>
<polygon points="802.5,667.8 802.5,688.8 822.3,678.4" fill="#1d5b94" stroke="#1b409a" stroke-width="0.8" stroke-linejoin="round" /><text x="808.1" y="682.5" font-family="Liberation Sans" font-size="11.5" font-weight="bold" fill="#fff" text-anchor="middle" >S</text>
<rect x="867.1" y="670.8" width="15.4" height="39.8" fill="#27b8c0" opacity="0.35" rx="1.5"/><rect x="868.6" y="672.3" width="12.4" height="36.8" fill="#1fa4ad"/><g transform="translate(874.8,691.1) skewX(-8) scale(0.95)" fill="none" stroke="#fff" stroke-width="1.2"><ellipse rx="2.6" ry="3.9"/><path d="M-1.8,2.8 L1.8,-2.8"/></g>
<circle cx="887.1" cy="703.0" r="4.4" fill="#e03e5c"/>
<polygon points="917.5,717.6 934.6,719.0 934.6,731.4 911.6,738.6" fill="#1d5b94" stroke="#1b409a" stroke-width="0.8" stroke-linejoin="round" /><text x="924.9" y="731.3" font-family="Liberation Sans" font-size="10.5" font-weight="bold" fill="#fff" text-anchor="middle" textLength="19.6" lengthAdjust="spacingAndGlyphs">SWC</text><circle cx="936.3" cy="715.9" r="4.8" fill="#d9484b"/><text x="936.3" y="718.3" font-family="Liberation Sans" font-size="6.5" font-weight="bold" fill="#fff" text-anchor="middle" >8</text>
<polygon points="917.5,754.5 934.6,755.9 934.6,768.3 911.6,775.5" fill="#1d5b94" stroke="#1b409a" stroke-width="0.8" stroke-linejoin="round" /><text x="924.9" y="768.2" font-family="Liberation Sans" font-size="10.5" font-weight="bold" fill="#fff" text-anchor="middle" textLength="19.6" lengthAdjust="spacingAndGlyphs">SWC</text><circle cx="936.3" cy="752.8" r="4.8" fill="#d9484b"/><text x="936.3" y="755.2" font-family="Liberation Sans" font-size="6.5" font-weight="bold" fill="#fff" text-anchor="middle" >8</text>
<polygon points="802.5,717.0 802.5,738.0 822.3,727.6" fill="#1d5b94" stroke="#1b409a" stroke-width="0.8" stroke-linejoin="round" /><text x="808.1" y="731.7" font-family="Liberation Sans" font-size="11.5" font-weight="bold" fill="#fff" text-anchor="middle" >S</text>
<polygon points="802.5,741.6 802.5,762.6 822.3,752.2" fill="#1d5b94" stroke="#1b409a" stroke-width="0.8" stroke-linejoin="round" /><text x="808.1" y="756.3" font-family="Liberation Sans" font-size="11.5" font-weight="bold" fill="#fff" text-anchor="middle" >S</text>
<rect x="867.1" y="744.6" width="15.4" height="39.8" fill="#27b8c0" opacity="0.35" rx="1.5"/><rect x="868.6" y="746.1" width="12.4" height="36.8" fill="#1fa4ad"/><g transform="translate(874.8,764.9) skewX(-8) scale(0.95)" fill="none" stroke="#fff" stroke-width="1.2"><ellipse rx="2.6" ry="3.9"/><path d="M-1.8,2.8 L1.8,-2.8"/></g>
<polygon points="802.5,790.8 802.5,811.8 822.3,801.4" fill="#1d5b94" stroke="#1b409a" stroke-width="0.8" stroke-linejoin="round" /><text x="808.1" y="805.5" font-family="Liberation Sans" font-size="11.5" font-weight="bold" fill="#fff" text-anchor="middle" >S</text>
<polygon points="802.5,815.4 802.5,836.4 822.3,826.0" fill="#1d5b94" stroke="#1b409a" stroke-width="0.8" stroke-linejoin="round" /><text x="808.1" y="830.1" font-family="Liberation Sans" font-size="11.5" font-weight="bold" fill="#fff" text-anchor="middle" >S</text>
<g transform="translate(422.0,161.5) rotate(0)"><path d="M-16,-17 Q6,-17 17.5,0 Q6,17 -16,17 Q-10.5,0 -16,-17 Z" fill="#1d5b94" stroke="#17469c" stroke-width="0.9"/></g><g transform="translate(422.0,161.5) rotate(0)"><text x="-0.5" y="4.2" font-family="Liberation Sans" font-size="11.8" font-weight="normal" fill="#fff" text-anchor="middle" textLength="16.5" lengthAdjust="spacingAndGlyphs" stroke="#fff" stroke-width="0.25">OR</text></g>
<g transform="translate(87.1,267.1) rotate(-90)"><path d="M-16,-17 Q6,-17 17.5,0 Q6,17 -16,17 Q-10.5,0 -16,-17 Z" fill="#1d5b94" stroke="#17469c" stroke-width="0.9"/></g><g transform="translate(87.1,267.1) rotate(-90)"><text x="-0.5" y="4.2" font-family="Liberation Sans" font-size="11.8" font-weight="normal" fill="#fff" text-anchor="middle" textLength="16.5" lengthAdjust="spacingAndGlyphs" stroke="#fff" stroke-width="0.25">OR</text></g>
<g transform="translate(333.3,278.6) rotate(90)"><path d="M-16,-17 Q6,-17 17.5,0 Q6,17 -16,17 Q-10.5,0 -16,-17 Z" fill="#1d5b94" stroke="#17469c" stroke-width="0.9"/></g><g transform="translate(333.3,278.6) rotate(90)"><text x="-0.5" y="4.2" font-family="Liberation Sans" font-size="11.8" font-weight="normal" fill="#fff" text-anchor="middle" textLength="16.5" lengthAdjust="spacingAndGlyphs" stroke="#fff" stroke-width="0.25">OR</text></g>
<g transform="translate(363.1,309.2) rotate(0)"><path d="M-16,-17 Q6,-17 17.5,0 Q6,17 -16,17 Q-10.5,0 -16,-17 Z" fill="#1d5b94" stroke="#17469c" stroke-width="0.9"/></g><g transform="translate(363.1,309.2) rotate(0)"><text x="-0.5" y="4.2" font-family="Liberation Sans" font-size="11.8" font-weight="normal" fill="#fff" text-anchor="middle" textLength="16.5" lengthAdjust="spacingAndGlyphs" stroke="#fff" stroke-width="0.25">OR</text></g>
<g transform="translate(366.6,900.1) rotate(180)"><path d="M-16,-17 Q6,-17 17.5,0 Q6,17 -16,17 Q-10.5,0 -16,-17 Z" fill="#1d5b94" stroke="#17469c" stroke-width="0.9"/></g><g transform="translate(366.6,900.1) rotate(180)"><text x="-0.5" y="4.2" font-family="Liberation Sans" font-size="11.8" font-weight="normal" fill="#fff" text-anchor="middle" textLength="16.5" lengthAdjust="spacingAndGlyphs" stroke="#fff" stroke-width="0.25">OR</text></g>
<g transform="translate(983.3,333.8) rotate(90)"><text x="0.0" y="3.2" font-family="Liberation Sans" font-size="9" font-weight="bold" fill="#fff" text-anchor="middle" textLength="15.5" lengthAdjust="spacingAndGlyphs">MUX</text></g>
<g transform="translate(983.3,370.7) rotate(90)"><text x="0.0" y="3.2" font-family="Liberation Sans" font-size="9" font-weight="bold" fill="#fff" text-anchor="middle" textLength="15.5" lengthAdjust="spacingAndGlyphs">MUX</text></g>
<circle cx="992.4" cy="321.7" r="4.8" fill="#d9484b"/><text x="992.4" y="324.1" font-family="Liberation Sans" font-size="6.5" font-weight="bold" fill="#fff" text-anchor="middle" >8</text>
<circle cx="992.4" cy="358.6" r="4.8" fill="#d9484b"/><text x="992.4" y="361.0" font-family="Liberation Sans" font-size="6.5" font-weight="bold" fill="#fff" text-anchor="middle" >8</text>
<g transform="translate(273.9,383.0) rotate(-90)"><text x="0.0" y="3.2" font-family="Liberation Sans" font-size="9" font-weight="bold" fill="#fff" text-anchor="middle" textLength="15.5" lengthAdjust="spacingAndGlyphs">MUX</text></g>
<g transform="translate(323.2,383.0) rotate(-90)"><text x="0.0" y="3.2" font-family="Liberation Sans" font-size="9" font-weight="bold" fill="#fff" text-anchor="middle" textLength="15.5" lengthAdjust="spacingAndGlyphs">MUX</text></g>
<circle cx="264.8" cy="395.5" r="4.8" fill="#d9484b"/><text x="264.8" y="397.9" font-family="Liberation Sans" font-size="6.5" font-weight="bold" fill="#fff" text-anchor="middle" >16</text>
<circle cx="314.0" cy="395.5" r="4.8" fill="#d9484b"/><text x="314.0" y="397.9" font-family="Liberation Sans" font-size="6.5" font-weight="bold" fill="#fff" text-anchor="middle" >8</text>
<path d="M426.1,297.1 L472.4,297.1 A7,7 0 0 0 489.4,297.1 L521.7,297.1 L524.7,317.5 L423.1,317.5 Z" fill="#065097"/><g transform="translate(431.7,310.9) rotate(90)"><text x="0.0" y="2.8" font-family="Liberation Serif" font-size="8.6" font-weight="normal" fill="#e6eef8" text-anchor="end" >128</text></g><polygon points="429.5,313.9 433.9,313.9 431.7,316.9" fill="#fff" /><g transform="translate(444.0,310.9) rotate(90)"><text x="0.0" y="2.8" font-family="Liberation Serif" font-size="8.6" font-weight="normal" fill="#e6eef8" text-anchor="end" >64</text></g><polygon points="441.8,313.9 446.2,313.9 444.0,316.9" fill="#fff" /><g transform="translate(456.3,310.9) rotate(90)"><text x="0.0" y="2.8" font-family="Liberation Serif" font-size="8.6" font-weight="normal" fill="#e6eef8" text-anchor="end" >32</text></g><polygon points="454.1,313.9 458.5,313.9 456.3,316.9" fill="#fff" /><g transform="translate(468.6,310.9) rotate(90)"><text x="0.0" y="2.8" font-family="Liberation Serif" font-size="8.6" font-weight="normal" fill="#e6eef8" text-anchor="end" >16</text></g><polygon points="466.4,313.9 470.8,313.9 468.6,316.9" fill="#fff" /><g transform="translate(480.9,310.9) rotate(90)"><text x="0.0" y="2.8" font-family="Liberation Serif" font-size="8.6" font-weight="normal" fill="#e6eef8" text-anchor="end" >8</text></g><polygon points="478.7,313.9 483.1,313.9 480.9,316.9" fill="#fff" /><g transform="translate(493.3,310.9) rotate(90)"><text x="0.0" y="2.8" font-family="Liberation Serif" font-size="8.6" font-weight="normal" fill="#e6eef8" text-anchor="end" >4</text></g><polygon points="491.1,313.9 495.5,313.9 493.3,316.9" fill="#fff" /><g transform="translate(505.6,310.9) rotate(90)"><text x="0.0" y="2.8" font-family="Liberation Serif" font-size="8.6" font-weight="normal" fill="#e6eef8" text-anchor="end" >2</text></g><polygon points="503.4,313.9 507.8,313.9 505.6,316.9" fill="#fff" /><g transform="translate(517.9,310.9) rotate(90)"><text x="0.0" y="2.8" font-family="Liberation Serif" font-size="8.6" font-weight="normal" fill="#e6eef8" text-anchor="end" >1</text></g><polygon points="515.7,313.9 520.1,313.9 517.9,316.9" fill="#fff" /><path d="M533.5,349.6 L486.9,349.6 Q462.9,358.6 422.7,362.5 L511.3,364.6 Z" fill="#065097" stroke="#0b45a0" stroke-width="0.7"/><g transform="translate(499.1,357.3) scale(-1,1)"><text x="0.0" y="4.3" font-family="Liberation Serif" font-size="12.6" font-weight="normal" fill="#fff" text-anchor="middle" textLength="22.5" lengthAdjust="spacingAndGlyphs" stroke="#fff" stroke-width="0.3">DEC</text></g>
<circle cx="431.7" cy="321.5" r="3.4" fill="#e03e5c"/>
<circle cx="444.0" cy="321.5" r="3.4" fill="#e03e5c"/>
<circle cx="456.3" cy="321.5" r="3.4" fill="#e03e5c"/>
<circle cx="468.6" cy="321.5" r="3.4" fill="#e03e5c"/>
<circle cx="480.9" cy="321.5" r="3.4" fill="#e03e5c"/>
<path d="M549.2,297.1 L595.5,297.1 A7,7 0 0 0 612.5,297.1 L644.7,297.1 L647.7,317.5 L546.2,317.5 Z" fill="#065097"/><g transform="translate(554.8,310.9) rotate(90)"><text x="0.0" y="2.8" font-family="Liberation Serif" font-size="8.6" font-weight="normal" fill="#e6eef8" text-anchor="end" >128</text></g><polygon points="552.6,313.9 557.0,313.9 554.8,316.9" fill="#fff" /><g transform="translate(567.1,310.9) rotate(90)"><text x="0.0" y="2.8" font-family="Liberation Serif" font-size="8.6" font-weight="normal" fill="#e6eef8" text-anchor="end" >64</text></g><polygon points="564.9,313.9 569.3,313.9 567.1,316.9" fill="#fff" /><g transform="translate(579.4,310.9) rotate(90)"><text x="0.0" y="2.8" font-family="Liberation Serif" font-size="8.6" font-weight="normal" fill="#e6eef8" text-anchor="end" >32</text></g><polygon points="577.2,313.9 581.6,313.9 579.4,316.9" fill="#fff" /><g transform="translate(591.7,310.9) rotate(90)"><text x="0.0" y="2.8" font-family="Liberation Serif" font-size="8.6" font-weight="normal" fill="#e6eef8" text-anchor="end" >16</text></g><polygon points="589.5,313.9 593.9,313.9 591.7,316.9" fill="#fff" /><g transform="translate(604.0,310.9) rotate(90)"><text x="0.0" y="2.8" font-family="Liberation Serif" font-size="8.6" font-weight="normal" fill="#e6eef8" text-anchor="end" >8</text></g><polygon points="601.8,313.9 606.2,313.9 604.0,316.9" fill="#fff" /><g transform="translate(616.3,310.9) rotate(90)"><text x="0.0" y="2.8" font-family="Liberation Serif" font-size="8.6" font-weight="normal" fill="#e6eef8" text-anchor="end" >4</text></g><polygon points="614.1,313.9 618.5,313.9 616.3,316.9" fill="#fff" /><g transform="translate(628.6,310.9) rotate(90)"><text x="0.0" y="2.8" font-family="Liberation Serif" font-size="8.6" font-weight="normal" fill="#e6eef8" text-anchor="end" >2</text></g><polygon points="626.4,313.9 630.8,313.9 628.6,316.9" fill="#fff" /><g transform="translate(640.9,310.9) rotate(90)"><text x="0.0" y="2.8" font-family="Liberation Serif" font-size="8.6" font-weight="normal" fill="#e6eef8" text-anchor="end" >1</text></g><polygon points="638.7,313.9 643.1,313.9 640.9,316.9" fill="#fff" /><path d="M656.5,349.6 L609.9,349.6 Q585.9,358.6 545.8,362.5 L634.3,364.6 Z" fill="#065097" stroke="#0b45a0" stroke-width="0.7"/><g transform="translate(622.1,357.3) scale(-1,1)"><text x="0.0" y="4.3" font-family="Liberation Serif" font-size="12.6" font-weight="normal" fill="#fff" text-anchor="middle" textLength="22.5" lengthAdjust="spacingAndGlyphs" stroke="#fff" stroke-width="0.3">DEC</text></g>
<circle cx="554.8" cy="321.5" r="3.4" fill="#e03e5c"/>
<circle cx="567.1" cy="321.5" r="3.4" fill="#e03e5c"/>
<circle cx="579.4" cy="321.5" r="3.4" fill="#e03e5c"/>
<circle cx="591.7" cy="321.5" r="3.4" fill="#e03e5c"/>
<circle cx="604.0" cy="321.5" r="3.4" fill="#e03e5c"/>
<path d="M672.3,297.1 L718.6,297.1 A7,7 0 0 0 735.6,297.1 L767.8,297.1 L770.8,317.5 L669.3,317.5 Z" fill="#065097"/><g transform="translate(677.9,310.9) rotate(90)"><text x="0.0" y="2.8" font-family="Liberation Serif" font-size="8.6" font-weight="normal" fill="#e6eef8" text-anchor="end" >128</text></g><polygon points="675.7,313.9 680.1,313.9 677.9,316.9" fill="#fff" /><g transform="translate(690.2,310.9) rotate(90)"><text x="0.0" y="2.8" font-family="Liberation Serif" font-size="8.6" font-weight="normal" fill="#e6eef8" text-anchor="end" >64</text></g><polygon points="688.0,313.9 692.4,313.9 690.2,316.9" fill="#fff" /><g transform="translate(702.5,310.9) rotate(90)"><text x="0.0" y="2.8" font-family="Liberation Serif" font-size="8.6" font-weight="normal" fill="#e6eef8" text-anchor="end" >32</text></g><polygon points="700.3,313.9 704.7,313.9 702.5,316.9" fill="#fff" /><g transform="translate(714.8,310.9) rotate(90)"><text x="0.0" y="2.8" font-family="Liberation Serif" font-size="8.6" font-weight="normal" fill="#e6eef8" text-anchor="end" >16</text></g><polygon points="712.6,313.9 717.0,313.9 714.8,316.9" fill="#fff" /><g transform="translate(727.1,310.9) rotate(90)"><text x="0.0" y="2.8" font-family="Liberation Serif" font-size="8.6" font-weight="normal" fill="#e6eef8" text-anchor="end" >8</text></g><polygon points="724.9,313.9 729.3,313.9 727.1,316.9" fill="#fff" /><g transform="translate(739.4,310.9) rotate(90)"><text x="0.0" y="2.8" font-family="Liberation Serif" font-size="8.6" font-weight="normal" fill="#e6eef8" text-anchor="end" >4</text></g><polygon points="737.2,313.9 741.6,313.9 739.4,316.9" fill="#fff" /><g transform="translate(751.7,310.9) rotate(90)"><text x="0.0" y="2.8" font-family="Liberation Serif" font-size="8.6" font-weight="normal" fill="#e6eef8" text-anchor="end" >2</text></g><polygon points="749.5,313.9 753.9,313.9 751.7,316.9" fill="#fff" /><g transform="translate(764.0,310.9) rotate(90)"><text x="0.0" y="2.8" font-family="Liberation Serif" font-size="8.6" font-weight="normal" fill="#e6eef8" text-anchor="end" >1</text></g><polygon points="761.8,313.9 766.2,313.9 764.0,316.9" fill="#fff" /><path d="M779.6,349.6 L733.0,349.6 Q709.0,358.6 668.9,362.5 L757.4,364.6 Z" fill="#065097" stroke="#0b45a0" stroke-width="0.7"/><g transform="translate(745.2,357.3) scale(-1,1)"><text x="0.0" y="4.3" font-family="Liberation Serif" font-size="12.6" font-weight="normal" fill="#fff" text-anchor="middle" textLength="22.5" lengthAdjust="spacingAndGlyphs" stroke="#fff" stroke-width="0.3">DEC</text></g>
<circle cx="677.9" cy="321.5" r="3.4" fill="#e03e5c"/>
<circle cx="690.2" cy="321.5" r="3.4" fill="#e03e5c"/>
<circle cx="702.5" cy="321.5" r="3.4" fill="#e03e5c"/>
<circle cx="714.8" cy="321.5" r="3.4" fill="#e03e5c"/>
<circle cx="727.1" cy="321.5" r="3.4" fill="#e03e5c"/>
<path d="M370.4,107.8 L391.5,105.1 L391.5,206.7 L370.4,203.0 L370.4,158.4 L375.2,154.0 L375.2,144.4 L370.4,140.0 Z" fill="#065097" stroke="#0b45a0" stroke-width="0.6"/><text x="384.3" y="115.8" font-family="Liberation Sans" font-size="9.3" font-weight="normal" fill="#dbe6f4" text-anchor="end" >1</text><polygon points="386.9,109.9 386.9,114.5 390.3,112.2" fill="#fff" /><text x="384.3" y="128.2" font-family="Liberation Sans" font-size="9.3" font-weight="normal" fill="#dbe6f4" text-anchor="end" >2</text><polygon points="386.9,122.3 386.9,126.9 390.3,124.6" fill="#fff" /><text x="384.3" y="140.5" font-family="Liberation Sans" font-size="9.3" font-weight="normal" fill="#dbe6f4" text-anchor="end" >4</text><polygon points="386.9,134.6 386.9,139.2 390.3,136.9" fill="#fff" /><text x="384.3" y="152.8" font-family="Liberation Sans" font-size="9.3" font-weight="normal" fill="#dbe6f4" text-anchor="end" >8</text><polygon points="386.9,146.9 386.9,151.5 390.3,149.2" fill="#fff" /><text x="384.3" y="165.1" font-family="Liberation Sans" font-size="9.3" font-weight="normal" fill="#dbe6f4" text-anchor="end" >16</text><polygon points="386.9,159.2 386.9,163.8 390.3,161.5" fill="#fff" /><text x="384.3" y="177.4" font-family="Liberation Sans" font-size="9.3" font-weight="normal" fill="#dbe6f4" text-anchor="end" >32</text><polygon points="386.9,171.5 386.9,176.1 390.3,173.8" fill="#fff" /><text x="384.3" y="189.7" font-family="Liberation Sans" font-size="9.3" font-weight="normal" fill="#dbe6f4" text-anchor="end" >64</text><polygon points="386.9,183.8 386.9,188.4 390.3,186.1" fill="#fff" /><text x="384.3" y="202.0" font-family="Liberation Sans" font-size="9.3" font-weight="normal" fill="#dbe6f4" text-anchor="end" >128</text><polygon points="386.9,196.1 386.9,200.7 390.3,198.4" fill="#fff" />
<circle cx="394.8" cy="112.2" r="3.4" fill="#e03e5c"/>
<circle cx="394.8" cy="124.6" r="3.4" fill="#e03e5c"/>
<circle cx="394.8" cy="136.9" r="3.4" fill="#e03e5c"/>
<circle cx="394.8" cy="149.2" r="3.4" fill="#e03e5c"/>
<rect x="251.0" y="165.5" width="41.6" height="28.7" fill="#2cc3c8" opacity="0.3" rx="2"/><rect x="253.0" y="167.5" width="37.6" height="24.7" fill="#1fa4ad"/><text x="271.8" y="183.0" font-family="Liberation Sans" font-size="8.6" font-weight="normal" fill="#d8f2f2" text-anchor="middle" textLength="33" letter-spacing="0.6">LEG IF</text>
<path d="M278,217.3 H290.4 V229.4 H303 V241.6 H278 Z" fill="#1fa4ad" stroke="#2cc3c8" stroke-opacity="0.35" stroke-width="2.5"/><g transform="translate(284.3,236.2) skewX(-8) scale(0.95)" fill="none" stroke="#fff" stroke-width="1.2"><ellipse rx="2.6" ry="3.9"/><path d="M-1.8,2.8 L1.8,-2.8"/></g>
<path d="M1016,352 H1066 V364.3 H1041.4 V377.2 H1016 Z" fill="#1fa4ad" stroke="#2cc3c8" stroke-opacity="0.35" stroke-width="2.5"/><text x="1040.0" y="367.3" font-family="Liberation Sans" font-size="8.6" font-weight="normal" fill="#d8f2f2" text-anchor="middle" textLength="38" letter-spacing="0.6">LEG ALU</text>
<polygon points="77.6,204.0 86.0,211.0 93.0,221.0 97.5,233.0 77.0,238.5 71.2,230.0 80.5,222.5" fill="#1d5b94" stroke="#1b409a" stroke-width="0.8" stroke-linejoin="round" /><g transform="translate(85.8,224.6) skewX(-8) scale(0.95)" fill="none" stroke="#fff" stroke-width="1.2"><ellipse rx="2.6" ry="3.9"/><path d="M-1.8,2.8 L1.8,-2.8"/></g><circle cx="93.8" cy="211.5" r="4.8" fill="#d9484b"/><text x="93.8" y="213.9" font-family="Liberation Sans" font-size="6.5" font-weight="bold" fill="#fff" text-anchor="middle" >8</text>
<circle cx="1391.7" cy="530.7" r="3.9" fill="#cf3150" stroke="#e2506c" stroke-width="0.9"/>
<circle cx="1391.7" cy="543.0" r="3.9" fill="#cf3150" stroke="#e2506c" stroke-width="0.9"/>
<circle cx="1391.7" cy="555.3" r="3.9" fill="#cf3150" stroke="#e2506c" stroke-width="0.9"/>
<circle cx="723.9" cy="20.4" r="15" fill="#d05562" stroke="#d2414f" stroke-width="1"/><rect x="718" y="14.9" width="12" height="11" fill="none" stroke="#e8e8e8" stroke-width="2.1"/><rect x="720.3" y="17.2" width="7.4" height="3.4" fill="#e4e4e4"/><rect x="720.3" y="22.1" width="1.8" height="1.8" fill="#e8e8e8"/><rect x="723.1" y="22.1" width="1.8" height="1.8" fill="#e8e8e8"/><rect x="725.9" y="22.1" width="1.8" height="1.8" fill="#e8e8e8"/><circle cx="757.9" cy="20.4" r="15.2" fill="#e09e45" stroke="#d98f2e" stroke-width="1"/><path d="M751.8,25.6 L752.6,22.2 L759.6,15.4 L762.8,18.2 L755.6,25.2 Z" fill="#e8e8ea"/>
<text x="782.0" y="42.6" font-family="Liberation Mono" font-size="12.5" font-weight="bold" fill="#fff" text-anchor="start" stroke="#222" stroke-width="2.2" paint-order="stroke" textLength="48" lengthAdjust="spacingAndGlyphs">OPCODE</text>
<text x="794.0" y="54.8" font-family="Liberation Mono" font-size="12.5" font-weight="bold" fill="#fff" text-anchor="start" stroke="#222" stroke-width="2.2" paint-order="stroke" textLength="32" lengthAdjust="spacingAndGlyphs">ARG1</text>
<text x="802.0" y="67.2" font-family="Liberation Mono" font-size="12.5" font-weight="bold" fill="#fff" text-anchor="start" stroke="#222" stroke-width="2.2" paint-order="stroke" textLength="32" lengthAdjust="spacingAndGlyphs">ARG2</text>
<text x="802.0" y="79.6" font-family="Liberation Mono" font-size="12.5" font-weight="bold" fill="#fff" text-anchor="start" stroke="#222" stroke-width="2.2" paint-order="stroke" textLength="32" lengthAdjust="spacingAndGlyphs">DEST</text>
<text x="617.0" y="251.8" font-family="Liberation Mono" font-size="12.5" font-weight="bold" fill="#fff" text-anchor="start" stroke="#222" stroke-width="2.2" paint-order="stroke" textLength="48" lengthAdjust="spacingAndGlyphs">OPCODE</text>
<g transform="translate(338,38) skewX(-8)" fill="none" stroke="#fff" stroke-width="1.15"><ellipse rx="2.7" ry="4.1"/><path d="M-1.9,2.9 L1.9,-2.9"/></g>
<g transform="translate(222,67) skewX(-8)" fill="none" stroke="#fff" stroke-width="1.15"><ellipse rx="2.7" ry="4.1"/><path d="M-1.9,2.9 L1.9,-2.9"/></g>
<g transform="translate(883,38) skewX(-8)" fill="none" stroke="#fff" stroke-width="1.15"><ellipse rx="2.7" ry="4.1"/><path d="M-1.9,2.9 L1.9,-2.9"/></g>
<g transform="translate(923,75) skewX(-8)" fill="none" stroke="#fff" stroke-width="1.15"><ellipse rx="2.7" ry="4.1"/><path d="M-1.9,2.9 L1.9,-2.9"/></g>
<text x="848.0" y="175.8" font-family="Liberation Mono" font-size="11.5" font-weight="normal" fill="#fff" text-anchor="middle" stroke="#fff" stroke-width="0.3">1</text>
<text x="898.0" y="200.8" font-family="Liberation Mono" font-size="11.5" font-weight="normal" fill="#fff" text-anchor="middle" stroke="#fff" stroke-width="0.3">7</text>
<g transform="translate(267,161) skewX(-8)" fill="none" stroke="#fff" stroke-width="1.15"><ellipse rx="2.7" ry="4.1"/><path d="M-1.9,2.9 L1.9,-2.9"/></g>
<g transform="translate(322,161) skewX(-8)" fill="none" stroke="#fff" stroke-width="1.15"><ellipse rx="2.7" ry="4.1"/><path d="M-1.9,2.9 L1.9,-2.9"/></g>
<g transform="translate(227,186) skewX(-8)" fill="none" stroke="#fff" stroke-width="1.15"><ellipse rx="2.7" ry="4.1"/><path d="M-1.9,2.9 L1.9,-2.9"/></g>
<g transform="translate(181,198) skewX(-8)" fill="none" stroke="#fff" stroke-width="1.15"><ellipse rx="2.7" ry="4.1"/><path d="M-1.9,2.9 L1.9,-2.9"/></g>
<g transform="translate(124,211) skewX(-8)" fill="none" stroke="#fff" stroke-width="1.15"><ellipse rx="2.7" ry="4.1"/><path d="M-1.9,2.9 L1.9,-2.9"/></g>
<g transform="translate(118,223) skewX(-8)" fill="none" stroke="#fff" stroke-width="1.15"><ellipse rx="2.7" ry="4.1"/><path d="M-1.9,2.9 L1.9,-2.9"/></g>
<g transform="translate(256,223) skewX(-8)" fill="none" stroke="#fff" stroke-width="1.15"><ellipse rx="2.7" ry="4.1"/><path d="M-1.9,2.9 L1.9,-2.9"/></g>
<g transform="translate(307,210) skewX(-8)" fill="none" stroke="#fff" stroke-width="1.15"><ellipse rx="2.7" ry="4.1"/><path d="M-1.9,2.9 L1.9,-2.9"/></g>
<g transform="translate(358,212) skewX(-8)" fill="none" stroke="#fff" stroke-width="1.15"><ellipse rx="2.7" ry="4.1"/><path d="M-1.9,2.9 L1.9,-2.9"/></g>
<g transform="translate(63,242) skewX(-8)" fill="none" stroke="#fff" stroke-width="1.15"><ellipse rx="2.7" ry="4.1"/><path d="M-1.9,2.9 L1.9,-2.9"/></g>
<g transform="translate(161,236) skewX(-8)" fill="none" stroke="#fff" stroke-width="1.15"><ellipse rx="2.7" ry="4.1"/><path d="M-1.9,2.9 L1.9,-2.9"/></g>
<g transform="translate(209,225) skewX(-8)" fill="none" stroke="#fff" stroke-width="1.15"><ellipse rx="2.7" ry="4.1"/><path d="M-1.9,2.9 L1.9,-2.9"/></g>
<g transform="translate(198,268) skewX(-8)" fill="none" stroke="#fff" stroke-width="1.15"><ellipse rx="2.7" ry="4.1"/><path d="M-1.9,2.9 L1.9,-2.9"/></g>
<g transform="translate(283,311) skewX(-8)" fill="none" stroke="#fff" stroke-width="1.15"><ellipse rx="2.7" ry="4.1"/><path d="M-1.9,2.9 L1.9,-2.9"/></g>
<g transform="translate(148,321) skewX(-8)" fill="none" stroke="#fff" stroke-width="1.15"><ellipse rx="2.7" ry="4.1"/><path d="M-1.9,2.9 L1.9,-2.9"/></g>
<g transform="translate(167,346) skewX(-8)" fill="none" stroke="#fff" stroke-width="1.15"><ellipse rx="2.7" ry="4.1"/><path d="M-1.9,2.9 L1.9,-2.9"/></g>
<g transform="translate(264,346) skewX(-8)" fill="none" stroke="#fff" stroke-width="1.15"><ellipse rx="2.7" ry="4.1"/><path d="M-1.9,2.9 L1.9,-2.9"/></g>
<g transform="translate(366,358) skewX(-8)" fill="none" stroke="#fff" stroke-width="1.15"><ellipse rx="2.7" ry="4.1"/><path d="M-1.9,2.9 L1.9,-2.9"/></g>
<text x="393.0" y="353.8" font-family="Liberation Mono" font-size="11.5" font-weight="normal" fill="#fff" text-anchor="middle" stroke="#fff" stroke-width="0.3">1</text>
<text x="353.0" y="372.8" font-family="Liberation Mono" font-size="11.5" font-weight="normal" fill="#fff" text-anchor="middle" stroke="#fff" stroke-width="0.3">1</text>
<g transform="translate(135,383) skewX(-8)" fill="none" stroke="#fff" stroke-width="1.15"><ellipse rx="2.7" ry="4.1"/><path d="M-1.9,2.9 L1.9,-2.9"/></g>
<g transform="translate(374,382) skewX(-8)" fill="none" stroke="#fff" stroke-width="1.15"><ellipse rx="2.7" ry="4.1"/><path d="M-1.9,2.9 L1.9,-2.9"/></g>
<g transform="translate(407,472) skewX(-8)" fill="none" stroke="#fff" stroke-width="1.15"><ellipse rx="2.7" ry="4.1"/><path d="M-1.9,2.9 L1.9,-2.9"/></g>
<text x="638.0" y="238.8" font-family="Liberation Mono" font-size="11.5" font-weight="normal" fill="#fff" text-anchor="middle" stroke="#fff" stroke-width="0.3">1</text>
<g transform="translate(612,247) skewX(-8)" fill="none" stroke="#fff" stroke-width="1.15"><ellipse rx="2.7" ry="4.1"/><path d="M-1.9,2.9 L1.9,-2.9"/></g>
<text x="814.0" y="262.8" font-family="Liberation Mono" font-size="11.5" font-weight="normal" fill="#fff" text-anchor="middle" stroke="#fff" stroke-width="0.3">7</text>
<text x="638.0" y="287.8" font-family="Liberation Mono" font-size="11.5" font-weight="normal" fill="#fff" text-anchor="middle" stroke="#fff" stroke-width="0.3">7</text>
<g transform="translate(895,247) skewX(-8)" fill="none" stroke="#fff" stroke-width="1.15"><ellipse rx="2.7" ry="4.1"/><path d="M-1.9,2.9 L1.9,-2.9"/></g>
<g transform="translate(942,247) skewX(-8)" fill="none" stroke="#fff" stroke-width="1.15"><ellipse rx="2.7" ry="4.1"/><path d="M-1.9,2.9 L1.9,-2.9"/></g>
<g transform="translate(1022,267) skewX(-8)" fill="none" stroke="#fff" stroke-width="1.15"><ellipse rx="2.7" ry="4.1"/><path d="M-1.9,2.9 L1.9,-2.9"/></g>
<text x="898.0" y="283.8" font-family="Liberation Mono" font-size="11.5" font-weight="normal" fill="#fff" text-anchor="middle" stroke="#fff" stroke-width="0.3">7</text>
<g transform="translate(967,334) skewX(-8)" fill="none" stroke="#fff" stroke-width="1.15"><ellipse rx="2.7" ry="4.1"/><path d="M-1.9,2.9 L1.9,-2.9"/></g>
<g transform="translate(998,347) skewX(-8)" fill="none" stroke="#fff" stroke-width="1.15"><ellipse rx="2.7" ry="4.1"/><path d="M-1.9,2.9 L1.9,-2.9"/></g>
<g transform="translate(1059,383) skewX(-8)" fill="none" stroke="#fff" stroke-width="1.15"><ellipse rx="2.7" ry="4.1"/><path d="M-1.9,2.9 L1.9,-2.9"/></g>
<g transform="translate(971,395) skewX(-8)" fill="none" stroke="#fff" stroke-width="1.15"><ellipse rx="2.7" ry="4.1"/><path d="M-1.9,2.9 L1.9,-2.9"/></g>
<text x="925.0" y="384.8" font-family="Liberation Mono" font-size="11.5" font-weight="normal" fill="#fff" text-anchor="middle" stroke="#fff" stroke-width="0.3">7</text>
<g transform="translate(633,383) skewX(-8)" fill="none" stroke="#fff" stroke-width="1.15"><ellipse rx="2.7" ry="4.1"/><path d="M-1.9,2.9 L1.9,-2.9"/></g>
<g transform="translate(850,407) skewX(-8)" fill="none" stroke="#fff" stroke-width="1.15"><ellipse rx="2.7" ry="4.1"/><path d="M-1.9,2.9 L1.9,-2.9"/></g>
<g transform="translate(948,400) skewX(-8)" fill="none" stroke="#fff" stroke-width="1.15"><ellipse rx="2.7" ry="4.1"/><path d="M-1.9,2.9 L1.9,-2.9"/></g>
<g transform="translate(975,407) skewX(-8)" fill="none" stroke="#fff" stroke-width="1.15"><ellipse rx="2.7" ry="4.1"/><path d="M-1.9,2.9 L1.9,-2.9"/></g>
<g transform="translate(1010,419) skewX(-8)" fill="none" stroke="#fff" stroke-width="1.15"><ellipse rx="2.7" ry="4.1"/><path d="M-1.9,2.9 L1.9,-2.9"/></g>
<g transform="translate(998,457) skewX(-8)" fill="none" stroke="#fff" stroke-width="1.15"><ellipse rx="2.7" ry="4.1"/><path d="M-1.9,2.9 L1.9,-2.9"/></g>
<g transform="translate(964,468) skewX(-8)" fill="none" stroke="#fff" stroke-width="1.15"><ellipse rx="2.7" ry="4.1"/><path d="M-1.9,2.9 L1.9,-2.9"/></g>
<g transform="translate(905,468) skewX(-8)" fill="none" stroke="#fff" stroke-width="1.15"><ellipse rx="2.7" ry="4.1"/><path d="M-1.9,2.9 L1.9,-2.9"/></g>
<g transform="translate(1010,494) skewX(-8)" fill="none" stroke="#fff" stroke-width="1.15"><ellipse rx="2.7" ry="4.1"/><path d="M-1.9,2.9 L1.9,-2.9"/></g>
<g transform="translate(957,506) skewX(-8)" fill="none" stroke="#fff" stroke-width="1.15"><ellipse rx="2.7" ry="4.1"/><path d="M-1.9,2.9 L1.9,-2.9"/></g>
<g transform="translate(850,510) skewX(-8)" fill="none" stroke="#fff" stroke-width="1.15"><ellipse rx="2.7" ry="4.1"/><path d="M-1.9,2.9 L1.9,-2.9"/></g>
<g transform="translate(984,542) skewX(-8)" fill="none" stroke="#fff" stroke-width="1.15"><ellipse rx="2.7" ry="4.1"/><path d="M-1.9,2.9 L1.9,-2.9"/></g>
<g transform="translate(998,610) skewX(-8)" fill="none" stroke="#fff" stroke-width="1.15"><ellipse rx="2.7" ry="4.1"/><path d="M-1.9,2.9 L1.9,-2.9"/></g>
<g transform="translate(1010,569) skewX(-8)" fill="none" stroke="#fff" stroke-width="1.15"><ellipse rx="2.7" ry="4.1"/><path d="M-1.9,2.9 L1.9,-2.9"/></g>
<g transform="translate(948,579) skewX(-8)" fill="none" stroke="#fff" stroke-width="1.15"><ellipse rx="2.7" ry="4.1"/><path d="M-1.9,2.9 L1.9,-2.9"/></g>
<g transform="translate(964,616) skewX(-8)" fill="none" stroke="#fff" stroke-width="1.15"><ellipse rx="2.7" ry="4.1"/><path d="M-1.9,2.9 L1.9,-2.9"/></g>
<g transform="translate(850,583) skewX(-8)" fill="none" stroke="#fff" stroke-width="1.15"><ellipse rx="2.7" ry="4.1"/><path d="M-1.9,2.9 L1.9,-2.9"/></g>
<g transform="translate(850,675) skewX(-8)" fill="none" stroke="#fff" stroke-width="1.15"><ellipse rx="2.7" ry="4.1"/><path d="M-1.9,2.9 L1.9,-2.9"/></g>
<g transform="translate(984,690) skewX(-8)" fill="none" stroke="#fff" stroke-width="1.15"><ellipse rx="2.7" ry="4.1"/><path d="M-1.9,2.9 L1.9,-2.9"/></g>
<g transform="translate(998,697) skewX(-8)" fill="none" stroke="#fff" stroke-width="1.15"><ellipse rx="2.7" ry="4.1"/><path d="M-1.9,2.9 L1.9,-2.9"/></g>
<g transform="translate(1010,642) skewX(-8)" fill="none" stroke="#fff" stroke-width="1.15"><ellipse rx="2.7" ry="4.1"/><path d="M-1.9,2.9 L1.9,-2.9"/></g>
<g transform="translate(948,727) skewX(-8)" fill="none" stroke="#fff" stroke-width="1.15"><ellipse rx="2.7" ry="4.1"/><path d="M-1.9,2.9 L1.9,-2.9"/></g>
<g transform="translate(1010,727) skewX(-8)" fill="none" stroke="#fff" stroke-width="1.15"><ellipse rx="2.7" ry="4.1"/><path d="M-1.9,2.9 L1.9,-2.9"/></g>
<g transform="translate(984,764) skewX(-8)" fill="none" stroke="#fff" stroke-width="1.15"><ellipse rx="2.7" ry="4.1"/><path d="M-1.9,2.9 L1.9,-2.9"/></g>
<g transform="translate(913,776) skewX(-8)" fill="none" stroke="#fff" stroke-width="1.15"><ellipse rx="2.7" ry="4.1"/><path d="M-1.9,2.9 L1.9,-2.9"/></g>
<g transform="translate(1047,760) skewX(-8)" fill="none" stroke="#fff" stroke-width="1.15"><ellipse rx="2.7" ry="4.1"/><path d="M-1.9,2.9 L1.9,-2.9"/></g>
<g transform="translate(944,801) skewX(-8)" fill="none" stroke="#fff" stroke-width="1.15"><ellipse rx="2.7" ry="4.1"/><path d="M-1.9,2.9 L1.9,-2.9"/></g>
<g transform="translate(850,796) skewX(-8)" fill="none" stroke="#fff" stroke-width="1.15"><ellipse rx="2.7" ry="4.1"/><path d="M-1.9,2.9 L1.9,-2.9"/></g>
<g transform="translate(850,845) skewX(-8)" fill="none" stroke="#fff" stroke-width="1.15"><ellipse rx="2.7" ry="4.1"/><path d="M-1.9,2.9 L1.9,-2.9"/></g>
<g transform="translate(1030,850) skewX(-8)" fill="none" stroke="#fff" stroke-width="1.15"><ellipse rx="2.7" ry="4.1"/><path d="M-1.9,2.9 L1.9,-2.9"/></g>
<g transform="translate(894,862) skewX(-8)" fill="none" stroke="#fff" stroke-width="1.15"><ellipse rx="2.7" ry="4.1"/><path d="M-1.9,2.9 L1.9,-2.9"/></g>
<g transform="translate(956,875) skewX(-8)" fill="none" stroke="#fff" stroke-width="1.15"><ellipse rx="2.7" ry="4.1"/><path d="M-1.9,2.9 L1.9,-2.9"/></g>
<g transform="translate(457,850) skewX(-8)" fill="none" stroke="#fff" stroke-width="1.15"><ellipse rx="2.7" ry="4.1"/><path d="M-1.9,2.9 L1.9,-2.9"/></g>
<g transform="translate(744,850) skewX(-8)" fill="none" stroke="#fff" stroke-width="1.15"><ellipse rx="2.7" ry="4.1"/><path d="M-1.9,2.9 L1.9,-2.9"/></g>
<g transform="translate(609,862) skewX(-8)" fill="none" stroke="#fff" stroke-width="1.15"><ellipse rx="2.7" ry="4.1"/><path d="M-1.9,2.9 L1.9,-2.9"/></g>
<g transform="translate(1183,862) skewX(-8)" fill="none" stroke="#fff" stroke-width="1.15"><ellipse rx="2.7" ry="4.1"/><path d="M-1.9,2.9 L1.9,-2.9"/></g>
<g transform="translate(1404,680) skewX(-8)" fill="none" stroke="#fff" stroke-width="1.15"><ellipse rx="2.7" ry="4.1"/><path d="M-1.9,2.9 L1.9,-2.9"/></g>
<g transform="translate(1224,715) skewX(-8)" fill="none" stroke="#fff" stroke-width="1.15"><ellipse rx="2.7" ry="4.1"/><path d="M-1.9,2.9 L1.9,-2.9"/></g>
<g transform="translate(1229,727) skewX(-8)" fill="none" stroke="#fff" stroke-width="1.15"><ellipse rx="2.7" ry="4.1"/><path d="M-1.9,2.9 L1.9,-2.9"/></g>
<g transform="translate(1269,752) skewX(-8)" fill="none" stroke="#fff" stroke-width="1.15"><ellipse rx="2.7" ry="4.1"/><path d="M-1.9,2.9 L1.9,-2.9"/></g>
<g transform="translate(1220,764) skewX(-8)" fill="none" stroke="#fff" stroke-width="1.15"><ellipse rx="2.7" ry="4.1"/><path d="M-1.9,2.9 L1.9,-2.9"/></g>
<g transform="translate(1182,759) skewX(-8)" fill="none" stroke="#fff" stroke-width="1.15"><ellipse rx="2.7" ry="4.1"/><path d="M-1.9,2.9 L1.9,-2.9"/></g>
<g transform="translate(1281,791) skewX(-8)" fill="none" stroke="#fff" stroke-width="1.15"><ellipse rx="2.7" ry="4.1"/><path d="M-1.9,2.9 L1.9,-2.9"/></g>
<g transform="translate(1249,801) skewX(-8)" fill="none" stroke="#fff" stroke-width="1.15"><ellipse rx="2.7" ry="4.1"/><path d="M-1.9,2.9 L1.9,-2.9"/></g>
<g transform="translate(1269,819) skewX(-8)" fill="none" stroke="#fff" stroke-width="1.15"><ellipse rx="2.7" ry="4.1"/><path d="M-1.9,2.9 L1.9,-2.9"/></g>
<g transform="translate(1056,543) skewX(-8)" fill="none" stroke="#fff" stroke-width="1.15"><ellipse rx="2.7" ry="4.1"/><path d="M-1.9,2.9 L1.9,-2.9"/></g>
<g transform="translate(407,720) skewX(-8)" fill="none" stroke="#fff" stroke-width="1.15"><ellipse rx="2.7" ry="4.1"/><path d="M-1.9,2.9 L1.9,-2.9"/></g>
<g transform="translate(419,642) skewX(-8)" fill="none" stroke="#fff" stroke-width="1.15"><ellipse rx="2.7" ry="4.1"/><path d="M-1.9,2.9 L1.9,-2.9"/></g>
<g transform="translate(393,863) skewX(-8)" fill="none" stroke="#fff" stroke-width="1.15"><ellipse rx="2.7" ry="4.1"/><path d="M-1.9,2.9 L1.9,-2.9"/></g>
</svg></body></html>
